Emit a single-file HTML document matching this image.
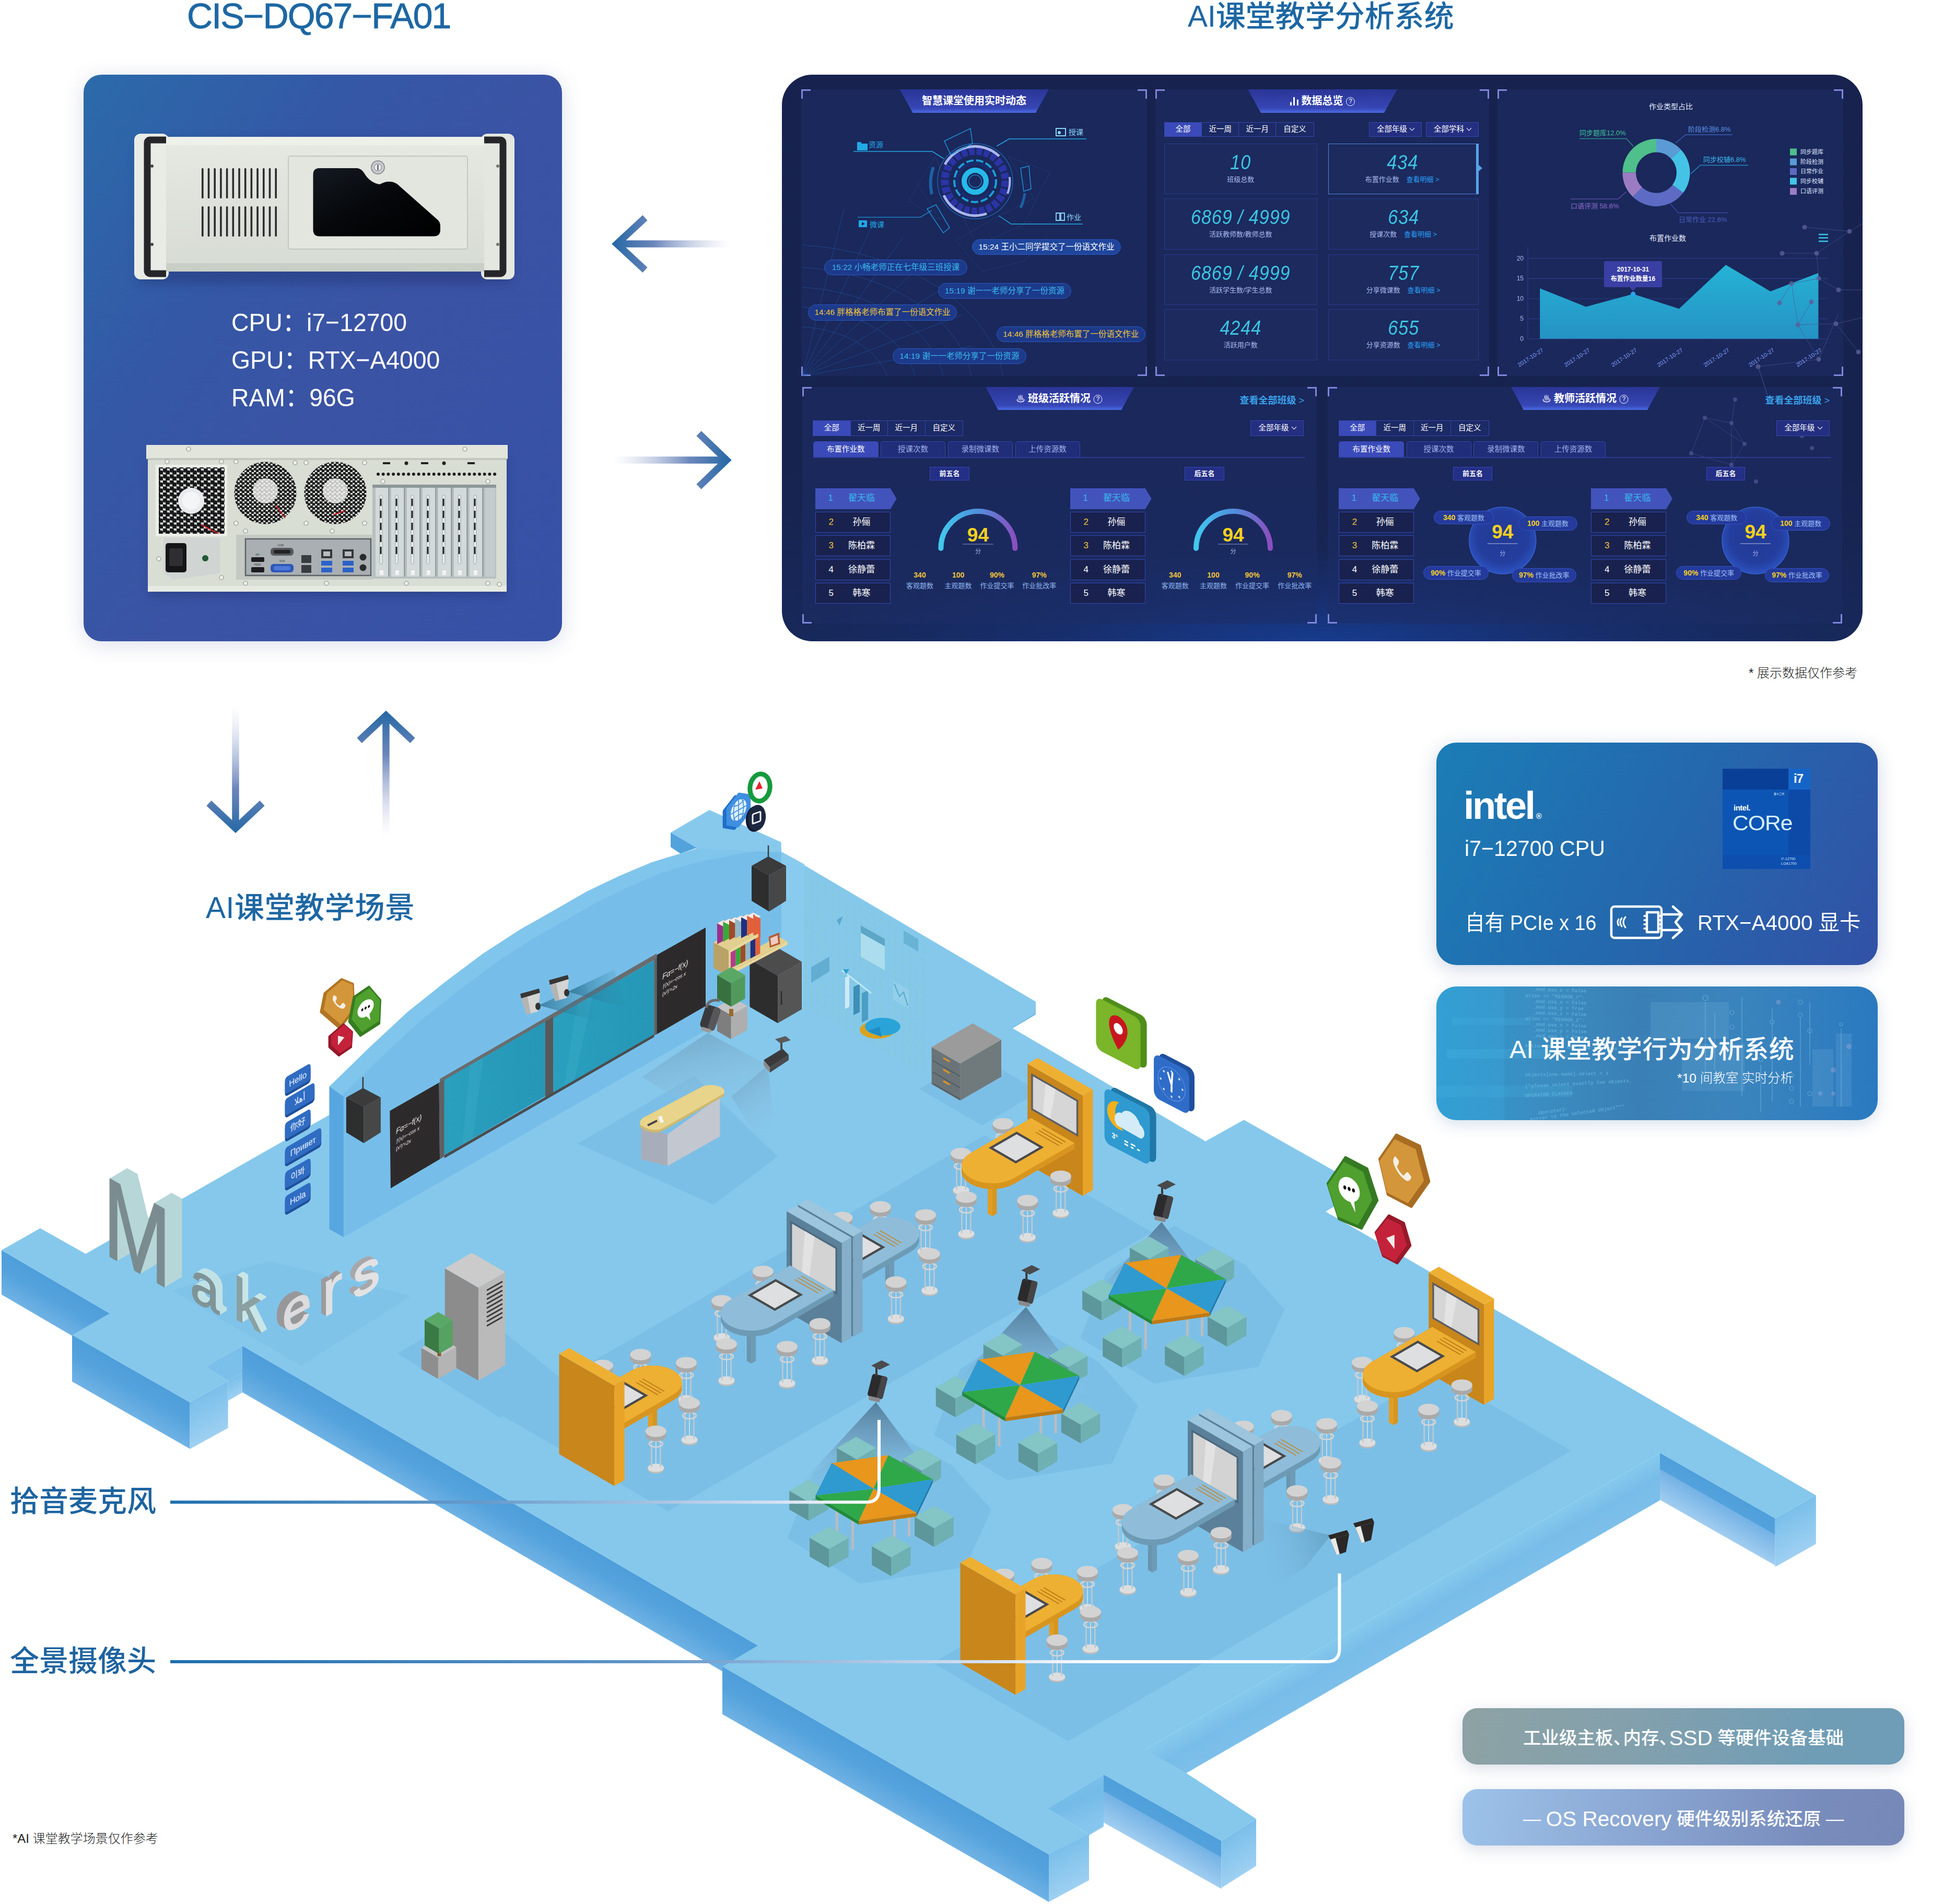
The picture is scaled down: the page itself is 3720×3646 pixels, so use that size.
<!DOCTYPE html>
<html lang="zh-CN">
<head>
<meta charset="utf-8">
<title>CIS-DQ67-FA01 AI课堂教学分析系统</title>
<style>

*{margin:0;padding:0;box-sizing:border-box}
html,body{width:3720px;height:3646px;background:#fff;overflow:hidden}
body{font-family:"Liberation Sans","Noto Sans CJK SC",sans-serif;color:#222}
#page{position:relative;width:3720px;height:3646px;overflow:hidden;background:#fff}
.abs{position:absolute}
.t{position:absolute;white-space:nowrap;line-height:1}
.ttl{color:#1d67a3;font-weight:500}
svg{position:absolute;left:0;top:0;overflow:visible}
svg text{font-family:"Liberation Sans","Noto Sans CJK SC",sans-serif}
svg g.mono text{font-family:"Liberation Mono",monospace}
/* hardware card */
#hw{left:160px;top:143px;width:916px;height:1085px;border-radius:34px;
 background:linear-gradient(125deg,#2b6baa 0%,#3458a6 30%,#3b53a4 55%,#3651a6 100%);
 box-shadow:0 6px 40px rgba(60,80,140,.18)}
#hw .spec{color:#fff;font-size:49px;left:283px;transform:scaleX(.945);transform-origin:0 0}
/* right cards */
#intel{left:2750px;top:1422px;width:845px;height:426px;border-radius:38px;
 background:linear-gradient(118deg,#1b7db6 0%,#2468ad 50%,#3251a6 100%);
 box-shadow:0 8px 36px rgba(40,70,140,.22);color:#fff}
#aic{left:2750px;top:1889px;width:845px;height:256px;border-radius:38px;overflow:hidden;
 background:linear-gradient(90deg,#2e9ad0 0%,#3b8ec2 22%,#3a80b6 45%,#3a84bd 70%,#2a79c0 100%);
 box-shadow:0 8px 30px rgba(40,90,150,.18);color:#fff}
.pill{left:2800px;width:846px;height:108px;border-radius:28px;color:#fff;font-size:34.5px;
 text-align:center;line-height:114px;white-space:nowrap;box-shadow:0 8px 30px rgba(90,110,150,.22);font-weight:500}
.pill span{font-size:40.5px;line-height:1;vertical-align:-1.5px}
.pill i{font-style:normal;display:inline-block;width:19px;margin-right:0}
#pill1{top:3271px;background:linear-gradient(100deg,#8da2a4 0%,#82a0ad 40%,#6f9db6 80%,#6f9cb6 100%)}
#pill2{top:3426px;background:linear-gradient(100deg,#9dc3ea 0%,#8aa6d2 40%,#788cbc 80%,#7688b8 100%)}

#dash{left:1497px;top:143px;width:2069px;height:1085px;border-radius:58px;overflow:hidden;
 background:linear-gradient(180deg,#17224e 0%,#17234f 70%,#17285a 100%)}
#dashin{left:-1497px;top:-143px;width:3720px;height:3646px;font-family:"Liberation Sans","Noto Sans CJK SC",sans-serif}
.pnl{background:rgba(30,46,102,.55)}
.pnl i{position:absolute;width:18px;height:18px;border:0 solid #7f86dc}
.pnl .c1{left:0;top:0;border-left-width:3.500px;border-top-width:3.500px}
.pnl .c2{right:0;top:0;border-right-width:3.500px;border-top-width:3.500px}
.pnl .c3{left:0;bottom:0;border-left-width:3.500px;border-bottom-width:3.500px}
.pnl .c4{right:0;bottom:0;border-right-width:3.500px;border-bottom-width:3.500px}
.msg{border-radius:16px;border:1.500px solid #2b57c0;font-size:15.500px;text-align:center;white-space:nowrap}
.tabs{border:1.500px solid #3546b0;background:#1c2a66;display:flex;font-size:14.500px;color:#fff;white-space:nowrap}
.tabs span{display:block;text-align:center;border-right:1.500px solid #3546b0}
.tabs span:last-child{border-right:0}
.tabs span.on{background:#3a4ab8}
.dd{border:1.500px solid #3546b0;background:#242f80;font-size:14.500px;color:#fff;text-align:center;white-space:nowrap}
.dd b{display:inline-block;width:7px;height:7px;border-right:1.500px solid #fff;border-bottom:1.500px solid #fff;transform:translateY(-3px) rotate(45deg);margin-left:2px}
.sb{border:1.500px solid #2a3a8e;background:#1c2a5e;text-align:center;white-space:nowrap}
.sb.act{border:1.500px solid #4f86d8;border-right:5px solid #5aa0e8}
.sb .num{font-size:38px;line-height:38px;margin-top:16px;color:#3cc4e2;font-style:italic;font-weight:400;letter-spacing:1px;font-family:"Liberation Sans",sans-serif;transform:scaleX(.9)}
.sb .lab{font-size:13px;line-height:16px;margin-top:6px;color:#a9b8ea}
.sb .lab em{font-style:normal;color:#2a9df4;margin-left:10px}
.tb2{border:1.500px solid #3546b0;border-bottom:0;background:#202d78;border-radius:5px 5px 0 0;font-size:14.500px;color:#9fb0e8;text-align:center;white-space:nowrap}
.tb2.on{background:#3a4ab8;color:#fff}
.bdg{border:1.500px solid #3546b0;background:#242f86;font-size:13px;color:#fff;text-align:center;white-space:nowrap;font-weight:700}
.li{border:1.500px solid #3546b0;background:#19224e;font-size:17px;color:#fff;white-space:nowrap}
.li b{position:absolute;left:25px;font-weight:400}
.li span{position:absolute;left:0;width:100%;text-align:center;padding-left:34px}
.li.on{border:0;background:#4353bc;color:#39b8ee;clip-path:polygon(0 0,144px 0,156px 50%,144px 100%,0 100%)}
.li.on b{color:#39b8ee}
.li.on span{width:144px}
.pl{border-radius:14px;border:1.500px solid #3452c0;background:#243a9c;font-size:13px;color:#9fc0f4;text-align:center;white-space:nowrap}
.pl b{color:#f5d020;font-size:14px}
.bars{display:inline-block;width:16px;height:16px;vertical-align:-2px;background:linear-gradient(90deg,#fff 0 3px,transparent 3px 6.500px,#fff 6.500px 9.500px,transparent 9.500px 13px,#fff 13px 16px);clip-path:polygon(0 60%,3px 60%,3px 0,9.500px 0,9.500px 30%,16px 30%,16px 100%,0 100%)}
.q{display:inline-block;width:17px;height:17px;line-height:15px;border:1.500px solid #fff;border-radius:50%;font-size:12px;font-weight:400;text-align:center;vertical-align:2px}
.fl{font-weight:400;font-size:17px}

</style>
</head>
<body>
<div id="page">

<!-- p_floor -->
<svg width="3720" height="3646" viewBox="0 0 3720 3646" id="floor">
<defs>
<linearGradient id="fd" x1="0" y1="0" x2=".35" y2="1"><stop offset="0" stop-color="#4f9fdb"/><stop offset=".45" stop-color="#55a4de"/><stop offset="1" stop-color="#7ab8e6"/></linearGradient>
<linearGradient id="fl" x1="0" y1="0" x2="0" y2="1"><stop offset="0" stop-color="#79bfea"/><stop offset="1" stop-color="#9fd1f2"/></linearGradient>
<linearGradient id="fm" x1="0" y1="0" x2=".4" y2="1"><stop offset="0" stop-color="#86c9ed"/><stop offset=".55" stop-color="#74bbe8"/><stop offset="1" stop-color="#86c6ee"/></linearGradient>
<linearGradient id="fl2" x1="0" y1="0" x2=".2" y2="1"><stop offset="0" stop-color="#6aaee3"/><stop offset="1" stop-color="#a4d0f1"/></linearGradient>
<linearGradient id="cone" x1="0" y1="0" x2="0" y2="1"><stop offset="0" stop-color="#547f9e" stop-opacity="1"/><stop offset=".45" stop-color="#6f9fc0" stop-opacity=".8"/><stop offset="1" stop-color="#85c8ec" stop-opacity=".1"/></linearGradient>
<linearGradient id="cone2" x1="0" y1="0" x2=".3" y2="1"><stop offset="0" stop-color="#5f8fae" stop-opacity=".9"/><stop offset=".6" stop-color="#8ab8d6" stop-opacity=".45"/><stop offset="1" stop-color="#85c8ec" stop-opacity="0"/></linearGradient>
<linearGradient id="cone3" x1="1" y1="0" x2="0" y2=".3"><stop offset="0" stop-color="#4f86a8" stop-opacity=".9"/><stop offset="1" stop-color="#7bbfe6" stop-opacity="0"/></linearGradient>
<linearGradient id="cone4" x1="0" y1=".5" x2="1" y2=".4"><stop offset="0" stop-color="#2f6f90" stop-opacity=".95"/><stop offset="1" stop-color="#2a88a8" stop-opacity="0"/></linearGradient>
<linearGradient id="teal" x1="0" y1="0" x2="1" y2="0"><stop offset="0" stop-color="#2a9fbe"/><stop offset="1" stop-color="#2697b6"/></linearGradient>
<pattern id="grid" width="13.400" height="13.400" patternUnits="userSpaceOnUse" patternTransform="matrix(1 .577 0 1 1540 1665)"><path d="M0 0H13.400M0 0V13.400" stroke="#7fcab6" stroke-width="1.600" fill="none" opacity=".75"/></pattern>
</defs>
<linearGradient id="sf1" gradientUnits="userSpaceOnUse" x1="3.0" y1="2394.0" x2="-34.0" y2="2457.4"><stop offset="0" stop-color="#4e9eda"/><stop offset="0.45" stop-color="#55a3dd"/><stop offset="1" stop-color="#6fb2e4"/></linearGradient>
<polygon points="3.0,2394.0 210.0,2515.0 210.0,2600.0 3.0,2479.0" fill="url(#sf1)"/>
<linearGradient id="sf2" gradientUnits="userSpaceOnUse" x1="138.0" y1="2556.5" x2="99.7" y2="2623.6"><stop offset="0" stop-color="#4e9eda"/><stop offset="0.45" stop-color="#55a3dd"/><stop offset="1" stop-color="#6fb2e4"/></linearGradient>
<polygon points="138.0,2556.5 363.0,2685.0 363.0,2774.0 138.0,2645.5" fill="url(#sf2)"/>
<linearGradient id="sf3" gradientUnits="userSpaceOnUse" x1="363.0" y1="2685.0" x2="401.1" y2="2754.0"><stop offset="0" stop-color="#7abfea"/><stop offset="1" stop-color="#9ed0f2"/></linearGradient>
<polygon points="363.0,2685.0 436.6,2644.4 436.6,2734.4 363.0,2775.0" fill="url(#sf3)"/>
<linearGradient id="sf4" gradientUnits="userSpaceOnUse" x1="436.6" y1="2644.4" x2="453.1" y2="2672.8"><stop offset="0" stop-color="#7abfea"/><stop offset="1" stop-color="#9ed0f2"/></linearGradient>
<polygon points="436.6,2644.4 464.0,2628.5 464.0,2666.5 436.6,2682.4" fill="url(#sf4)"/>
<linearGradient id="sf5" gradientUnits="userSpaceOnUse" x1="464.0" y1="2577.0" x2="425.3" y2="2643.5"><stop offset="0" stop-color="#4e9eda"/><stop offset="0.45" stop-color="#55a3dd"/><stop offset="1" stop-color="#6fb2e4"/></linearGradient>
<polygon points="464.0,2577.0 1451.0,3151.0 1451.0,3240.0 464.0,2666.0" fill="url(#sf5)"/>
<linearGradient id="sf6" gradientUnits="userSpaceOnUse" x1="1383.0" y1="3191.5" x2="1343.7" y2="3259.9"><stop offset="0" stop-color="#4e9eda"/><stop offset="0.45" stop-color="#55a3dd"/><stop offset="1" stop-color="#6fb2e4"/></linearGradient>
<polygon points="1383.0,3191.5 2008.0,3551.0 2008.0,3642.0 1383.0,3282.5" fill="url(#sf6)"/>
<linearGradient id="sf7" gradientUnits="userSpaceOnUse" x1="2008.0" y1="3551.0" x2="2046.0" y2="3621.5"><stop offset="0" stop-color="#7abfea"/><stop offset="1" stop-color="#9ed0f2"/></linearGradient>
<polygon points="2008.0,3551.0 2085.0,3509.5 2085.0,3600.5 2008.0,3642.0" fill="url(#sf7)"/>
<linearGradient id="sf8" gradientUnits="userSpaceOnUse" x1="2085.0" y1="3509.5" x2="2087.2" y2="3513.2"><stop offset="0" stop-color="#7abfea"/><stop offset="1" stop-color="#9ed0f2"/></linearGradient>
<polygon points="2085.0,3509.5 2113.0,3493.0 2113.0,3498.0 2085.0,3514.5" fill="url(#sf8)"/>
<linearGradient id="sf9" gradientUnits="userSpaceOnUse" x1="2113.0" y1="3398.0" x2="2073.7" y2="3467.8"><stop offset="0" stop-color="#4f9fdb"/><stop offset="0.34" stop-color="#53a2dc"/><stop offset="0.35" stop-color="#74b2e5"/><stop offset="1" stop-color="#a0cdf0"/></linearGradient>
<polygon points="2113.0,3398.0 2338.5,3525.0 2338.5,3617.0 2113.0,3490.0" fill="url(#sf9)"/>
<linearGradient id="sf10" gradientUnits="userSpaceOnUse" x1="2338.5" y1="3525.0" x2="2379.1" y2="3589.3"><stop offset="0" stop-color="#7abfea"/><stop offset="1" stop-color="#9ed0f2"/></linearGradient>
<polygon points="2338.5,3525.0 2405.0,3483.0 2405.0,3573.0 2338.5,3615.0" fill="url(#sf10)"/>
<linearGradient id="sf11" gradientUnits="userSpaceOnUse" x1="2192.0" y1="3350.0" x2="2231.4" y2="3418.3"><stop offset="0" stop-color="#86c9ed"/><stop offset="0.5" stop-color="#78bde9"/><stop offset="1" stop-color="#7cbfea"/></linearGradient>
<polygon points="2192.0,3350.0 3178.0,2782.0 3178.0,2873.0 2192.0,3441.0" fill="url(#sf11)"/>
<linearGradient id="sf12" gradientUnits="userSpaceOnUse" x1="3178.0" y1="2782.0" x2="3139.3" y2="2850.0"><stop offset="0" stop-color="#4f9fdb"/><stop offset="0.34" stop-color="#53a2dc"/><stop offset="0.35" stop-color="#74b2e5"/><stop offset="1" stop-color="#a0cdf0"/></linearGradient>
<polygon points="3178.0,2782.0 3398.7,2907.6 3398.7,2997.6 3178.0,2872.0" fill="url(#sf12)"/>
<linearGradient id="sf13" gradientUnits="userSpaceOnUse" x1="3398.7" y1="2907.6" x2="3438.5" y2="2978.1"><stop offset="0" stop-color="#7abfea"/><stop offset="1" stop-color="#9ed0f2"/></linearGradient>
<polygon points="3398.7,2907.6 3476.8,2863.5 3476.8,2956.5 3398.7,3000.6" fill="url(#sf13)"/>
<polygon points="2192.0,3350.0 2266.0,3392.0 2266.0,3400.0 2192.0,3441.0" fill="#85c8ec"/>
<polygon points="1982.8,1918.0 1982.8,1943.0 1937.0,1970.0 1937.0,1945.0" fill="#74bbe8"/>
<polygon points="1300.0,1700.0 1496.0,1631.0 1982.8,1918.0 1980.7,1941.0 1937.0,1968.0 2308.0,2185.5 2381.5,2144.5 2615.0,2276.3 2538.0,2320.0 3476.8,2863.5 3398.7,2907.6 3178.0,2782.0 2192.0,3350.0 2266.0,3392.0 2405.0,3483.0 2338.5,3525.0 2113.0,3398.0 2005.0,3463.0 2085.0,3512.5 2008.0,3551.0 1383.0,3191.5 1451.0,3151.0 464.0,2577.0 393.4,2617.0 436.6,2644.4 363.0,2685.0 138.0,2556.5 210.0,2515.0 3.0,2394.0 77.0,2352.0 164.0,2401.0 632.0,2134.0" fill="#85c8ec"/>
<polygon points="393.4,2617.0 464.0,2577.0 464.0,2628.5 436.6,2644.4" fill="#7bc0ea"/>
<polygon points="2005.0,3463.0 2113.0,3398.0 2113.0,3493.0 2085.0,3512.5" fill="url(#fm)"/>
<polygon points="958.0,2709.0 1884.6,2174.0 2205.8,2359.5 1279.0,2894.0" fill="#7cbfe6"/>
<polygon points="1785.8,3184.6 2749.0,2628.8 3008.6,2778.0 2045.0,3334.0" fill="#7cbfe6"/>
<polygon points="1106.0,2190.0 1329.0,2060.0 1489.0,2215.0 1366.0,2307.0" fill="#7cbfe6"/>
<polygon points="760.6,2591.7 908.8,2505.0 1075.6,2641.0 958.0,2715.0" fill="#7cbfe6"/>
<polygon points="329.4,2471.3 514.7,2414.7 787.5,2481.6 576.5,2615.4" fill="#80c3e9"/>
<polygon points="1760.0,2085.0 1870.0,2020.0 1990.0,2090.0 1880.0,2155.0" fill="#7cbfe6"/>
<polygon points="630.6,2080.6 708.0,2005.0 780.0,1938.0 852.0,1880.6 924.0,1826.5 996.0,1779.7 1061.8,1742.5 1123.5,1707.0 1185.3,1677.6 1247.0,1651.4 1302.6,1634.4 1333.5,1625.0 1496.0,1625.0 1496.0,1890.0 657.8,2369.0 630.6,2353.7" fill="#80c5ec"/>
<polygon points="657.8,2100.0 652.6,2099.6 730.0,2024.0 802.0,1957.0 874.0,1899.6 946.0,1845.5 1018.0,1798.7 1083.8,1761.5 1145.5,1726.0 1207.3,1696.6 1269.0,1670.4 1339.7,1650.0 1432.3,1632.0 1496.0,1628.0 1496.0,1890.0 657.8,2369.0" fill="#76bee9"/>
<polygon points="630.6,2080.6 657.8,2100.0 657.8,2369.0 630.6,2353.7" fill="#58a6e0"/>
<polygon points="1284.0,1594.3 1358.2,1551.0 1495.6,1612.8 1496.0,1632.0 1333.5,1625.0" fill="#87c9ed"/>
<polygon points="1284.0,1594.3 1333.5,1623.7 1302.6,1634.4 1284.0,1622.0" fill="#52a2dc"/>
<polygon points="1496.0,1631.0 1540.0,1655.0 1540.0,1920.0 1496.0,1893.0" fill="#89cbef"/>
<polygon points="1540.0,1665.0 1772.0,1800.0 1772.0,2065.0 1540.0,1925.0" fill="url(#grid)"/>
<polygon points="1553.0,1852.0 1588.0,1832.0 1588.0,1860.0 1553.0,1882.0" fill="#5aa6cc" opacity=".8"/>
<polygon points="1730.0,1782.0 1758.0,1798.0 1758.0,1822.0 1730.0,1806.0" fill="#62aed2" opacity=".8"/>
<polygon points="1648.0,1772.0 1694.0,1798.0 1694.0,1858.0 1648.0,1832.0" fill="#b8e4f0" opacity=".75"/>
<polygon points="1648.0,1772.0 1694.0,1798.0 1694.0,1812.0 1648.0,1786.0" fill="#4f9cc0" opacity=".85"/>
<polygon points="1710.0,1878.0 1740.0,1896.0 1740.0,1932.0 1710.0,1914.0" fill="#9bd4ec" opacity=".6"/>
<path d="M1712 1884L1722 1908L1730 1900L1738 1926" stroke="#5aa8cc" stroke-width="2" fill="none"/>
<polygon points="1602.0,1762.0 1614.0,1754.0 1607.0,1772.0" fill="#5aa6cc"/>
<polygon points="1618.0,1872.0 1626.0,1868.0 1626.0,1928.0 1618.0,1932.0" fill="#cfeaf4"/>
<polygon points="1634.0,1890.0 1646.0,1884.0 1646.0,1938.0 1634.0,1944.0" fill="#3d8fb8"/>
<polygon points="1650.0,1902.0 1662.0,1896.0 1662.0,1952.0 1650.0,1958.0" fill="#4a9ec6"/>
<path d="M1612 1858L1640 1880L1668 1902" stroke="#bfe6f2" stroke-width="3" fill="none"/><path d="M1614 1856l12 0l-6 10z" fill="#2f9fd0"/>
<ellipse cx="1680" cy="1972" rx="34" ry="17" fill="#d9a320"/><ellipse cx="1690" cy="1966" rx="34" ry="17" fill="#2aa4d8"/><path d="M1662 1974l22-8l4 20z" fill="#1f8cc4"/>
<polygon points="842.0,2066.0 1257.0,1826.0 1257.0,1836.0 842.0,2076.0" fill="#6a6c6e"/>
<polygon points="746.3,2127.2 840.5,2073.2 842.0,2219.8 747.9,2275.4" fill="#2d2a2b"/>
<polygon points="840.5,2073.0 850.8,2067.0 850.8,2214.0 842.0,2220.0" fill="#5f6163"/>
<polygon points="850.8,2068.0 1043.8,1956.3 1043.8,2098.9 850.8,2212.0" fill="url(#teal)"/>
<polygon points="1043.8,1956.3 1059.3,1947.5 1059.3,2092.2 1043.8,2101.0" fill="#56585a"/>
<polygon points="1059.3,1949.6 1252.3,1839.0 1252.3,1980.5 1059.3,2092.2" fill="url(#teal)"/>
<polygon points="1252.3,1837.0 1257.4,1834.0 1257.4,1980.5 1252.3,1983.0" fill="#5f6163"/>
<polygon points="1257.4,1828.7 1351.0,1776.2 1351.0,1926.5 1257.4,1980.5" fill="#2d2a2b"/>
<polygon points="850.8,2212.0 1252.3,1980.5 1252.3,1986.0 850.8,2218.0" fill="#4a4c4e"/>
<polygon points="900.0,2040.0 925.0,2025.0 905.0,2180.0 885.0,2192.0" fill="#3fb0cc" opacity=".35"/>
<polygon points="1105.0,1923.0 1135.0,1905.0 1100.0,2068.0 1080.0,2080.0" fill="#3fb0cc" opacity=".35"/>
<g transform="matrix(.866 -.5 0 1 758 2172)" fill="#e8e8e8" font-size="15" font-style="italic"><text x="0" y="0">Fα=−f(x)</text><text x="0" y="17" font-size="10">ƒ(x)=−cos x</text><text x="0" y="32" font-size="10">(x²)′=2x</text></g>
<g transform="matrix(.866 -.5 0 1 1268 1876)" fill="#e8e8e8" font-size="15" font-style="italic"><text x="0" y="0">Fα=−f(x)</text><text x="0" y="17" font-size="10">ƒ(x)=−cos x</text><text x="0" y="32" font-size="10">(x²)′=2x</text></g>
<path d="M694.9 2062.4V2091.4" stroke="#3a3a3a" stroke-width="2.500"/>
<polygon points="662.9,2101.4 696.4,2119.4 696.4,2189.0 662.9,2168.4" fill="#2e2e2f"/>
<polygon points="696.4,2119.4 728.9,2101.4 728.9,2168.4 696.4,2189.0" fill="#474748"/>
<polygon points="662.9,2101.4 694.9,2083.4 728.9,2101.4 696.4,2119.4" fill="#3b3b3c"/>
<path d="M1471.0 1619.0V1648.0" stroke="#3a3a3a" stroke-width="2.500"/>
<polygon points="1439.0,1658.0 1472.5,1676.0 1472.5,1745.6 1439.0,1725.0" fill="#2e2e2f"/>
<polygon points="1472.5,1676.0 1505.0,1658.0 1505.0,1725.0 1472.5,1745.6" fill="#474748"/>
<polygon points="1439.0,1658.0 1471.0,1640.0 1505.0,1658.0 1472.5,1676.0" fill="#3b3b3c"/>
<polygon points="1032.0,1925.0 1121.0,1883.0 1146.0,1957.0" fill="url(#cone4)" opacity=".8"/>
<polygon points="996.0,1903.0 1032.0,1893.0 1034.0,1901.0 998.0,1912.0" fill="#3a3634"/>
<polygon points="998.0,1912.0 1034.0,1901.0 1030.0,1937.0 1008.0,1943.0" fill="#d4d4d2"/>
<polygon points="998.0,1912.0 1010.0,1909.0 1016.0,1941.0 1008.0,1943.0" fill="#b4b4b2"/>
<ellipse cx="1030.0" cy="1927.0" rx="5" ry="7" fill="#333"/>
<polygon points="1087.0,1899.0 1176.0,1857.0 1201.0,1931.0" fill="url(#cone4)" opacity=".8"/>
<polygon points="1051.0,1877.0 1087.0,1867.0 1089.0,1875.0 1053.0,1886.0" fill="#3a3634"/>
<polygon points="1053.0,1886.0 1089.0,1875.0 1085.0,1911.0 1063.0,1917.0" fill="#d4d4d2"/>
<polygon points="1053.0,1886.0 1065.0,1883.0 1071.0,1915.0 1063.0,1917.0" fill="#b4b4b2"/>
<ellipse cx="1085.0" cy="1901.0" rx="5" ry="7" fill="#333"/>
<polygon points="1435.4,1928.2 1489.1,1959.2 1489.1,1868.2 1435.4,1837.2" fill="#2e2d2d"/>
<polygon points="1535.0,1932.7 1489.1,1959.2 1489.1,1868.2 1535.0,1841.7" fill="#565555"/>
<polygon points="1481.3,1810.7 1535.0,1841.7 1489.1,1868.2 1435.4,1837.2" fill="#4d4c4c"/>
<path d="M1496 1898v26" stroke="#2a2a2a" stroke-width="2.500"/>
<polygon points="1366.0,1804.8 1394.9,1819.8 1394.9,1868.7 1366.0,1853.7" fill="#b9a267"/>
<polygon points="1366.0,1804.8 1394.9,1819.8 1451.7,1787.8 1423.0,1773.0" fill="#e3cf8f"/>
<polygon points="1394.9,1862.7 1507.6,1802.8 1490.0,1793.5 1455.0,1812.0 1451.7,1790.0 1394.9,1822.0" fill="#e3cf8f"/>
<polygon points="1373.0,1768.0 1384.5,1762.0 1384.5,1802.0 1373.0,1808.0" fill="#9b2f8a"/>
<polygon points="1373.0,1768.0 1384.5,1762.0 1399.0,1769.5 1387.5,1775.5" fill="#f3ebe6"/>
<polygon points="1384.5,1765.0 1387.5,1766.5 1387.5,1804.0 1384.5,1802.0" fill="#5a8a58" opacity=".6"/>
<polygon points="1384.5,1765.1 1396.0,1759.1 1396.0,1797.1 1384.5,1803.1" fill="#3aa83a"/>
<polygon points="1384.5,1765.1 1396.0,1759.1 1410.5,1766.6 1399.0,1772.6" fill="#f3ebe6"/>
<polygon points="1396.0,1762.1 1399.0,1763.6 1399.0,1799.1 1396.0,1797.1" fill="#7a3a28" opacity=".6"/>
<polygon points="1396.0,1762.2 1407.5,1756.2 1407.5,1794.2 1396.0,1800.2" fill="#a04a28"/>
<polygon points="1396.0,1762.2 1407.5,1756.2 1422.0,1763.7 1410.5,1769.7" fill="#f3ebe6"/>
<polygon points="1407.5,1759.2 1410.5,1760.7 1410.5,1796.2 1407.5,1794.2" fill="#5a8a58" opacity=".6"/>
<polygon points="1407.5,1759.3 1419.0,1753.3 1419.0,1791.3 1407.5,1797.3" fill="#8fb8c8"/>
<polygon points="1407.5,1759.3 1419.0,1753.3 1433.5,1760.8 1422.0,1766.8" fill="#f3ebe6"/>
<polygon points="1419.0,1756.3 1422.0,1757.8 1422.0,1793.3 1419.0,1791.3" fill="#7a3a28" opacity=".6"/>
<polygon points="1419.0,1756.4 1430.5,1750.4 1430.5,1790.4 1419.0,1796.4" fill="#1f2f80"/>
<polygon points="1419.0,1756.4 1430.5,1750.4 1445.0,1757.9 1433.5,1763.9" fill="#f3ebe6"/>
<polygon points="1430.5,1753.4 1433.5,1754.9 1433.5,1792.4 1430.5,1790.4" fill="#5a8a58" opacity=".6"/>
<polygon points="1430.5,1753.5 1442.0,1747.5 1442.0,1785.5 1430.5,1791.5" fill="#e0603a"/>
<polygon points="1430.5,1753.5 1442.0,1747.5 1456.5,1755.0 1445.0,1761.0" fill="#f3ebe6"/>
<polygon points="1442.0,1750.5 1445.0,1752.0 1445.0,1787.5 1442.0,1785.5" fill="#7a3a28" opacity=".6"/>
<polygon points="1442.0,1752.0 1456.0,1759.0 1456.0,1796.0 1442.0,1790.0" fill="#e25f3c"/>
<polygon points="1399.0,1820.0 1408.4,1815.4 1408.4,1849.0 1399.0,1854.0" fill="#b8388f"/>
<polygon points="1408.4,1815.4 1417.8,1810.8 1417.8,1844.4 1408.4,1849.4" fill="#3aa83a"/>
<polygon points="1417.8,1810.8 1427.2,1806.2 1427.2,1839.8 1417.8,1844.8" fill="#a04a28"/>
<polygon points="1427.2,1806.2 1436.6,1801.6 1436.6,1835.2 1427.2,1840.2" fill="#8fb8c8"/>
<polygon points="1436.6,1801.6 1446.0,1797.0 1446.0,1830.6 1436.6,1835.6" fill="#1f2f80"/>
<polygon points="1446.0,1797.0 1455.4,1792.4 1455.4,1826.0 1446.0,1831.0" fill="#e0603a"/>
<polygon points="1394.9,1819.8 1451.7,1787.8 1451.7,1794.0 1394.9,1826.0" fill="#ead89a"/>
<polygon points="1394.9,1862.7 1507.6,1802.8 1507.6,1809.0 1394.9,1869.0" fill="#ead89a"/>
<polygon points="1471.7,1793.8 1491.7,1785.8 1493.7,1807.8 1473.7,1814.8" fill="#b85a32"/>
<polygon points="1475.0,1796.5 1488.5,1791.0 1490.0,1805.5 1476.5,1810.5" fill="#eeccc0"/>
<polygon points="1372.9,1974.6 1399.7,1990.1 1399.7,1944.1 1372.9,1928.6" fill="#7e7e7e"/>
<polygon points="1430.7,1972.2 1399.7,1990.1 1399.7,1944.1 1430.7,1926.2" fill="#aeaeae"/>
<polygon points="1403.9,1910.7 1430.7,1926.2 1399.7,1944.1 1372.9,1928.6" fill="#c4c4c4"/>
<path d="M1400 1932v14" stroke="#9a6a2a" stroke-width="8"/>
<polygon points="1373.0,1912.3 1399.8,1927.8 1399.8,1882.8 1373.0,1867.3" fill="#38703f"/>
<polygon points="1426.6,1912.3 1399.8,1927.8 1399.8,1882.8 1426.6,1867.3" fill="#519a5c"/>
<polygon points="1399.8,1851.8 1426.6,1867.3 1399.8,1882.8 1373.0,1867.3" fill="#5aa866"/>
<polygon points="1355.0,1978.0 1229.0,2062.0 1400.0,2170.0 1470.0,2040.0" fill="url(#cone2)" opacity=".7"/>
<polygon points="1470.0,2040.0 1400.0,2100.0 1480.0,2225.0 1490.0,2230.0" fill="url(#cone2)" opacity=".6"/>
<polygon points="1227.6,2160.0 1227.6,2219.8 1278.0,2232.7 1278.0,2172.0" fill="#a8adba"/>
<polygon points="1278.0,2172.0 1278.0,2232.7 1378.4,2176.0 1378.4,2100.0" fill="#c3c7d0"/>
<g transform="translate(0 9)">
<path d="M1226 2150Q1222 2140 1236 2134L1346 2076Q1356 2072 1372 2075Q1390 2079 1386 2090L1270 2156Q1250 2166 1226 2150Z" fill="#cdb870"/>
<path d="M1226 2145Q1222 2135 1236 2129L1346 2071Q1356 2067 1372 2070Q1390 2074 1386 2085L1270 2151Q1250 2161 1226 2145Z" fill="#e8d48a"/>
<path d="M1240 2146l18-9" stroke="#444" stroke-width="4"/><path d="M1260 2130l5 12l6-3l-5-12z" fill="#f4f4f4"/>
</g>
<g transform="rotate(18 1360 1948)"><rect x="1345" y="1926" width="30" height="46" rx="8" fill="#3a3a3c"/><rect x="1361" y="1926" width="14" height="46" rx="6" fill="#57575a"/><rect x="1350" y="1970" width="20" height="7" rx="3" fill="#9a9a9c"/></g>
<path d="M1352 1930q4-18 26-14" stroke="#6a6a6c" stroke-width="5" fill="none"/>
<polygon points="1462.0,2030.0 1498.0,2008.0 1510.0,2020.0 1474.0,2044.0" fill="#3a3a3c"/>
<polygon points="1462.0,2030.0 1474.0,2044.0 1474.0,2054.0 1462.0,2040.0" fill="#8a8a8c"/>
<polygon points="1474.0,2044.0 1510.0,2020.0 1510.0,2030.0 1474.0,2054.0" fill="#4a4a4c"/>
<path d="M1496 2012v-22" stroke="#4a4a4c" stroke-width="4"/>
<polygon points="1484.0,1990.0 1504.0,1984.0 1514.0,1992.0 1494.0,1998.0" fill="#5a5a5c"/>
<polygon points="1783.6,2076.1 1838.2,2107.6 1838.2,2036.6 1783.6,2005.1" fill="#6a7478"/>
<polygon points="1917.0,2062.1 1838.2,2107.6 1838.2,2036.6 1917.0,1991.1" fill="#707a7c"/>
<polygon points="1862.4,1959.6 1917.0,1991.1 1838.2,2036.6 1783.6,2005.1" fill="#9b9b9b"/>
<path d="M1786 2031.0L1838 2061.0" stroke="#4e575a" stroke-width="1.500"/>
<path d="M1806 2026.0l12 7" stroke="#e8961c" stroke-width="3"/>
<path d="M1786 2053.0L1838 2083.0" stroke="#4e575a" stroke-width="1.500"/>
<path d="M1806 2048.0l12 7" stroke="#e8961c" stroke-width="3"/>
<path d="M1786 2075.0L1838 2105.0" stroke="#4e575a" stroke-width="1.500"/>
<path d="M1806 2070.0l12 7" stroke="#e8961c" stroke-width="3"/>
<g font-family="Liberation Sans,sans-serif" stroke-linejoin="round">
<text transform="matrix(0.720 0.400 0 1 231.0 2379.5)" font-size="215" fill="#b7d6d8" stroke="#b7d6d8" stroke-width="3">M</text>
<text transform="matrix(0.720 0.400 0 1 230.0 2380.1)" font-size="215" fill="#b7d6d8" stroke="#b7d6d8" stroke-width="3">M</text>
<text transform="matrix(0.720 0.400 0 1 229.0 2380.7)" font-size="215" fill="#b7d6d8" stroke="#b7d6d8" stroke-width="3">M</text>
<text transform="matrix(0.720 0.400 0 1 228.0 2381.3)" font-size="215" fill="#b7d6d8" stroke="#b7d6d8" stroke-width="3">M</text>
<text transform="matrix(0.720 0.400 0 1 227.0 2381.9)" font-size="215" fill="#b7d6d8" stroke="#b7d6d8" stroke-width="3">M</text>
<text transform="matrix(0.720 0.400 0 1 226.0 2382.5)" font-size="215" fill="#b7d6d8" stroke="#b7d6d8" stroke-width="3">M</text>
<text transform="matrix(0.720 0.400 0 1 225.0 2383.0)" font-size="215" fill="#b7d6d8" stroke="#b7d6d8" stroke-width="3">M</text>
<text transform="matrix(0.720 0.400 0 1 224.0 2383.6)" font-size="215" fill="#b7d6d8" stroke="#b7d6d8" stroke-width="3">M</text>
<text transform="matrix(0.720 0.400 0 1 223.0 2384.2)" font-size="215" fill="#b7d6d8" stroke="#b7d6d8" stroke-width="3">M</text>
<text transform="matrix(0.720 0.400 0 1 222.0 2384.8)" font-size="215" fill="#b7d6d8" stroke="#b7d6d8" stroke-width="3">M</text>
<text transform="matrix(0.720 0.400 0 1 221.0 2385.4)" font-size="215" fill="#b7d6d8" stroke="#b7d6d8" stroke-width="3">M</text>
<text transform="matrix(0.720 0.400 0 1 220.0 2386.0)" font-size="215" fill="#b7d6d8" stroke="#b7d6d8" stroke-width="3">M</text>
<text transform="matrix(0.720 0.400 0 1 219.0 2386.6)" font-size="215" fill="#b7d6d8" stroke="#b7d6d8" stroke-width="3">M</text>
<text transform="matrix(0.720 0.400 0 1 218.0 2387.2)" font-size="215" fill="#b7d6d8" stroke="#b7d6d8" stroke-width="3">M</text>
<text transform="matrix(0.720 0.400 0 1 217.0 2387.8)" font-size="215" fill="#b7d6d8" stroke="#b7d6d8" stroke-width="3">M</text>
<text transform="matrix(0.720 0.400 0 1 216.0 2388.4)" font-size="215" fill="#b7d6d8" stroke="#b7d6d8" stroke-width="3">M</text>
<text transform="matrix(0.720 0.400 0 1 215.0 2389.0)" font-size="215" fill="#b7d6d8" stroke="#b7d6d8" stroke-width="3">M</text>
<text transform="matrix(0.720 0.400 0 1 214.0 2389.5)" font-size="215" fill="#b7d6d8" stroke="#b7d6d8" stroke-width="3">M</text>
<text transform="matrix(0.720 0.400 0 1 213.0 2390.1)" font-size="215" fill="#b7d6d8" stroke="#b7d6d8" stroke-width="3">M</text>
<text transform="matrix(0.720 0.400 0 1 212.0 2390.7)" font-size="215" fill="#b7d6d8" stroke="#b7d6d8" stroke-width="3">M</text>
<text transform="matrix(0.720 0.400 0 1 211.0 2391.3)" font-size="215" fill="#b7d6d8" stroke="#b7d6d8" stroke-width="3">M</text>
<text transform="matrix(0.720 0.400 0 1 210.0 2391.9)" font-size="215" fill="#b7d6d8" stroke="#b7d6d8" stroke-width="3">M</text>
<text transform="matrix(0.720 0.400 0 1 209.0 2392.5)" font-size="215" fill="#b7d6d8" stroke="#b7d6d8" stroke-width="3">M</text>
<text transform="matrix(0.720 0.400 0 1 208.0 2393.1)" font-size="215" fill="#b7d6d8" stroke="#b7d6d8" stroke-width="3">M</text>
<text transform="matrix(0.720 0.400 0 1 207.0 2393.7)" font-size="215" fill="#b7d6d8" stroke="#b7d6d8" stroke-width="3">M</text>
<text transform="matrix(0.720 0.400 0 1 206.0 2394.3)" font-size="215" fill="#b7d6d8" stroke="#b7d6d8" stroke-width="3">M</text>
<text transform="matrix(0.720 0.400 0 1 205.0 2394.9)" font-size="215" fill="#b7d6d8" stroke="#b7d6d8" stroke-width="3">M</text>
<text transform="matrix(0.720 0.400 0 1 204.0 2395.5)" font-size="215" fill="#b7d6d8" stroke="#b7d6d8" stroke-width="3">M</text>
<text transform="matrix(0.720 0.400 0 1 203.0 2396.0)" font-size="215" fill="#b7d6d8" stroke="#b7d6d8" stroke-width="3">M</text>
<text transform="matrix(0.720 0.400 0 1 202.0 2396.6)" font-size="215" fill="#b7d6d8" stroke="#b7d6d8" stroke-width="3">M</text>
<text transform="matrix(0.720 0.400 0 1 201.0 2397.2)" font-size="215" fill="#b7d6d8" stroke="#b7d6d8" stroke-width="3">M</text>
<text transform="matrix(0.720 0.400 0 1 200.0 2397.8)" font-size="215" fill="#b7d6d8" stroke="#b7d6d8" stroke-width="3">M</text>
<text transform="matrix(0.720 0.400 0 1 199.0 2398.4)" font-size="215" fill="#b7d6d8" stroke="#b7d6d8" stroke-width="3">M</text>
<text transform="matrix(0.720 0.400 0 1 198.0 2399.0)" font-size="215" fill="#7a8c8f" stroke="#7a8c8f" stroke-width="3">M</text>
<text transform="matrix(0.900 0.500 0 1 377.0 2479.0)" font-size="112" fill="#c0e2e6" stroke="#c0e2e6" stroke-width="2">a</text>
<text transform="matrix(0.900 0.500 0 1 374.8 2480.3)" font-size="112" fill="#c0e2e6" stroke="#c0e2e6" stroke-width="2">a</text>
<text transform="matrix(0.900 0.500 0 1 372.7 2481.7)" font-size="112" fill="#c0e2e6" stroke="#c0e2e6" stroke-width="2">a</text>
<text transform="matrix(0.900 0.500 0 1 370.5 2483.0)" font-size="112" fill="#c0e2e6" stroke="#c0e2e6" stroke-width="2">a</text>
<text transform="matrix(0.900 0.500 0 1 368.3 2484.3)" font-size="112" fill="#c0e2e6" stroke="#c0e2e6" stroke-width="2">a</text>
<text transform="matrix(0.900 0.500 0 1 366.2 2485.7)" font-size="112" fill="#c0e2e6" stroke="#c0e2e6" stroke-width="2">a</text>
<text transform="matrix(0.900 0.500 0 1 364.0 2487.0)" font-size="112" fill="#7f9497" stroke="#7f9497" stroke-width="2">a</text>
<text transform="matrix(0.900 0.500 0 1 458.0 2516.0)" font-size="116" fill="#c8e6e8" stroke="#c8e6e8" stroke-width="2">k</text>
<text transform="matrix(0.900 0.500 0 1 456.2 2517.2)" font-size="116" fill="#c8e6e8" stroke="#c8e6e8" stroke-width="2">k</text>
<text transform="matrix(0.900 0.500 0 1 454.3 2518.3)" font-size="116" fill="#c8e6e8" stroke="#c8e6e8" stroke-width="2">k</text>
<text transform="matrix(0.900 0.500 0 1 452.5 2519.5)" font-size="116" fill="#c8e6e8" stroke="#c8e6e8" stroke-width="2">k</text>
<text transform="matrix(0.900 0.500 0 1 450.7 2520.7)" font-size="116" fill="#c8e6e8" stroke="#c8e6e8" stroke-width="2">k</text>
<text transform="matrix(0.900 0.500 0 1 448.8 2521.8)" font-size="116" fill="#c8e6e8" stroke="#c8e6e8" stroke-width="2">k</text>
<text transform="matrix(0.900 0.500 0 1 447.0 2523.0)" font-size="116" fill="#8aa0a3" stroke="#8aa0a3" stroke-width="2">k</text>
<text transform="matrix(0.950 -0.520 0 1 527.0 2549.0)" font-size="104" fill="#98989b" stroke="#98989b" stroke-width="3">e</text>
<text transform="matrix(0.950 -0.520 0 1 529.3 2550.2)" font-size="104" fill="#98989b" stroke="#98989b" stroke-width="3">e</text>
<text transform="matrix(0.950 -0.520 0 1 531.7 2551.3)" font-size="104" fill="#98989b" stroke="#98989b" stroke-width="3">e</text>
<text transform="matrix(0.950 -0.520 0 1 534.0 2552.5)" font-size="104" fill="#98989b" stroke="#98989b" stroke-width="3">e</text>
<text transform="matrix(0.950 -0.520 0 1 536.3 2553.7)" font-size="104" fill="#98989b" stroke="#98989b" stroke-width="3">e</text>
<text transform="matrix(0.950 -0.520 0 1 538.7 2554.8)" font-size="104" fill="#98989b" stroke="#98989b" stroke-width="3">e</text>
<text transform="matrix(0.950 -0.520 0 1 541.0 2556.0)" font-size="104" fill="#dcdcde" stroke="#dcdcde" stroke-width="3">e</text>
<text transform="matrix(0.950 -0.520 0 1 608.0 2519.0)" font-size="122" fill="#9c9c9f" stroke="#9c9c9f" stroke-width="2">r</text>
<text transform="matrix(0.950 -0.520 0 1 609.8 2520.0)" font-size="122" fill="#9c9c9f" stroke="#9c9c9f" stroke-width="2">r</text>
<text transform="matrix(0.950 -0.520 0 1 611.6 2521.0)" font-size="122" fill="#9c9c9f" stroke="#9c9c9f" stroke-width="2">r</text>
<text transform="matrix(0.950 -0.520 0 1 613.4 2522.0)" font-size="122" fill="#9c9c9f" stroke="#9c9c9f" stroke-width="2">r</text>
<text transform="matrix(0.950 -0.520 0 1 615.2 2523.0)" font-size="122" fill="#9c9c9f" stroke="#9c9c9f" stroke-width="2">r</text>
<text transform="matrix(0.950 -0.520 0 1 617.0 2524.0)" font-size="122" fill="#e0e0e2" stroke="#e0e0e2" stroke-width="2">r</text>
<text transform="matrix(0.950 -0.520 0 1 667.0 2484.0)" font-size="108" fill="#a8a8ab" stroke="#a8a8ab" stroke-width="3">s</text>
<text transform="matrix(0.950 -0.520 0 1 668.8 2485.0)" font-size="108" fill="#a8a8ab" stroke="#a8a8ab" stroke-width="3">s</text>
<text transform="matrix(0.950 -0.520 0 1 670.6 2486.0)" font-size="108" fill="#a8a8ab" stroke="#a8a8ab" stroke-width="3">s</text>
<text transform="matrix(0.950 -0.520 0 1 672.4 2487.0)" font-size="108" fill="#a8a8ab" stroke="#a8a8ab" stroke-width="3">s</text>
<text transform="matrix(0.950 -0.520 0 1 674.2 2488.0)" font-size="108" fill="#a8a8ab" stroke="#a8a8ab" stroke-width="3">s</text>
<text transform="matrix(0.950 -0.520 0 1 676.0 2489.0)" font-size="108" fill="#e2e2e4" stroke="#e2e2e4" stroke-width="3">s</text>
</g>
<polygon points="851.8,2606.8 915.9,2643.8 915.9,2465.8 851.8,2428.8" fill="#8c8c8c"/>
<polygon points="967.4,2614.0 915.9,2643.8 915.9,2465.8 967.4,2436.0" fill="#bababa"/>
<polygon points="903.3,2399.0 967.4,2436.0 915.9,2465.8 851.8,2428.8" fill="#cbcbcb"/>
<path d="M932 2471.0L962 2454.0" stroke="#3a3a3a" stroke-width="2.800"/>
<path d="M932 2479.5L962 2462.5" stroke="#3a3a3a" stroke-width="2.800"/>
<path d="M932 2488.0L962 2471.0" stroke="#3a3a3a" stroke-width="2.800"/>
<path d="M932 2496.5L962 2479.5" stroke="#3a3a3a" stroke-width="2.800"/>
<path d="M932 2505.0L962 2488.0" stroke="#3a3a3a" stroke-width="2.800"/>
<path d="M932 2513.5L962 2496.5" stroke="#3a3a3a" stroke-width="2.800"/>
<path d="M932 2522.0L962 2505.0" stroke="#3a3a3a" stroke-width="2.800"/>
<path d="M932 2530.5L962 2513.5" stroke="#3a3a3a" stroke-width="2.800"/>
<path d="M932 2539.0L962 2522.0" stroke="#3a3a3a" stroke-width="2.800"/>
<polygon points="806.9,2622.0 838.9,2640.5 838.9,2599.5 806.9,2581.0" fill="#8e8e8e"/>
<polygon points="873.5,2620.5 838.9,2640.5 838.9,2599.5 873.5,2579.5" fill="#b4b4b4"/>
<polygon points="841.5,2561.0 873.5,2579.5 838.9,2599.5 806.9,2581.0" fill="#c4c4c4"/>
<path d="M841 2585v12" stroke="#8a5a2a" stroke-width="7"/>
<polygon points="813.0,2576.5 840.7,2592.5 840.7,2543.5 813.0,2527.5" fill="#3a7a45"/>
<polygon points="866.7,2577.5 840.7,2592.5 840.7,2543.5 866.7,2528.5" fill="#56a262"/>
<polygon points="839.0,2512.5 866.7,2528.5 840.7,2543.5 813.0,2527.5" fill="#5aa866"/>
<ellipse cx="1920.4" cy="2225.0" rx="15.500" ry="8" fill="#bcbcbc"/>
<ellipse cx="1920.4" cy="2222.0" rx="15.500" ry="8" fill="#dedede"/>
<path d="M1911.9 2160.0V2221.0M1928.9 2160.0V2221.0" stroke="#bfc9cf" stroke-width="2.600" fill="none"/>
<path d="M1920.4 2162.0V2224.0" stroke="#d6dde2" stroke-width="2" fill="none" opacity=".8"/>
<ellipse cx="1920.4" cy="2176.0" rx="13" ry="6" fill="none" stroke="#d5d5d5" stroke-width="2.500"/>
<path d="M1900.4 2152.0v8a20 11 0 0 0 40 0v-8z" fill="#a9a9a9"/>
<ellipse cx="1920.4" cy="2152.0" rx="20" ry="11" fill="#d3d3d3"/>
<ellipse cx="1840.0" cy="2282.0" rx="15.500" ry="8" fill="#bcbcbc"/>
<ellipse cx="1840.0" cy="2279.0" rx="15.500" ry="8" fill="#dedede"/>
<path d="M1831.5 2217.0V2278.0M1848.5 2217.0V2278.0" stroke="#bfc9cf" stroke-width="2.600" fill="none"/>
<path d="M1840.0 2219.0V2281.0" stroke="#d6dde2" stroke-width="2" fill="none" opacity=".8"/>
<ellipse cx="1840.0" cy="2233.0" rx="13" ry="6" fill="none" stroke="#d5d5d5" stroke-width="2.500"/>
<path d="M1820.0 2209.0v8a20 11 0 0 0 40 0v-8z" fill="#a9a9a9"/>
<ellipse cx="1840.0" cy="2209.0" rx="20" ry="11" fill="#d3d3d3"/>
<polygon points="1967.3,2229.0 2073.0,2290.0 2073.0,2098.0 1967.3,2037.0" fill="#c8861b"/>
<polygon points="2092.4,2278.8 2073.0,2290.0 2073.0,2098.0 2092.4,2086.8" fill="#e8a429"/>
<polygon points="1986.8,2025.8 2092.4,2086.8 2073.0,2098.0 1967.3,2037.0" fill="#eeb033"/>
<polygon points="1974.2,2055.0 2064.3,2107.0 2064.3,2177.0 1974.2,2125.0" fill="#5d5f63"/>
<polygon points="1977.7,2061.0 2060.8,2109.0 2060.8,2171.0 1977.7,2123.0" fill="#d6d6d6"/>
<polygon points="2001.9,2075.0 2021.0,2086.0 2010.6,2142.0 1996.7,2134.0" fill="#e4e4e4"/>
<polygon points="1986.8,2217.8 1986.8,2217.8 1986.8,2217.8 1986.8,2217.8" fill="#e29e22"/>
<polygon points="1986.8,2217.8 1986.8,2217.8 1986.8,2217.8 1986.8,2217.8" fill="#e29e22"/>
<polygon points="1986.8,2217.8 1986.8,2217.8 1986.8,2217.8 1986.8,2217.8" fill="#e29e22"/>
<polygon points="1891.1,2324.0 1899.8,2329.0 1899.8,2248.0 1891.1,2243.0" fill="#e29e22"/>
<polygon points="1908.4,2324.0 1899.8,2329.0 1899.8,2248.0 1908.4,2243.0" fill="#d8951f"/>
<polygon points="1899.8,2238.0 1908.4,2243.0 1899.8,2248.0 1891.1,2243.0" fill="#e29e22"/>
<polygon points="2057.4,2200.0 1941.3,2267.0 1931.0,2271.7 1919.2,2275.0 1906.3,2276.7 1893.2,2276.7 1880.3,2275.0 1868.5,2271.7 1858.2,2267.0 1850.0,2261.1 1844.3,2254.2 1841.3,2246.8 1841.3,2239.2 1844.3,2231.8 1850.0,2224.9 1858.2,2219.0 1974.2,2152.0" fill="#d8951f"/>
<polygon points="2057.4,2189.0 1941.3,2256.0 1941.3,2267.0 2057.4,2200.0" fill="#d8951f"/>
<polygon points="1941.3,2256.0 1931.0,2260.7 1931.0,2271.7 1941.3,2267.0" fill="#d8951f"/>
<polygon points="1931.0,2260.7 1919.2,2264.0 1919.2,2275.0 1931.0,2271.7" fill="#d8951f"/>
<polygon points="1919.2,2264.0 1906.3,2265.7 1906.3,2276.7 1919.2,2275.0" fill="#d8951f"/>
<polygon points="1906.3,2265.7 1893.2,2265.7 1893.2,2276.7 1906.3,2276.7" fill="#d8951f"/>
<polygon points="1893.2,2265.7 1880.3,2264.0 1880.3,2275.0 1893.2,2276.7" fill="#d8951f"/>
<polygon points="1880.3,2264.0 1868.5,2260.7 1868.5,2271.7 1880.3,2275.0" fill="#d8951f"/>
<polygon points="1868.5,2260.7 1858.2,2256.0 1858.2,2267.0 1868.5,2271.7" fill="#d8951f"/>
<polygon points="1858.2,2256.0 1850.0,2250.1 1850.0,2261.1 1858.2,2267.0" fill="#d8951f"/>
<polygon points="1850.0,2250.1 1844.3,2243.2 1844.3,2254.2 1850.0,2261.1" fill="#d8951f"/>
<polygon points="1844.3,2243.2 1841.3,2235.8 1841.3,2246.8 1844.3,2254.2" fill="#d8951f"/>
<polygon points="1841.3,2235.8 1841.3,2228.2 1841.3,2239.2 1841.3,2246.8" fill="#d8951f"/>
<polygon points="1841.3,2228.2 1844.3,2220.8 1844.3,2231.8 1841.3,2239.2" fill="#d8951f"/>
<polygon points="1844.3,2220.8 1850.0,2213.9 1850.0,2224.9 1844.3,2231.8" fill="#d8951f"/>
<polygon points="1850.0,2213.9 1858.2,2208.0 1858.2,2219.0 1850.0,2224.9" fill="#d8951f"/>
<polygon points="1858.2,2208.0 1974.2,2141.0 1974.2,2152.0 1858.2,2219.0" fill="#d8951f"/>
<polygon points="2057.4,2189.0 1941.3,2256.0 1931.0,2260.7 1919.2,2264.0 1906.3,2265.7 1893.2,2265.7 1880.3,2264.0 1868.5,2260.7 1858.2,2256.0 1850.0,2250.1 1844.3,2243.2 1841.3,2235.8 1841.3,2228.2 1844.3,2220.8 1850.0,2213.9 1858.2,2208.0 1974.2,2141.0" fill="#eeb033"/>
<polygon points="1946.5,2167.0 1998.5,2197.0 1944.8,2228.0 1892.8,2198.0" fill="#4a4a4c"/>
<polygon points="1946.5,2172.0 1989.8,2197.0 1944.8,2223.0 1901.5,2198.0" fill="#dedfe0"/>
<path d="M1995.0 2161.0L2040.0 2187.0" stroke="#b77a18" stroke-width="1.800"/>
<path d="M1989.0 2164.5L2034.0 2190.5" stroke="#b77a18" stroke-width="1.800"/>
<path d="M1982.9 2168.0L2027.9 2194.0" stroke="#b77a18" stroke-width="1.800"/>
<ellipse cx="1850.0" cy="2365.5" rx="15.500" ry="8" fill="#bcbcbc"/>
<ellipse cx="1850.0" cy="2362.5" rx="15.500" ry="8" fill="#dedede"/>
<path d="M1841.5 2300.5V2361.5M1858.5 2300.5V2361.5" stroke="#bfc9cf" stroke-width="2.600" fill="none"/>
<path d="M1850.0 2302.5V2364.5" stroke="#d6dde2" stroke-width="2" fill="none" opacity=".8"/>
<ellipse cx="1850.0" cy="2316.5" rx="13" ry="6" fill="none" stroke="#d5d5d5" stroke-width="2.500"/>
<path d="M1830.0 2292.5v8a20 11 0 0 0 40 0v-8z" fill="#a9a9a9"/>
<ellipse cx="1850.0" cy="2292.5" rx="20" ry="11" fill="#d3d3d3"/>
<ellipse cx="1967.3" cy="2372.0" rx="15.500" ry="8" fill="#bcbcbc"/>
<ellipse cx="1967.3" cy="2369.0" rx="15.500" ry="8" fill="#dedede"/>
<path d="M1958.8 2307.0V2368.0M1975.8 2307.0V2368.0" stroke="#bfc9cf" stroke-width="2.600" fill="none"/>
<path d="M1967.3 2309.0V2371.0" stroke="#d6dde2" stroke-width="2" fill="none" opacity=".8"/>
<ellipse cx="1967.3" cy="2323.0" rx="13" ry="6" fill="none" stroke="#d5d5d5" stroke-width="2.500"/>
<path d="M1947.3 2299.0v8a20 11 0 0 0 40 0v-8z" fill="#a9a9a9"/>
<ellipse cx="1967.3" cy="2299.0" rx="20" ry="11" fill="#d3d3d3"/>
<ellipse cx="2030.8" cy="2325.4" rx="15.500" ry="8" fill="#bcbcbc"/>
<ellipse cx="2030.8" cy="2322.4" rx="15.500" ry="8" fill="#dedede"/>
<path d="M2022.3 2260.4V2321.4M2039.3 2260.4V2321.4" stroke="#bfc9cf" stroke-width="2.600" fill="none"/>
<path d="M2030.8 2262.4V2324.4" stroke="#d6dde2" stroke-width="2" fill="none" opacity=".8"/>
<ellipse cx="2030.8" cy="2276.4" rx="13" ry="6" fill="none" stroke="#d5d5d5" stroke-width="2.500"/>
<path d="M2010.8 2252.4v8a20 11 0 0 0 40 0v-8z" fill="#a9a9a9"/>
<ellipse cx="2030.8" cy="2252.4" rx="20" ry="11" fill="#d3d3d3"/>
<ellipse cx="1612.5" cy="2404.6" rx="15.500" ry="8" fill="#bcbcbc"/>
<ellipse cx="1612.5" cy="2401.6" rx="15.500" ry="8" fill="#dedede"/>
<path d="M1604.0 2339.6V2400.6M1621.0 2339.6V2400.6" stroke="#bfc9cf" stroke-width="2.600" fill="none"/>
<path d="M1612.5 2341.6V2403.6" stroke="#d6dde2" stroke-width="2" fill="none" opacity=".8"/>
<ellipse cx="1612.5" cy="2355.6" rx="13" ry="6" fill="none" stroke="#d5d5d5" stroke-width="2.500"/>
<path d="M1592.5 2331.6v8a20 11 0 0 0 40 0v-8z" fill="#a9a9a9"/>
<ellipse cx="1612.5" cy="2331.6" rx="20" ry="11" fill="#d3d3d3"/>
<ellipse cx="1685.6" cy="2384.0" rx="15.500" ry="8" fill="#bcbcbc"/>
<ellipse cx="1685.6" cy="2381.0" rx="15.500" ry="8" fill="#dedede"/>
<path d="M1677.1 2319.0V2380.0M1694.1 2319.0V2380.0" stroke="#bfc9cf" stroke-width="2.600" fill="none"/>
<path d="M1685.6 2321.0V2383.0" stroke="#d6dde2" stroke-width="2" fill="none" opacity=".8"/>
<ellipse cx="1685.6" cy="2335.0" rx="13" ry="6" fill="none" stroke="#d5d5d5" stroke-width="2.500"/>
<path d="M1665.6 2311.0v8a20 11 0 0 0 40 0v-8z" fill="#a9a9a9"/>
<ellipse cx="1685.6" cy="2311.0" rx="20" ry="11" fill="#d3d3d3"/>
<ellipse cx="1772.0" cy="2399.5" rx="15.500" ry="8" fill="#bcbcbc"/>
<ellipse cx="1772.0" cy="2396.5" rx="15.500" ry="8" fill="#dedede"/>
<path d="M1763.5 2334.5V2395.5M1780.5 2334.5V2395.5" stroke="#bfc9cf" stroke-width="2.600" fill="none"/>
<path d="M1772.0 2336.5V2398.5" stroke="#d6dde2" stroke-width="2" fill="none" opacity=".8"/>
<ellipse cx="1772.0" cy="2350.5" rx="13" ry="6" fill="none" stroke="#d5d5d5" stroke-width="2.500"/>
<path d="M1752.0 2326.5v8a20 11 0 0 0 40 0v-8z" fill="#a9a9a9"/>
<ellipse cx="1772.0" cy="2326.5" rx="20" ry="11" fill="#d3d3d3"/>
<ellipse cx="1460.7" cy="2507.5" rx="15.500" ry="8" fill="#bcbcbc"/>
<ellipse cx="1460.7" cy="2504.5" rx="15.500" ry="8" fill="#dedede"/>
<path d="M1452.2 2442.5V2503.5M1469.2 2442.5V2503.5" stroke="#bfc9cf" stroke-width="2.600" fill="none"/>
<path d="M1460.7 2444.5V2506.5" stroke="#d6dde2" stroke-width="2" fill="none" opacity=".8"/>
<ellipse cx="1460.7" cy="2458.5" rx="13" ry="6" fill="none" stroke="#d5d5d5" stroke-width="2.500"/>
<path d="M1440.7 2434.5v8a20 11 0 0 0 40 0v-8z" fill="#a9a9a9"/>
<ellipse cx="1460.7" cy="2434.5" rx="20" ry="11" fill="#d3d3d3"/>
<ellipse cx="1382.0" cy="2564.0" rx="15.500" ry="8" fill="#bcbcbc"/>
<ellipse cx="1382.0" cy="2561.0" rx="15.500" ry="8" fill="#dedede"/>
<path d="M1373.5 2499.0V2560.0M1390.5 2499.0V2560.0" stroke="#bfc9cf" stroke-width="2.600" fill="none"/>
<path d="M1382.0 2501.0V2563.0" stroke="#d6dde2" stroke-width="2" fill="none" opacity=".8"/>
<ellipse cx="1382.0" cy="2515.0" rx="13" ry="6" fill="none" stroke="#d5d5d5" stroke-width="2.500"/>
<path d="M1362.0 2491.0v8a20 11 0 0 0 40 0v-8z" fill="#a9a9a9"/>
<ellipse cx="1382.0" cy="2491.0" rx="20" ry="11" fill="#d3d3d3"/>
<polygon points="1545.8,2488.3 1545.8,2488.3 1545.8,2488.3 1545.8,2488.3" fill="#6a95ae"/>
<polygon points="1545.8,2488.3 1545.8,2488.3 1545.8,2488.3 1545.8,2488.3" fill="#6a95ae"/>
<polygon points="1545.8,2488.3 1545.8,2488.3 1545.8,2488.3 1545.8,2488.3" fill="#6a95ae"/>
<polygon points="1694.8,2455.3 1703.4,2460.3 1703.4,2379.3 1694.8,2374.3" fill="#6a95ae"/>
<polygon points="1712.1,2455.3 1703.4,2460.3 1703.4,2379.3 1712.1,2374.3" fill="#6d9bb6"/>
<polygon points="1703.4,2369.3 1712.1,2374.3 1703.4,2379.3 1694.8,2374.3" fill="#6a95ae"/>
<polygon points="1556.2,2413.3 1663.6,2351.3 1673.5,2346.8 1684.8,2343.6 1697.1,2342.0 1709.8,2342.0 1722.1,2343.6 1733.4,2346.8 1743.3,2351.3 1751.1,2357.0 1756.6,2363.6 1759.4,2370.7 1759.4,2377.9 1756.6,2385.0 1751.1,2391.6 1743.3,2397.3 1635.9,2459.3" fill="#6d9bb6"/>
<polygon points="1556.2,2402.3 1663.6,2340.3 1663.6,2351.3 1556.2,2413.3" fill="#6d9bb6"/>
<polygon points="1663.6,2340.3 1673.5,2335.8 1673.5,2346.8 1663.6,2351.3" fill="#6d9bb6"/>
<polygon points="1673.5,2335.8 1684.8,2332.6 1684.8,2343.6 1673.5,2346.8" fill="#6d9bb6"/>
<polygon points="1684.8,2332.6 1697.1,2331.0 1697.1,2342.0 1684.8,2343.6" fill="#6d9bb6"/>
<polygon points="1697.1,2331.0 1709.8,2331.0 1709.8,2342.0 1697.1,2342.0" fill="#6d9bb6"/>
<polygon points="1709.8,2331.0 1722.1,2332.6 1722.1,2343.6 1709.8,2342.0" fill="#6d9bb6"/>
<polygon points="1722.1,2332.6 1733.4,2335.8 1733.4,2346.8 1722.1,2343.6" fill="#6d9bb6"/>
<polygon points="1733.4,2335.8 1743.3,2340.3 1743.3,2351.3 1733.4,2346.8" fill="#6d9bb6"/>
<polygon points="1743.3,2340.3 1751.1,2346.0 1751.1,2357.0 1743.3,2351.3" fill="#6d9bb6"/>
<polygon points="1751.1,2346.0 1756.6,2352.6 1756.6,2363.6 1751.1,2357.0" fill="#6d9bb6"/>
<polygon points="1756.6,2352.6 1759.4,2359.7 1759.4,2370.7 1756.6,2363.6" fill="#6d9bb6"/>
<polygon points="1759.4,2359.7 1759.4,2366.9 1759.4,2377.9 1759.4,2370.7" fill="#6d9bb6"/>
<polygon points="1759.4,2366.9 1756.6,2374.0 1756.6,2385.0 1759.4,2377.9" fill="#6d9bb6"/>
<polygon points="1756.6,2374.0 1751.1,2380.6 1751.1,2391.6 1756.6,2385.0" fill="#6d9bb6"/>
<polygon points="1751.1,2380.6 1743.3,2386.3 1743.3,2397.3 1751.1,2391.6" fill="#6d9bb6"/>
<polygon points="1743.3,2386.3 1635.9,2448.3 1635.9,2459.3 1743.3,2397.3" fill="#6d9bb6"/>
<polygon points="1556.2,2402.3 1663.6,2340.3 1673.5,2335.8 1684.8,2332.6 1697.1,2331.0 1709.8,2331.0 1722.1,2332.6 1733.4,2335.8 1743.3,2340.3 1751.1,2346.0 1756.6,2352.6 1759.4,2359.7 1759.4,2366.9 1756.6,2374.0 1751.1,2380.6 1743.3,2386.3 1635.9,2448.3" fill="#8fbdd9"/>
<polygon points="1646.3,2360.3 1694.8,2388.3 1641.1,2419.3 1592.6,2391.3" fill="#4a4a4c"/>
<polygon points="1646.3,2365.3 1686.1,2388.3 1641.1,2414.3 1601.3,2391.3" fill="#dedfe0"/>
<path d="M1684.4 2356.3L1726.0 2380.3" stroke="#c08a3a" stroke-width="1.800"/>
<path d="M1678.3 2359.8L1719.9 2383.8" stroke="#c08a3a" stroke-width="1.800"/>
<path d="M1672.3 2363.3L1713.8 2387.3" stroke="#c08a3a" stroke-width="1.800"/>
<polygon points="1527.7,2498.8 1633.3,2559.8 1633.3,2367.8 1527.7,2306.8" fill="#5b8099"/>
<polygon points="1651.5,2549.3 1633.3,2559.8 1633.3,2367.8 1651.5,2357.3" fill="#7fa9c4"/>
<polygon points="1545.8,2296.3 1651.5,2357.3 1633.3,2367.8 1527.7,2306.8" fill="#9cc5de"/>
<polygon points="1506.0,2511.3 1611.7,2572.3 1611.7,2380.3 1506.0,2319.3" fill="#5b8099"/>
<polygon points="1629.8,2561.8 1611.7,2572.3 1611.7,2380.3 1629.8,2369.8" fill="#86afc9"/>
<polygon points="1524.2,2308.8 1629.8,2369.8 1611.7,2380.3 1506.0,2319.3" fill="#9cc5de"/>
<polygon points="1512.9,2337.3 1603.0,2389.3 1603.0,2479.3 1512.9,2427.3" fill="#4c6a80"/>
<polygon points="1516.4,2343.3 1599.5,2391.3 1599.5,2473.3 1516.4,2425.3" fill="#d3d3d3"/>
<polygon points="1540.6,2357.3 1559.7,2368.3 1549.3,2444.3 1535.4,2436.3" fill="#e2e2e2"/>
<polygon points="1545.8,2488.3 1545.8,2488.3 1545.8,2488.3 1545.8,2488.3" fill="#6a95ae"/>
<polygon points="1545.8,2488.3 1545.8,2488.3 1545.8,2488.3 1545.8,2488.3" fill="#6a95ae"/>
<polygon points="1545.8,2488.3 1545.8,2488.3 1545.8,2488.3 1545.8,2488.3" fill="#6a95ae"/>
<polygon points="1429.8,2606.3 1438.5,2611.3 1438.5,2530.3 1429.8,2525.3" fill="#6a95ae"/>
<polygon points="1447.1,2606.3 1438.5,2611.3 1438.5,2530.3 1447.1,2525.3" fill="#6d9bb6"/>
<polygon points="1438.5,2520.3 1447.1,2525.3 1438.5,2530.3 1429.8,2525.3" fill="#6a95ae"/>
<polygon points="1596.1,2482.3 1480.0,2549.3 1469.7,2554.0 1457.9,2557.3 1445.0,2559.0 1431.9,2559.0 1419.0,2557.3 1407.2,2554.0 1396.9,2549.3 1388.7,2543.4 1383.0,2536.5 1380.0,2529.1 1380.0,2521.5 1383.0,2514.1 1388.7,2507.2 1396.9,2501.3 1512.9,2434.3" fill="#6d9bb6"/>
<polygon points="1596.1,2471.3 1480.0,2538.3 1480.0,2549.3 1596.1,2482.3" fill="#6d9bb6"/>
<polygon points="1480.0,2538.3 1469.7,2543.0 1469.7,2554.0 1480.0,2549.3" fill="#6d9bb6"/>
<polygon points="1469.7,2543.0 1457.9,2546.3 1457.9,2557.3 1469.7,2554.0" fill="#6d9bb6"/>
<polygon points="1457.9,2546.3 1445.0,2548.0 1445.0,2559.0 1457.9,2557.3" fill="#6d9bb6"/>
<polygon points="1445.0,2548.0 1431.9,2548.0 1431.9,2559.0 1445.0,2559.0" fill="#6d9bb6"/>
<polygon points="1431.9,2548.0 1419.0,2546.3 1419.0,2557.3 1431.9,2559.0" fill="#6d9bb6"/>
<polygon points="1419.0,2546.3 1407.2,2543.0 1407.2,2554.0 1419.0,2557.3" fill="#6d9bb6"/>
<polygon points="1407.2,2543.0 1396.9,2538.3 1396.9,2549.3 1407.2,2554.0" fill="#6d9bb6"/>
<polygon points="1396.9,2538.3 1388.7,2532.4 1388.7,2543.4 1396.9,2549.3" fill="#6d9bb6"/>
<polygon points="1388.7,2532.4 1383.0,2525.5 1383.0,2536.5 1388.7,2543.4" fill="#6d9bb6"/>
<polygon points="1383.0,2525.5 1380.0,2518.1 1380.0,2529.1 1383.0,2536.5" fill="#6d9bb6"/>
<polygon points="1380.0,2518.1 1380.0,2510.5 1380.0,2521.5 1380.0,2529.1" fill="#6d9bb6"/>
<polygon points="1380.0,2510.5 1383.0,2503.1 1383.0,2514.1 1380.0,2521.5" fill="#6d9bb6"/>
<polygon points="1383.0,2503.1 1388.7,2496.2 1388.7,2507.2 1383.0,2514.1" fill="#6d9bb6"/>
<polygon points="1388.7,2496.2 1396.9,2490.3 1396.9,2501.3 1388.7,2507.2" fill="#6d9bb6"/>
<polygon points="1396.9,2490.3 1512.9,2423.3 1512.9,2434.3 1396.9,2501.3" fill="#6d9bb6"/>
<polygon points="1596.1,2471.3 1480.0,2538.3 1469.7,2543.0 1457.9,2546.3 1445.0,2548.0 1431.9,2548.0 1419.0,2546.3 1407.2,2543.0 1396.9,2538.3 1388.7,2532.4 1383.0,2525.5 1380.0,2518.1 1380.0,2510.5 1383.0,2503.1 1388.7,2496.2 1396.9,2490.3 1512.9,2423.3" fill="#8fbdd9"/>
<polygon points="1485.2,2449.3 1537.2,2479.3 1483.5,2510.3 1431.5,2480.3" fill="#4a4a4c"/>
<polygon points="1485.2,2454.3 1528.5,2479.3 1483.5,2505.3 1440.2,2480.3" fill="#dedfe0"/>
<path d="M1533.7 2443.3L1578.7 2469.3" stroke="#c08a3a" stroke-width="1.800"/>
<path d="M1527.7 2446.8L1572.7 2472.8" stroke="#c08a3a" stroke-width="1.800"/>
<path d="M1521.6 2450.3L1566.6 2476.3" stroke="#c08a3a" stroke-width="1.800"/>
<ellipse cx="1779.8" cy="2474.0" rx="15.500" ry="8" fill="#bcbcbc"/>
<ellipse cx="1779.8" cy="2471.0" rx="15.500" ry="8" fill="#dedede"/>
<path d="M1771.3 2409.0V2470.0M1788.3 2409.0V2470.0" stroke="#bfc9cf" stroke-width="2.600" fill="none"/>
<path d="M1779.8 2411.0V2473.0" stroke="#d6dde2" stroke-width="2" fill="none" opacity=".8"/>
<ellipse cx="1779.8" cy="2425.0" rx="13" ry="6" fill="none" stroke="#d5d5d5" stroke-width="2.500"/>
<path d="M1759.8 2401.0v8a20 11 0 0 0 40 0v-8z" fill="#a9a9a9"/>
<ellipse cx="1779.8" cy="2401.0" rx="20" ry="11" fill="#d3d3d3"/>
<ellipse cx="1715.4" cy="2528.0" rx="15.500" ry="8" fill="#bcbcbc"/>
<ellipse cx="1715.4" cy="2525.0" rx="15.500" ry="8" fill="#dedede"/>
<path d="M1706.9 2463.0V2524.0M1723.9 2463.0V2524.0" stroke="#bfc9cf" stroke-width="2.600" fill="none"/>
<path d="M1715.4 2465.0V2527.0" stroke="#d6dde2" stroke-width="2" fill="none" opacity=".8"/>
<ellipse cx="1715.4" cy="2479.0" rx="13" ry="6" fill="none" stroke="#d5d5d5" stroke-width="2.500"/>
<path d="M1695.4 2455.0v8a20 11 0 0 0 40 0v-8z" fill="#a9a9a9"/>
<ellipse cx="1715.4" cy="2455.0" rx="20" ry="11" fill="#d3d3d3"/>
<ellipse cx="1391.0" cy="2646.5" rx="15.500" ry="8" fill="#bcbcbc"/>
<ellipse cx="1391.0" cy="2643.5" rx="15.500" ry="8" fill="#dedede"/>
<path d="M1382.5 2581.5V2642.5M1399.5 2581.5V2642.5" stroke="#bfc9cf" stroke-width="2.600" fill="none"/>
<path d="M1391.0 2583.5V2645.5" stroke="#d6dde2" stroke-width="2" fill="none" opacity=".8"/>
<ellipse cx="1391.0" cy="2597.5" rx="13" ry="6" fill="none" stroke="#d5d5d5" stroke-width="2.500"/>
<path d="M1371.0 2573.5v8a20 11 0 0 0 40 0v-8z" fill="#a9a9a9"/>
<ellipse cx="1391.0" cy="2573.5" rx="20" ry="11" fill="#d3d3d3"/>
<ellipse cx="1507.0" cy="2651.7" rx="15.500" ry="8" fill="#bcbcbc"/>
<ellipse cx="1507.0" cy="2648.7" rx="15.500" ry="8" fill="#dedede"/>
<path d="M1498.5 2586.7V2647.7M1515.5 2586.7V2647.7" stroke="#bfc9cf" stroke-width="2.600" fill="none"/>
<path d="M1507.0 2588.7V2650.7" stroke="#d6dde2" stroke-width="2" fill="none" opacity=".8"/>
<ellipse cx="1507.0" cy="2602.7" rx="13" ry="6" fill="none" stroke="#d5d5d5" stroke-width="2.500"/>
<path d="M1487.0 2578.7v8a20 11 0 0 0 40 0v-8z" fill="#a9a9a9"/>
<ellipse cx="1507.0" cy="2578.7" rx="20" ry="11" fill="#d3d3d3"/>
<ellipse cx="1569.8" cy="2608.0" rx="15.500" ry="8" fill="#bcbcbc"/>
<ellipse cx="1569.8" cy="2605.0" rx="15.500" ry="8" fill="#dedede"/>
<path d="M1561.3 2543.0V2604.0M1578.3 2543.0V2604.0" stroke="#bfc9cf" stroke-width="2.600" fill="none"/>
<path d="M1569.8 2545.0V2607.0" stroke="#d6dde2" stroke-width="2" fill="none" opacity=".8"/>
<ellipse cx="1569.8" cy="2559.0" rx="13" ry="6" fill="none" stroke="#d5d5d5" stroke-width="2.500"/>
<path d="M1549.8 2535.0v8a20 11 0 0 0 40 0v-8z" fill="#a9a9a9"/>
<ellipse cx="1569.8" cy="2535.0" rx="20" ry="11" fill="#d3d3d3"/>
<ellipse cx="1154.0" cy="2687.7" rx="15.500" ry="8" fill="#bcbcbc"/>
<ellipse cx="1154.0" cy="2684.7" rx="15.500" ry="8" fill="#dedede"/>
<path d="M1145.5 2622.7V2683.7M1162.5 2622.7V2683.7" stroke="#bfc9cf" stroke-width="2.600" fill="none"/>
<path d="M1154.0 2624.7V2686.7" stroke="#d6dde2" stroke-width="2" fill="none" opacity=".8"/>
<ellipse cx="1154.0" cy="2638.7" rx="13" ry="6" fill="none" stroke="#d5d5d5" stroke-width="2.500"/>
<path d="M1134.0 2614.7v8a20 11 0 0 0 40 0v-8z" fill="#a9a9a9"/>
<ellipse cx="1154.0" cy="2614.7" rx="20" ry="11" fill="#d3d3d3"/>
<ellipse cx="1226.5" cy="2667.0" rx="15.500" ry="8" fill="#bcbcbc"/>
<ellipse cx="1226.5" cy="2664.0" rx="15.500" ry="8" fill="#dedede"/>
<path d="M1218.0 2602.0V2663.0M1235.0 2602.0V2663.0" stroke="#bfc9cf" stroke-width="2.600" fill="none"/>
<path d="M1226.5 2604.0V2666.0" stroke="#d6dde2" stroke-width="2" fill="none" opacity=".8"/>
<ellipse cx="1226.5" cy="2618.0" rx="13" ry="6" fill="none" stroke="#d5d5d5" stroke-width="2.500"/>
<path d="M1206.5 2594.0v8a20 11 0 0 0 40 0v-8z" fill="#a9a9a9"/>
<ellipse cx="1226.5" cy="2594.0" rx="20" ry="11" fill="#d3d3d3"/>
<ellipse cx="1314.0" cy="2682.5" rx="15.500" ry="8" fill="#bcbcbc"/>
<ellipse cx="1314.0" cy="2679.5" rx="15.500" ry="8" fill="#dedede"/>
<path d="M1305.5 2617.5V2678.5M1322.5 2617.5V2678.5" stroke="#bfc9cf" stroke-width="2.600" fill="none"/>
<path d="M1314.0 2619.5V2681.5" stroke="#d6dde2" stroke-width="2" fill="none" opacity=".8"/>
<ellipse cx="1314.0" cy="2633.5" rx="13" ry="6" fill="none" stroke="#d5d5d5" stroke-width="2.500"/>
<path d="M1294.0 2609.5v8a20 11 0 0 0 40 0v-8z" fill="#a9a9a9"/>
<ellipse cx="1314.0" cy="2609.5" rx="20" ry="11" fill="#d3d3d3"/>
<polygon points="1090.0,2773.3 1090.0,2773.3 1090.0,2773.3 1090.0,2773.3" fill="#e29e22"/>
<polygon points="1090.0,2773.3 1090.0,2773.3 1090.0,2773.3 1090.0,2773.3" fill="#e29e22"/>
<polygon points="1090.0,2773.3 1090.0,2773.3 1090.0,2773.3 1090.0,2773.3" fill="#e29e22"/>
<polygon points="1240.7,2739.3 1249.3,2744.3 1249.3,2663.3 1240.7,2658.3" fill="#e29e22"/>
<polygon points="1258.0,2739.3 1249.3,2744.3 1249.3,2663.3 1258.0,2658.3" fill="#d8951f"/>
<polygon points="1249.3,2653.3 1258.0,2658.3 1249.3,2663.3 1240.7,2658.3" fill="#e29e22"/>
<polygon points="1100.4,2698.3 1209.5,2635.3 1219.4,2630.8 1230.7,2627.6 1243.0,2626.0 1255.6,2626.0 1267.9,2627.6 1279.3,2630.8 1289.2,2635.3 1297.0,2641.0 1302.5,2647.6 1305.3,2654.7 1305.3,2662.0 1302.5,2669.1 1297.0,2675.7 1289.2,2681.3 1180.0,2744.3" fill="#d8951f"/>
<polygon points="1100.4,2687.3 1209.5,2624.3 1209.5,2635.3 1100.4,2698.3" fill="#d8951f"/>
<polygon points="1209.5,2624.3 1219.4,2619.8 1219.4,2630.8 1209.5,2635.3" fill="#d8951f"/>
<polygon points="1219.4,2619.8 1230.7,2616.6 1230.7,2627.6 1219.4,2630.8" fill="#d8951f"/>
<polygon points="1230.7,2616.6 1243.0,2615.0 1243.0,2626.0 1230.7,2627.6" fill="#d8951f"/>
<polygon points="1243.0,2615.0 1255.6,2615.0 1255.6,2626.0 1243.0,2626.0" fill="#d8951f"/>
<polygon points="1255.6,2615.0 1267.9,2616.6 1267.9,2627.6 1255.6,2626.0" fill="#d8951f"/>
<polygon points="1267.9,2616.6 1279.3,2619.8 1279.3,2630.8 1267.9,2627.6" fill="#d8951f"/>
<polygon points="1279.3,2619.8 1289.2,2624.3 1289.2,2635.3 1279.3,2630.8" fill="#d8951f"/>
<polygon points="1289.2,2624.3 1297.0,2630.0 1297.0,2641.0 1289.2,2635.3" fill="#d8951f"/>
<polygon points="1297.0,2630.0 1302.5,2636.6 1302.5,2647.6 1297.0,2641.0" fill="#d8951f"/>
<polygon points="1302.5,2636.6 1305.3,2643.7 1305.3,2654.7 1302.5,2647.6" fill="#d8951f"/>
<polygon points="1305.3,2643.7 1305.3,2651.0 1305.3,2662.0 1305.3,2654.7" fill="#d8951f"/>
<polygon points="1305.3,2651.0 1302.5,2658.1 1302.5,2669.1 1305.3,2662.0" fill="#d8951f"/>
<polygon points="1302.5,2658.1 1297.0,2664.7 1297.0,2675.7 1302.5,2669.1" fill="#d8951f"/>
<polygon points="1297.0,2664.7 1289.2,2670.3 1289.2,2681.3 1297.0,2675.7" fill="#d8951f"/>
<polygon points="1289.2,2670.3 1180.0,2733.3 1180.0,2744.3 1289.2,2681.3" fill="#d8951f"/>
<polygon points="1100.4,2687.3 1209.5,2624.3 1219.4,2619.8 1230.7,2616.6 1243.0,2615.0 1255.6,2615.0 1267.9,2616.6 1279.3,2619.8 1289.2,2624.3 1297.0,2630.0 1302.5,2636.6 1305.3,2643.7 1305.3,2651.0 1302.5,2658.1 1297.0,2664.7 1289.2,2670.3 1180.0,2733.3" fill="#eeb033"/>
<polygon points="1192.2,2644.3 1240.7,2672.3 1187.0,2703.3 1138.5,2675.3" fill="#4a4a4c"/>
<polygon points="1192.2,2649.3 1232.0,2672.3 1187.0,2698.3 1147.1,2675.3" fill="#dedfe0"/>
<path d="M1230.3 2640.3L1271.8 2664.3" stroke="#b77a18" stroke-width="1.800"/>
<path d="M1224.2 2643.8L1265.8 2667.8" stroke="#b77a18" stroke-width="1.800"/>
<path d="M1218.2 2647.3L1259.7 2671.3" stroke="#b77a18" stroke-width="1.800"/>
<polygon points="1070.5,2784.6 1176.2,2845.6 1176.2,2653.6 1070.5,2592.6" fill="#c8861b"/>
<polygon points="1195.6,2834.3 1176.2,2845.6 1176.2,2653.6 1195.6,2642.3" fill="#e8a429"/>
<polygon points="1090.0,2581.3 1195.6,2642.3 1176.2,2653.6 1070.5,2592.6" fill="#eeb033"/>
<ellipse cx="1320.0" cy="2759.8" rx="15.500" ry="8" fill="#bcbcbc"/>
<ellipse cx="1320.0" cy="2756.8" rx="15.500" ry="8" fill="#dedede"/>
<path d="M1311.5 2694.8V2755.8M1328.5 2694.8V2755.8" stroke="#bfc9cf" stroke-width="2.600" fill="none"/>
<path d="M1320.0 2696.8V2758.8" stroke="#d6dde2" stroke-width="2" fill="none" opacity=".8"/>
<ellipse cx="1320.0" cy="2710.8" rx="13" ry="6" fill="none" stroke="#d5d5d5" stroke-width="2.500"/>
<path d="M1300.0 2686.8v8a20 11 0 0 0 40 0v-8z" fill="#a9a9a9"/>
<ellipse cx="1320.0" cy="2686.8" rx="20" ry="11" fill="#d3d3d3"/>
<ellipse cx="1255.8" cy="2813.8" rx="15.500" ry="8" fill="#bcbcbc"/>
<ellipse cx="1255.8" cy="2810.8" rx="15.500" ry="8" fill="#dedede"/>
<path d="M1247.3 2748.8V2809.8M1264.3 2748.8V2809.8" stroke="#bfc9cf" stroke-width="2.600" fill="none"/>
<path d="M1255.8 2750.8V2812.8" stroke="#d6dde2" stroke-width="2" fill="none" opacity=".8"/>
<ellipse cx="1255.8" cy="2764.8" rx="13" ry="6" fill="none" stroke="#d5d5d5" stroke-width="2.500"/>
<path d="M1235.8 2740.8v8a20 11 0 0 0 40 0v-8z" fill="#a9a9a9"/>
<ellipse cx="1255.8" cy="2740.8" rx="20" ry="11" fill="#d3d3d3"/>
<polygon points="2068.4,2562.3 2208.4,2649.3 2409.4,2617.3 2459.4,2507.3 2383.4,2422.3 2248.4,2347.3 2118.4,2437.3" fill="#7cbfe6"/>
<polygon points="2224.0,2340.0 2077.0,2500.0 2352.0,2510.0" fill="url(#cone)" />
<polygon points="2163.2,2425.3 2200.4,2446.8 2200.4,2410.8 2163.2,2389.3" fill="#5d979b"/>
<polygon points="2237.6,2425.3 2200.4,2446.8 2200.4,2410.8 2237.6,2389.3" fill="#6fb0b3"/>
<polygon points="2200.4,2367.8 2237.6,2389.3 2200.4,2410.8 2163.2,2389.3" fill="#84c5c6"/>
<polygon points="2288.2,2447.3 2325.4,2468.8 2325.4,2432.8 2288.2,2411.3" fill="#5d979b"/>
<polygon points="2362.6,2447.3 2325.4,2468.8 2325.4,2432.8 2362.6,2411.3" fill="#6fb0b3"/>
<polygon points="2325.4,2389.8 2362.6,2411.3 2325.4,2432.8 2288.2,2411.3" fill="#84c5c6"/>
<polygon points="2072.2,2507.3 2109.4,2528.8 2109.4,2492.8 2072.2,2471.3" fill="#5d979b"/>
<polygon points="2146.6,2507.3 2109.4,2528.8 2109.4,2492.8 2146.6,2471.3" fill="#6fb0b3"/>
<polygon points="2109.4,2449.8 2146.6,2471.3 2109.4,2492.8 2072.2,2471.3" fill="#84c5c6"/>
<polygon points="2312.2,2557.3 2349.4,2578.8 2349.4,2542.8 2312.2,2521.3" fill="#5d979b"/>
<polygon points="2386.6,2557.3 2349.4,2578.8 2349.4,2542.8 2386.6,2521.3" fill="#6fb0b3"/>
<polygon points="2349.4,2499.8 2386.6,2521.3 2349.4,2542.8 2312.2,2521.3" fill="#84c5c6"/>
<path d="M2163.4 2497.3v62" stroke="#b9bcc0" stroke-width="5"/>
<path d="M2193.4 2522.3v62" stroke="#b9bcc0" stroke-width="5"/>
<path d="M2273.4 2517.3v62" stroke="#b9bcc0" stroke-width="5"/>
<path d="M2301.4 2497.3v62" stroke="#b9bcc0" stroke-width="5"/>
<polygon points="2346.6,2449.3 2315.8,2513.6 2315.8,2520.6 2346.6,2456.3" fill="#1f78a8"/>
<polygon points="2315.8,2513.6 2205.1,2529.1 2205.1,2536.1 2315.8,2520.6" fill="#c07a12"/>
<polygon points="2205.1,2529.1 2122.7,2480.2 2122.7,2487.2 2205.1,2536.1" fill="#1f8a38"/>
<polygon points="2122.7,2480.2 2153.6,2418.4 2153.6,2425.4 2122.7,2487.2" fill="#1f78a8"/>
<polygon points="2153.6,2418.4 2261.7,2403.0 2233.4,2467.3" fill="#e8961c"/>
<polygon points="2261.7,2403.0 2346.6,2449.3 2233.4,2467.3" fill="#2fa84a"/>
<polygon points="2346.6,2449.3 2315.8,2513.6 2233.4,2467.3" fill="#2e9ad0"/>
<polygon points="2315.8,2513.6 2205.1,2529.1 2233.4,2467.3" fill="#e8961c"/>
<polygon points="2205.1,2529.1 2122.7,2480.2 2233.4,2467.3" fill="#2fa84a"/>
<polygon points="2122.7,2480.2 2153.6,2418.4 2233.4,2467.3" fill="#2e9ad0"/>
<polygon points="2111.2,2597.3 2148.4,2618.8 2148.4,2582.8 2111.2,2561.3" fill="#5d979b"/>
<polygon points="2185.6,2597.3 2148.4,2618.8 2148.4,2582.8 2185.6,2561.3" fill="#6fb0b3"/>
<polygon points="2148.4,2539.8 2185.6,2561.3 2148.4,2582.8 2111.2,2561.3" fill="#84c5c6"/>
<polygon points="2230.2,2613.3 2267.4,2634.8 2267.4,2598.8 2230.2,2577.3" fill="#5d979b"/>
<polygon points="2304.6,2613.3 2267.4,2634.8 2267.4,2598.8 2304.6,2577.3" fill="#6fb0b3"/>
<polygon points="2267.4,2555.8 2304.6,2577.3 2267.4,2598.8 2230.2,2577.3" fill="#84c5c6"/>
<g transform="rotate(14 2227.0 2310.0)">
<rect x="2212.0" y="2288.0" width="30" height="44" rx="5" fill="#2b2b2d"/>
<rect x="2230.0" y="2288.0" width="12" height="44" rx="4" fill="#454547"/>
<rect x="2216.0" y="2331.0" width="22" height="8" rx="3" fill="#8a8a8c"/>
</g>
<path d="M2225.0 2290.0v-22" stroke="#3a3a3c" stroke-width="4"/>
<polygon points="2215.0,2270.0 2235.0,2260.0 2251.0,2268.0 2231.0,2278.0" fill="#4a4a4c"/>
<polygon points="1788.0,2747.6 1928.0,2834.6 2129.0,2802.6 2179.0,2692.6 2103.0,2607.6 1968.0,2532.6 1838.0,2622.6" fill="#7cbfe6"/>
<polygon points="1964.3,2502.4 1817.3,2662.4 2092.3,2672.4" fill="url(#cone)" />
<polygon points="1882.8,2610.6 1920.0,2632.1 1920.0,2596.1 1882.8,2574.6" fill="#5d979b"/>
<polygon points="1957.2,2610.6 1920.0,2632.1 1920.0,2596.1 1957.2,2574.6" fill="#6fb0b3"/>
<polygon points="1920.0,2553.1 1957.2,2574.6 1920.0,2596.1 1882.8,2574.6" fill="#84c5c6"/>
<polygon points="2007.8,2632.6 2045.0,2654.1 2045.0,2618.1 2007.8,2596.6" fill="#5d979b"/>
<polygon points="2082.2,2632.6 2045.0,2654.1 2045.0,2618.1 2082.2,2596.6" fill="#6fb0b3"/>
<polygon points="2045.0,2575.1 2082.2,2596.6 2045.0,2618.1 2007.8,2596.6" fill="#84c5c6"/>
<polygon points="1791.8,2692.6 1829.0,2714.1 1829.0,2678.1 1791.8,2656.6" fill="#5d979b"/>
<polygon points="1866.2,2692.6 1829.0,2714.1 1829.0,2678.1 1866.2,2656.6" fill="#6fb0b3"/>
<polygon points="1829.0,2635.1 1866.2,2656.6 1829.0,2678.1 1791.8,2656.6" fill="#84c5c6"/>
<polygon points="2031.8,2742.6 2069.0,2764.1 2069.0,2728.1 2031.8,2706.6" fill="#5d979b"/>
<polygon points="2106.2,2742.6 2069.0,2764.1 2069.0,2728.1 2106.2,2706.6" fill="#6fb0b3"/>
<polygon points="2069.0,2685.1 2106.2,2706.6 2069.0,2728.1 2031.8,2706.6" fill="#84c5c6"/>
<path d="M1883.0 2682.6v62" stroke="#b9bcc0" stroke-width="5"/>
<path d="M1913.0 2707.6v62" stroke="#b9bcc0" stroke-width="5"/>
<path d="M1993.0 2702.6v62" stroke="#b9bcc0" stroke-width="5"/>
<path d="M2021.0 2682.6v62" stroke="#b9bcc0" stroke-width="5"/>
<polygon points="2066.2,2634.6 2035.4,2698.9 2035.4,2705.9 2066.2,2641.6" fill="#1f78a8"/>
<polygon points="2035.4,2698.9 1924.7,2714.4 1924.7,2721.4 2035.4,2705.9" fill="#c07a12"/>
<polygon points="1924.7,2714.4 1842.3,2665.5 1842.3,2672.5 1924.7,2721.4" fill="#1f8a38"/>
<polygon points="1842.3,2665.5 1873.2,2603.7 1873.2,2610.7 1842.3,2672.5" fill="#1f78a8"/>
<polygon points="1873.2,2603.7 1981.3,2588.3 1953.0,2652.6" fill="#e8961c"/>
<polygon points="1981.3,2588.3 2066.2,2634.6 1953.0,2652.6" fill="#2fa84a"/>
<polygon points="2066.2,2634.6 2035.4,2698.9 1953.0,2652.6" fill="#2e9ad0"/>
<polygon points="2035.4,2698.9 1924.7,2714.4 1953.0,2652.6" fill="#e8961c"/>
<polygon points="1924.7,2714.4 1842.3,2665.5 1953.0,2652.6" fill="#2fa84a"/>
<polygon points="1842.3,2665.5 1873.2,2603.7 1953.0,2652.6" fill="#2e9ad0"/>
<polygon points="1830.8,2782.6 1868.0,2804.1 1868.0,2768.1 1830.8,2746.6" fill="#5d979b"/>
<polygon points="1905.2,2782.6 1868.0,2804.1 1868.0,2768.1 1905.2,2746.6" fill="#6fb0b3"/>
<polygon points="1868.0,2725.1 1905.2,2746.6 1868.0,2768.1 1830.8,2746.6" fill="#84c5c6"/>
<polygon points="1949.8,2798.6 1987.0,2820.1 1987.0,2784.1 1949.8,2762.6" fill="#5d979b"/>
<polygon points="2024.2,2798.6 1987.0,2820.1 1987.0,2784.1 2024.2,2762.6" fill="#6fb0b3"/>
<polygon points="1987.0,2741.1 2024.2,2762.6 1987.0,2784.1 1949.8,2762.6" fill="#84c5c6"/>
<g transform="rotate(14 1967.3 2472.4)">
<rect x="1952.3" y="2450.4" width="30" height="44" rx="5" fill="#2b2b2d"/>
<rect x="1970.3" y="2450.4" width="12" height="44" rx="4" fill="#454547"/>
<rect x="1956.3" y="2493.4" width="22" height="8" rx="3" fill="#8a8a8c"/>
</g>
<path d="M1965.3 2452.4v-22" stroke="#3a3a3c" stroke-width="4"/>
<polygon points="1955.3,2432.4 1975.3,2422.4 1991.3,2430.4 1971.3,2440.4" fill="#4a4a4c"/>
<polygon points="1507.4,2945.7 1647.4,3032.7 1848.4,3000.7 1898.4,2890.7 1822.4,2805.7 1687.4,2730.7 1557.4,2820.7" fill="#7cbfe6"/>
<polygon points="1677.0,2685.0 1530.0,2845.0 1805.0,2855.0" fill="url(#cone)" />
<polygon points="1602.2,2808.7 1639.4,2830.2 1639.4,2794.2 1602.2,2772.7" fill="#5d979b"/>
<polygon points="1676.6,2808.7 1639.4,2830.2 1639.4,2794.2 1676.6,2772.7" fill="#6fb0b3"/>
<polygon points="1639.4,2751.2 1676.6,2772.7 1639.4,2794.2 1602.2,2772.7" fill="#84c5c6"/>
<polygon points="1727.2,2830.7 1764.4,2852.2 1764.4,2816.2 1727.2,2794.7" fill="#5d979b"/>
<polygon points="1801.6,2830.7 1764.4,2852.2 1764.4,2816.2 1801.6,2794.7" fill="#6fb0b3"/>
<polygon points="1764.4,2773.2 1801.6,2794.7 1764.4,2816.2 1727.2,2794.7" fill="#84c5c6"/>
<polygon points="1511.2,2890.7 1548.4,2912.2 1548.4,2876.2 1511.2,2854.7" fill="#5d979b"/>
<polygon points="1585.6,2890.7 1548.4,2912.2 1548.4,2876.2 1585.6,2854.7" fill="#6fb0b3"/>
<polygon points="1548.4,2833.2 1585.6,2854.7 1548.4,2876.2 1511.2,2854.7" fill="#84c5c6"/>
<polygon points="1751.2,2940.7 1788.4,2962.2 1788.4,2926.2 1751.2,2904.7" fill="#5d979b"/>
<polygon points="1825.6,2940.7 1788.4,2962.2 1788.4,2926.2 1825.6,2904.7" fill="#6fb0b3"/>
<polygon points="1788.4,2883.2 1825.6,2904.7 1788.4,2926.2 1751.2,2904.7" fill="#84c5c6"/>
<path d="M1602.4 2880.7v62" stroke="#b9bcc0" stroke-width="5"/>
<path d="M1632.4 2905.7v62" stroke="#b9bcc0" stroke-width="5"/>
<path d="M1712.4 2900.7v62" stroke="#b9bcc0" stroke-width="5"/>
<path d="M1740.4 2880.7v62" stroke="#b9bcc0" stroke-width="5"/>
<polygon points="1785.6,2832.7 1754.8,2897.0 1754.8,2904.0 1785.6,2839.7" fill="#1f78a8"/>
<polygon points="1754.8,2897.0 1644.1,2912.5 1644.1,2919.5 1754.8,2904.0" fill="#c07a12"/>
<polygon points="1644.1,2912.5 1561.7,2863.6 1561.7,2870.6 1644.1,2919.5" fill="#1f8a38"/>
<polygon points="1561.7,2863.6 1592.6,2801.8 1592.6,2808.8 1561.7,2870.6" fill="#1f78a8"/>
<polygon points="1592.6,2801.8 1700.7,2786.4 1672.4,2850.7" fill="#e8961c"/>
<polygon points="1700.7,2786.4 1785.6,2832.7 1672.4,2850.7" fill="#2fa84a"/>
<polygon points="1785.6,2832.7 1754.8,2897.0 1672.4,2850.7" fill="#2e9ad0"/>
<polygon points="1754.8,2897.0 1644.1,2912.5 1672.4,2850.7" fill="#e8961c"/>
<polygon points="1644.1,2912.5 1561.7,2863.6 1672.4,2850.7" fill="#2fa84a"/>
<polygon points="1561.7,2863.6 1592.6,2801.8 1672.4,2850.7" fill="#2e9ad0"/>
<polygon points="1550.2,2980.7 1587.4,3002.2 1587.4,2966.2 1550.2,2944.7" fill="#5d979b"/>
<polygon points="1624.6,2980.7 1587.4,3002.2 1587.4,2966.2 1624.6,2944.7" fill="#6fb0b3"/>
<polygon points="1587.4,2923.2 1624.6,2944.7 1587.4,2966.2 1550.2,2944.7" fill="#84c5c6"/>
<polygon points="1669.2,2996.7 1706.4,3018.2 1706.4,2982.2 1669.2,2960.7" fill="#5d979b"/>
<polygon points="1743.6,2996.7 1706.4,3018.2 1706.4,2982.2 1743.6,2960.7" fill="#6fb0b3"/>
<polygon points="1706.4,2939.2 1743.6,2960.7 1706.4,2982.2 1669.2,2960.7" fill="#84c5c6"/>
<g transform="rotate(14 1680.0 2655.0)">
<rect x="1665.0" y="2633.0" width="30" height="44" rx="5" fill="#2b2b2d"/>
<rect x="1683.0" y="2633.0" width="12" height="44" rx="4" fill="#454547"/>
<rect x="1669.0" y="2676.0" width="22" height="8" rx="3" fill="#8a8a8c"/>
</g>
<path d="M1678.0 2635.0v-22" stroke="#3a3a3c" stroke-width="4"/>
<polygon points="1668.0,2615.0 1688.0,2605.0 1704.0,2613.0 1684.0,2623.0" fill="#4a4a4c"/>
<ellipse cx="2688.4" cy="2625.0" rx="15.500" ry="8" fill="#bcbcbc"/>
<ellipse cx="2688.4" cy="2622.0" rx="15.500" ry="8" fill="#dedede"/>
<path d="M2679.9 2560.0V2621.0M2696.9 2560.0V2621.0" stroke="#bfc9cf" stroke-width="2.600" fill="none"/>
<path d="M2688.4 2562.0V2624.0" stroke="#d6dde2" stroke-width="2" fill="none" opacity=".8"/>
<ellipse cx="2688.4" cy="2576.0" rx="13" ry="6" fill="none" stroke="#d5d5d5" stroke-width="2.500"/>
<path d="M2668.4 2552.0v8a20 11 0 0 0 40 0v-8z" fill="#a9a9a9"/>
<ellipse cx="2688.4" cy="2552.0" rx="20" ry="11" fill="#d3d3d3"/>
<ellipse cx="2608.0" cy="2682.0" rx="15.500" ry="8" fill="#bcbcbc"/>
<ellipse cx="2608.0" cy="2679.0" rx="15.500" ry="8" fill="#dedede"/>
<path d="M2599.5 2617.0V2678.0M2616.5 2617.0V2678.0" stroke="#bfc9cf" stroke-width="2.600" fill="none"/>
<path d="M2608.0 2619.0V2681.0" stroke="#d6dde2" stroke-width="2" fill="none" opacity=".8"/>
<ellipse cx="2608.0" cy="2633.0" rx="13" ry="6" fill="none" stroke="#d5d5d5" stroke-width="2.500"/>
<path d="M2588.0 2609.0v8a20 11 0 0 0 40 0v-8z" fill="#a9a9a9"/>
<ellipse cx="2608.0" cy="2609.0" rx="20" ry="11" fill="#d3d3d3"/>
<polygon points="2735.3,2629.0 2841.0,2690.0 2841.0,2498.0 2735.3,2437.0" fill="#c8861b"/>
<polygon points="2860.4,2678.8 2841.0,2690.0 2841.0,2498.0 2860.4,2486.8" fill="#e8a429"/>
<polygon points="2754.8,2425.8 2860.4,2486.8 2841.0,2498.0 2735.3,2437.0" fill="#eeb033"/>
<polygon points="2742.2,2455.0 2832.3,2507.0 2832.3,2577.0 2742.2,2525.0" fill="#5d5f63"/>
<polygon points="2745.7,2461.0 2828.8,2509.0 2828.8,2571.0 2745.7,2523.0" fill="#d6d6d6"/>
<polygon points="2769.9,2475.0 2789.0,2486.0 2778.6,2542.0 2764.7,2534.0" fill="#e4e4e4"/>
<polygon points="2754.8,2617.8 2754.8,2617.8 2754.8,2617.8 2754.8,2617.8" fill="#e29e22"/>
<polygon points="2754.8,2617.8 2754.8,2617.8 2754.8,2617.8 2754.8,2617.8" fill="#e29e22"/>
<polygon points="2754.8,2617.8 2754.8,2617.8 2754.8,2617.8 2754.8,2617.8" fill="#e29e22"/>
<polygon points="2659.1,2724.0 2667.8,2729.0 2667.8,2648.0 2659.1,2643.0" fill="#e29e22"/>
<polygon points="2676.4,2724.0 2667.8,2729.0 2667.8,2648.0 2676.4,2643.0" fill="#d8951f"/>
<polygon points="2667.8,2638.0 2676.4,2643.0 2667.8,2648.0 2659.1,2643.0" fill="#e29e22"/>
<polygon points="2825.4,2600.0 2709.3,2667.0 2699.0,2671.7 2687.2,2675.0 2674.3,2676.7 2661.2,2676.7 2648.3,2675.0 2636.5,2671.7 2626.2,2667.0 2618.0,2661.1 2612.3,2654.2 2609.3,2646.8 2609.3,2639.2 2612.3,2631.8 2618.0,2624.9 2626.2,2619.0 2742.2,2552.0" fill="#d8951f"/>
<polygon points="2825.4,2589.0 2709.3,2656.0 2709.3,2667.0 2825.4,2600.0" fill="#d8951f"/>
<polygon points="2709.3,2656.0 2699.0,2660.7 2699.0,2671.7 2709.3,2667.0" fill="#d8951f"/>
<polygon points="2699.0,2660.7 2687.2,2664.0 2687.2,2675.0 2699.0,2671.7" fill="#d8951f"/>
<polygon points="2687.2,2664.0 2674.3,2665.7 2674.3,2676.7 2687.2,2675.0" fill="#d8951f"/>
<polygon points="2674.3,2665.7 2661.2,2665.7 2661.2,2676.7 2674.3,2676.7" fill="#d8951f"/>
<polygon points="2661.2,2665.7 2648.3,2664.0 2648.3,2675.0 2661.2,2676.7" fill="#d8951f"/>
<polygon points="2648.3,2664.0 2636.5,2660.7 2636.5,2671.7 2648.3,2675.0" fill="#d8951f"/>
<polygon points="2636.5,2660.7 2626.2,2656.0 2626.2,2667.0 2636.5,2671.7" fill="#d8951f"/>
<polygon points="2626.2,2656.0 2618.0,2650.1 2618.0,2661.1 2626.2,2667.0" fill="#d8951f"/>
<polygon points="2618.0,2650.1 2612.3,2643.2 2612.3,2654.2 2618.0,2661.1" fill="#d8951f"/>
<polygon points="2612.3,2643.2 2609.3,2635.8 2609.3,2646.8 2612.3,2654.2" fill="#d8951f"/>
<polygon points="2609.3,2635.8 2609.3,2628.2 2609.3,2639.2 2609.3,2646.8" fill="#d8951f"/>
<polygon points="2609.3,2628.2 2612.3,2620.8 2612.3,2631.8 2609.3,2639.2" fill="#d8951f"/>
<polygon points="2612.3,2620.8 2618.0,2613.9 2618.0,2624.9 2612.3,2631.8" fill="#d8951f"/>
<polygon points="2618.0,2613.9 2626.2,2608.0 2626.2,2619.0 2618.0,2624.9" fill="#d8951f"/>
<polygon points="2626.2,2608.0 2742.2,2541.0 2742.2,2552.0 2626.2,2619.0" fill="#d8951f"/>
<polygon points="2825.4,2589.0 2709.3,2656.0 2699.0,2660.7 2687.2,2664.0 2674.3,2665.7 2661.2,2665.7 2648.3,2664.0 2636.5,2660.7 2626.2,2656.0 2618.0,2650.1 2612.3,2643.2 2609.3,2635.8 2609.3,2628.2 2612.3,2620.8 2618.0,2613.9 2626.2,2608.0 2742.2,2541.0" fill="#eeb033"/>
<polygon points="2714.5,2567.0 2766.5,2597.0 2712.8,2628.0 2660.8,2598.0" fill="#4a4a4c"/>
<polygon points="2714.5,2572.0 2757.8,2597.0 2712.8,2623.0 2669.5,2598.0" fill="#dedfe0"/>
<path d="M2763.0 2561.0L2808.0 2587.0" stroke="#b77a18" stroke-width="1.800"/>
<path d="M2757.0 2564.5L2802.0 2590.5" stroke="#b77a18" stroke-width="1.800"/>
<path d="M2750.9 2568.0L2795.9 2594.0" stroke="#b77a18" stroke-width="1.800"/>
<ellipse cx="2618.0" cy="2765.5" rx="15.500" ry="8" fill="#bcbcbc"/>
<ellipse cx="2618.0" cy="2762.5" rx="15.500" ry="8" fill="#dedede"/>
<path d="M2609.5 2700.5V2761.5M2626.5 2700.5V2761.5" stroke="#bfc9cf" stroke-width="2.600" fill="none"/>
<path d="M2618.0 2702.5V2764.5" stroke="#d6dde2" stroke-width="2" fill="none" opacity=".8"/>
<ellipse cx="2618.0" cy="2716.5" rx="13" ry="6" fill="none" stroke="#d5d5d5" stroke-width="2.500"/>
<path d="M2598.0 2692.5v8a20 11 0 0 0 40 0v-8z" fill="#a9a9a9"/>
<ellipse cx="2618.0" cy="2692.5" rx="20" ry="11" fill="#d3d3d3"/>
<ellipse cx="2735.3" cy="2772.0" rx="15.500" ry="8" fill="#bcbcbc"/>
<ellipse cx="2735.3" cy="2769.0" rx="15.500" ry="8" fill="#dedede"/>
<path d="M2726.8 2707.0V2768.0M2743.8 2707.0V2768.0" stroke="#bfc9cf" stroke-width="2.600" fill="none"/>
<path d="M2735.3 2709.0V2771.0" stroke="#d6dde2" stroke-width="2" fill="none" opacity=".8"/>
<ellipse cx="2735.3" cy="2723.0" rx="13" ry="6" fill="none" stroke="#d5d5d5" stroke-width="2.500"/>
<path d="M2715.3 2699.0v8a20 11 0 0 0 40 0v-8z" fill="#a9a9a9"/>
<ellipse cx="2735.3" cy="2699.0" rx="20" ry="11" fill="#d3d3d3"/>
<ellipse cx="2798.8" cy="2725.4" rx="15.500" ry="8" fill="#bcbcbc"/>
<ellipse cx="2798.8" cy="2722.4" rx="15.500" ry="8" fill="#dedede"/>
<path d="M2790.3 2660.4V2721.4M2807.3 2660.4V2721.4" stroke="#bfc9cf" stroke-width="2.600" fill="none"/>
<path d="M2798.8 2662.4V2724.4" stroke="#d6dde2" stroke-width="2" fill="none" opacity=".8"/>
<ellipse cx="2798.8" cy="2676.4" rx="13" ry="6" fill="none" stroke="#d5d5d5" stroke-width="2.500"/>
<path d="M2778.8 2652.4v8a20 11 0 0 0 40 0v-8z" fill="#a9a9a9"/>
<ellipse cx="2798.8" cy="2652.4" rx="20" ry="11" fill="#d3d3d3"/>
<ellipse cx="2380.5" cy="2804.6" rx="15.500" ry="8" fill="#bcbcbc"/>
<ellipse cx="2380.5" cy="2801.6" rx="15.500" ry="8" fill="#dedede"/>
<path d="M2372.0 2739.6V2800.6M2389.0 2739.6V2800.6" stroke="#bfc9cf" stroke-width="2.600" fill="none"/>
<path d="M2380.5 2741.6V2803.6" stroke="#d6dde2" stroke-width="2" fill="none" opacity=".8"/>
<ellipse cx="2380.5" cy="2755.6" rx="13" ry="6" fill="none" stroke="#d5d5d5" stroke-width="2.500"/>
<path d="M2360.5 2731.6v8a20 11 0 0 0 40 0v-8z" fill="#a9a9a9"/>
<ellipse cx="2380.5" cy="2731.6" rx="20" ry="11" fill="#d3d3d3"/>
<ellipse cx="2453.6" cy="2784.0" rx="15.500" ry="8" fill="#bcbcbc"/>
<ellipse cx="2453.6" cy="2781.0" rx="15.500" ry="8" fill="#dedede"/>
<path d="M2445.1 2719.0V2780.0M2462.1 2719.0V2780.0" stroke="#bfc9cf" stroke-width="2.600" fill="none"/>
<path d="M2453.6 2721.0V2783.0" stroke="#d6dde2" stroke-width="2" fill="none" opacity=".8"/>
<ellipse cx="2453.6" cy="2735.0" rx="13" ry="6" fill="none" stroke="#d5d5d5" stroke-width="2.500"/>
<path d="M2433.6 2711.0v8a20 11 0 0 0 40 0v-8z" fill="#a9a9a9"/>
<ellipse cx="2453.6" cy="2711.0" rx="20" ry="11" fill="#d3d3d3"/>
<ellipse cx="2540.0" cy="2799.5" rx="15.500" ry="8" fill="#bcbcbc"/>
<ellipse cx="2540.0" cy="2796.5" rx="15.500" ry="8" fill="#dedede"/>
<path d="M2531.5 2734.5V2795.5M2548.5 2734.5V2795.5" stroke="#bfc9cf" stroke-width="2.600" fill="none"/>
<path d="M2540.0 2736.5V2798.5" stroke="#d6dde2" stroke-width="2" fill="none" opacity=".8"/>
<ellipse cx="2540.0" cy="2750.5" rx="13" ry="6" fill="none" stroke="#d5d5d5" stroke-width="2.500"/>
<path d="M2520.0 2726.5v8a20 11 0 0 0 40 0v-8z" fill="#a9a9a9"/>
<ellipse cx="2540.0" cy="2726.5" rx="20" ry="11" fill="#d3d3d3"/>
<ellipse cx="2228.7" cy="2907.5" rx="15.500" ry="8" fill="#bcbcbc"/>
<ellipse cx="2228.7" cy="2904.5" rx="15.500" ry="8" fill="#dedede"/>
<path d="M2220.2 2842.5V2903.5M2237.2 2842.5V2903.5" stroke="#bfc9cf" stroke-width="2.600" fill="none"/>
<path d="M2228.7 2844.5V2906.5" stroke="#d6dde2" stroke-width="2" fill="none" opacity=".8"/>
<ellipse cx="2228.7" cy="2858.5" rx="13" ry="6" fill="none" stroke="#d5d5d5" stroke-width="2.500"/>
<path d="M2208.7 2834.5v8a20 11 0 0 0 40 0v-8z" fill="#a9a9a9"/>
<ellipse cx="2228.7" cy="2834.5" rx="20" ry="11" fill="#d3d3d3"/>
<ellipse cx="2150.0" cy="2964.0" rx="15.500" ry="8" fill="#bcbcbc"/>
<ellipse cx="2150.0" cy="2961.0" rx="15.500" ry="8" fill="#dedede"/>
<path d="M2141.5 2899.0V2960.0M2158.5 2899.0V2960.0" stroke="#bfc9cf" stroke-width="2.600" fill="none"/>
<path d="M2150.0 2901.0V2963.0" stroke="#d6dde2" stroke-width="2" fill="none" opacity=".8"/>
<ellipse cx="2150.0" cy="2915.0" rx="13" ry="6" fill="none" stroke="#d5d5d5" stroke-width="2.500"/>
<path d="M2130.0 2891.0v8a20 11 0 0 0 40 0v-8z" fill="#a9a9a9"/>
<ellipse cx="2150.0" cy="2891.0" rx="20" ry="11" fill="#d3d3d3"/>
<polygon points="2313.8,2888.3 2313.8,2888.3 2313.8,2888.3 2313.8,2888.3" fill="#6a95ae"/>
<polygon points="2313.8,2888.3 2313.8,2888.3 2313.8,2888.3 2313.8,2888.3" fill="#6a95ae"/>
<polygon points="2313.8,2888.3 2313.8,2888.3 2313.8,2888.3 2313.8,2888.3" fill="#6a95ae"/>
<polygon points="2462.8,2855.3 2471.4,2860.3 2471.4,2779.3 2462.8,2774.3" fill="#6a95ae"/>
<polygon points="2480.1,2855.3 2471.4,2860.3 2471.4,2779.3 2480.1,2774.3" fill="#6d9bb6"/>
<polygon points="2471.4,2769.3 2480.1,2774.3 2471.4,2779.3 2462.8,2774.3" fill="#6a95ae"/>
<polygon points="2324.2,2813.3 2431.6,2751.3 2441.5,2746.8 2452.8,2743.6 2465.1,2742.0 2477.8,2742.0 2490.1,2743.6 2501.4,2746.8 2511.3,2751.3 2519.1,2757.0 2524.6,2763.6 2527.4,2770.7 2527.4,2777.9 2524.6,2785.0 2519.1,2791.6 2511.3,2797.3 2403.9,2859.3" fill="#6d9bb6"/>
<polygon points="2324.2,2802.3 2431.6,2740.3 2431.6,2751.3 2324.2,2813.3" fill="#6d9bb6"/>
<polygon points="2431.6,2740.3 2441.5,2735.8 2441.5,2746.8 2431.6,2751.3" fill="#6d9bb6"/>
<polygon points="2441.5,2735.8 2452.8,2732.6 2452.8,2743.6 2441.5,2746.8" fill="#6d9bb6"/>
<polygon points="2452.8,2732.6 2465.1,2731.0 2465.1,2742.0 2452.8,2743.6" fill="#6d9bb6"/>
<polygon points="2465.1,2731.0 2477.8,2731.0 2477.8,2742.0 2465.1,2742.0" fill="#6d9bb6"/>
<polygon points="2477.8,2731.0 2490.1,2732.6 2490.1,2743.6 2477.8,2742.0" fill="#6d9bb6"/>
<polygon points="2490.1,2732.6 2501.4,2735.8 2501.4,2746.8 2490.1,2743.6" fill="#6d9bb6"/>
<polygon points="2501.4,2735.8 2511.3,2740.3 2511.3,2751.3 2501.4,2746.8" fill="#6d9bb6"/>
<polygon points="2511.3,2740.3 2519.1,2746.0 2519.1,2757.0 2511.3,2751.3" fill="#6d9bb6"/>
<polygon points="2519.1,2746.0 2524.6,2752.6 2524.6,2763.6 2519.1,2757.0" fill="#6d9bb6"/>
<polygon points="2524.6,2752.6 2527.4,2759.7 2527.4,2770.7 2524.6,2763.6" fill="#6d9bb6"/>
<polygon points="2527.4,2759.7 2527.4,2766.9 2527.4,2777.9 2527.4,2770.7" fill="#6d9bb6"/>
<polygon points="2527.4,2766.9 2524.6,2774.0 2524.6,2785.0 2527.4,2777.9" fill="#6d9bb6"/>
<polygon points="2524.6,2774.0 2519.1,2780.6 2519.1,2791.6 2524.6,2785.0" fill="#6d9bb6"/>
<polygon points="2519.1,2780.6 2511.3,2786.3 2511.3,2797.3 2519.1,2791.6" fill="#6d9bb6"/>
<polygon points="2511.3,2786.3 2403.9,2848.3 2403.9,2859.3 2511.3,2797.3" fill="#6d9bb6"/>
<polygon points="2324.2,2802.3 2431.6,2740.3 2441.5,2735.8 2452.8,2732.6 2465.1,2731.0 2477.8,2731.0 2490.1,2732.6 2501.4,2735.8 2511.3,2740.3 2519.1,2746.0 2524.6,2752.6 2527.4,2759.7 2527.4,2766.9 2524.6,2774.0 2519.1,2780.6 2511.3,2786.3 2403.9,2848.3" fill="#8fbdd9"/>
<polygon points="2414.3,2760.3 2462.8,2788.3 2409.1,2819.3 2360.6,2791.3" fill="#4a4a4c"/>
<polygon points="2414.3,2765.3 2454.1,2788.3 2409.1,2814.3 2369.3,2791.3" fill="#dedfe0"/>
<path d="M2452.4 2756.3L2494.0 2780.3" stroke="#c08a3a" stroke-width="1.800"/>
<path d="M2446.3 2759.8L2487.9 2783.8" stroke="#c08a3a" stroke-width="1.800"/>
<path d="M2440.3 2763.3L2481.8 2787.3" stroke="#c08a3a" stroke-width="1.800"/>
<polygon points="2295.6,2898.8 2401.3,2959.8 2401.3,2767.8 2295.6,2706.8" fill="#5b8099"/>
<polygon points="2419.5,2949.3 2401.3,2959.8 2401.3,2767.8 2419.5,2757.3" fill="#7fa9c4"/>
<polygon points="2313.8,2696.3 2419.5,2757.3 2401.3,2767.8 2295.6,2706.8" fill="#9cc5de"/>
<polygon points="2274.0,2911.3 2379.7,2972.3 2379.7,2780.3 2274.0,2719.3" fill="#5b8099"/>
<polygon points="2397.8,2961.8 2379.7,2972.3 2379.7,2780.3 2397.8,2769.8" fill="#86afc9"/>
<polygon points="2292.2,2708.8 2397.8,2769.8 2379.7,2780.3 2274.0,2719.3" fill="#9cc5de"/>
<polygon points="2280.9,2737.3 2371.0,2789.3 2371.0,2879.3 2280.9,2827.3" fill="#4c6a80"/>
<polygon points="2284.4,2743.3 2367.5,2791.3 2367.5,2873.3 2284.4,2825.3" fill="#d3d3d3"/>
<polygon points="2308.6,2757.3 2327.7,2768.3 2317.3,2844.3 2303.4,2836.3" fill="#e2e2e2"/>
<polygon points="2313.8,2888.3 2313.8,2888.3 2313.8,2888.3 2313.8,2888.3" fill="#6a95ae"/>
<polygon points="2313.8,2888.3 2313.8,2888.3 2313.8,2888.3 2313.8,2888.3" fill="#6a95ae"/>
<polygon points="2313.8,2888.3 2313.8,2888.3 2313.8,2888.3 2313.8,2888.3" fill="#6a95ae"/>
<polygon points="2197.8,3006.3 2206.5,3011.3 2206.5,2930.3 2197.8,2925.3" fill="#6a95ae"/>
<polygon points="2215.1,3006.3 2206.5,3011.3 2206.5,2930.3 2215.1,2925.3" fill="#6d9bb6"/>
<polygon points="2206.5,2920.3 2215.1,2925.3 2206.5,2930.3 2197.8,2925.3" fill="#6a95ae"/>
<polygon points="2364.1,2882.3 2248.0,2949.3 2237.7,2954.0 2225.9,2957.3 2213.0,2959.0 2199.9,2959.0 2187.0,2957.3 2175.2,2954.0 2164.9,2949.3 2156.7,2943.4 2151.0,2936.5 2148.0,2929.1 2148.0,2921.5 2151.0,2914.1 2156.7,2907.2 2164.9,2901.3 2280.9,2834.3" fill="#6d9bb6"/>
<polygon points="2364.1,2871.3 2248.0,2938.3 2248.0,2949.3 2364.1,2882.3" fill="#6d9bb6"/>
<polygon points="2248.0,2938.3 2237.7,2943.0 2237.7,2954.0 2248.0,2949.3" fill="#6d9bb6"/>
<polygon points="2237.7,2943.0 2225.9,2946.3 2225.9,2957.3 2237.7,2954.0" fill="#6d9bb6"/>
<polygon points="2225.9,2946.3 2213.0,2948.0 2213.0,2959.0 2225.9,2957.3" fill="#6d9bb6"/>
<polygon points="2213.0,2948.0 2199.9,2948.0 2199.9,2959.0 2213.0,2959.0" fill="#6d9bb6"/>
<polygon points="2199.9,2948.0 2187.0,2946.3 2187.0,2957.3 2199.9,2959.0" fill="#6d9bb6"/>
<polygon points="2187.0,2946.3 2175.2,2943.0 2175.2,2954.0 2187.0,2957.3" fill="#6d9bb6"/>
<polygon points="2175.2,2943.0 2164.9,2938.3 2164.9,2949.3 2175.2,2954.0" fill="#6d9bb6"/>
<polygon points="2164.9,2938.3 2156.7,2932.4 2156.7,2943.4 2164.9,2949.3" fill="#6d9bb6"/>
<polygon points="2156.7,2932.4 2151.0,2925.5 2151.0,2936.5 2156.7,2943.4" fill="#6d9bb6"/>
<polygon points="2151.0,2925.5 2148.0,2918.1 2148.0,2929.1 2151.0,2936.5" fill="#6d9bb6"/>
<polygon points="2148.0,2918.1 2148.0,2910.5 2148.0,2921.5 2148.0,2929.1" fill="#6d9bb6"/>
<polygon points="2148.0,2910.5 2151.0,2903.1 2151.0,2914.1 2148.0,2921.5" fill="#6d9bb6"/>
<polygon points="2151.0,2903.1 2156.7,2896.2 2156.7,2907.2 2151.0,2914.1" fill="#6d9bb6"/>
<polygon points="2156.7,2896.2 2164.9,2890.3 2164.9,2901.3 2156.7,2907.2" fill="#6d9bb6"/>
<polygon points="2164.9,2890.3 2280.9,2823.3 2280.9,2834.3 2164.9,2901.3" fill="#6d9bb6"/>
<polygon points="2364.1,2871.3 2248.0,2938.3 2237.7,2943.0 2225.9,2946.3 2213.0,2948.0 2199.9,2948.0 2187.0,2946.3 2175.2,2943.0 2164.9,2938.3 2156.7,2932.4 2151.0,2925.5 2148.0,2918.1 2148.0,2910.5 2151.0,2903.1 2156.7,2896.2 2164.9,2890.3 2280.9,2823.3" fill="#8fbdd9"/>
<polygon points="2253.2,2849.3 2305.2,2879.3 2251.5,2910.3 2199.5,2880.3" fill="#4a4a4c"/>
<polygon points="2253.2,2854.3 2296.5,2879.3 2251.5,2905.3 2208.2,2880.3" fill="#dedfe0"/>
<path d="M2301.7 2843.3L2346.7 2869.3" stroke="#c08a3a" stroke-width="1.800"/>
<path d="M2295.6 2846.8L2340.7 2872.8" stroke="#c08a3a" stroke-width="1.800"/>
<path d="M2289.6 2850.3L2334.6 2876.3" stroke="#c08a3a" stroke-width="1.800"/>
<ellipse cx="2547.8" cy="2874.0" rx="15.500" ry="8" fill="#bcbcbc"/>
<ellipse cx="2547.8" cy="2871.0" rx="15.500" ry="8" fill="#dedede"/>
<path d="M2539.3 2809.0V2870.0M2556.3 2809.0V2870.0" stroke="#bfc9cf" stroke-width="2.600" fill="none"/>
<path d="M2547.8 2811.0V2873.0" stroke="#d6dde2" stroke-width="2" fill="none" opacity=".8"/>
<ellipse cx="2547.8" cy="2825.0" rx="13" ry="6" fill="none" stroke="#d5d5d5" stroke-width="2.500"/>
<path d="M2527.8 2801.0v8a20 11 0 0 0 40 0v-8z" fill="#a9a9a9"/>
<ellipse cx="2547.8" cy="2801.0" rx="20" ry="11" fill="#d3d3d3"/>
<ellipse cx="2483.4" cy="2928.0" rx="15.500" ry="8" fill="#bcbcbc"/>
<ellipse cx="2483.4" cy="2925.0" rx="15.500" ry="8" fill="#dedede"/>
<path d="M2474.9 2863.0V2924.0M2491.9 2863.0V2924.0" stroke="#bfc9cf" stroke-width="2.600" fill="none"/>
<path d="M2483.4 2865.0V2927.0" stroke="#d6dde2" stroke-width="2" fill="none" opacity=".8"/>
<ellipse cx="2483.4" cy="2879.0" rx="13" ry="6" fill="none" stroke="#d5d5d5" stroke-width="2.500"/>
<path d="M2463.4 2855.0v8a20 11 0 0 0 40 0v-8z" fill="#a9a9a9"/>
<ellipse cx="2483.4" cy="2855.0" rx="20" ry="11" fill="#d3d3d3"/>
<ellipse cx="2159.0" cy="3046.5" rx="15.500" ry="8" fill="#bcbcbc"/>
<ellipse cx="2159.0" cy="3043.5" rx="15.500" ry="8" fill="#dedede"/>
<path d="M2150.5 2981.5V3042.5M2167.5 2981.5V3042.5" stroke="#bfc9cf" stroke-width="2.600" fill="none"/>
<path d="M2159.0 2983.5V3045.5" stroke="#d6dde2" stroke-width="2" fill="none" opacity=".8"/>
<ellipse cx="2159.0" cy="2997.5" rx="13" ry="6" fill="none" stroke="#d5d5d5" stroke-width="2.500"/>
<path d="M2139.0 2973.5v8a20 11 0 0 0 40 0v-8z" fill="#a9a9a9"/>
<ellipse cx="2159.0" cy="2973.5" rx="20" ry="11" fill="#d3d3d3"/>
<ellipse cx="2275.0" cy="3051.7" rx="15.500" ry="8" fill="#bcbcbc"/>
<ellipse cx="2275.0" cy="3048.7" rx="15.500" ry="8" fill="#dedede"/>
<path d="M2266.5 2986.7V3047.7M2283.5 2986.7V3047.7" stroke="#bfc9cf" stroke-width="2.600" fill="none"/>
<path d="M2275.0 2988.7V3050.7" stroke="#d6dde2" stroke-width="2" fill="none" opacity=".8"/>
<ellipse cx="2275.0" cy="3002.7" rx="13" ry="6" fill="none" stroke="#d5d5d5" stroke-width="2.500"/>
<path d="M2255.0 2978.7v8a20 11 0 0 0 40 0v-8z" fill="#a9a9a9"/>
<ellipse cx="2275.0" cy="2978.7" rx="20" ry="11" fill="#d3d3d3"/>
<ellipse cx="2337.8" cy="3008.0" rx="15.500" ry="8" fill="#bcbcbc"/>
<ellipse cx="2337.8" cy="3005.0" rx="15.500" ry="8" fill="#dedede"/>
<path d="M2329.3 2943.0V3004.0M2346.3 2943.0V3004.0" stroke="#bfc9cf" stroke-width="2.600" fill="none"/>
<path d="M2337.8 2945.0V3007.0" stroke="#d6dde2" stroke-width="2" fill="none" opacity=".8"/>
<ellipse cx="2337.8" cy="2959.0" rx="13" ry="6" fill="none" stroke="#d5d5d5" stroke-width="2.500"/>
<path d="M2317.8 2935.0v8a20 11 0 0 0 40 0v-8z" fill="#a9a9a9"/>
<ellipse cx="2337.8" cy="2935.0" rx="20" ry="11" fill="#d3d3d3"/>
<ellipse cx="1922.0" cy="3087.7" rx="15.500" ry="8" fill="#bcbcbc"/>
<ellipse cx="1922.0" cy="3084.7" rx="15.500" ry="8" fill="#dedede"/>
<path d="M1913.5 3022.7V3083.7M1930.5 3022.7V3083.7" stroke="#bfc9cf" stroke-width="2.600" fill="none"/>
<path d="M1922.0 3024.7V3086.7" stroke="#d6dde2" stroke-width="2" fill="none" opacity=".8"/>
<ellipse cx="1922.0" cy="3038.7" rx="13" ry="6" fill="none" stroke="#d5d5d5" stroke-width="2.500"/>
<path d="M1902.0 3014.7v8a20 11 0 0 0 40 0v-8z" fill="#a9a9a9"/>
<ellipse cx="1922.0" cy="3014.7" rx="20" ry="11" fill="#d3d3d3"/>
<ellipse cx="1994.5" cy="3067.0" rx="15.500" ry="8" fill="#bcbcbc"/>
<ellipse cx="1994.5" cy="3064.0" rx="15.500" ry="8" fill="#dedede"/>
<path d="M1986.0 3002.0V3063.0M2003.0 3002.0V3063.0" stroke="#bfc9cf" stroke-width="2.600" fill="none"/>
<path d="M1994.5 3004.0V3066.0" stroke="#d6dde2" stroke-width="2" fill="none" opacity=".8"/>
<ellipse cx="1994.5" cy="3018.0" rx="13" ry="6" fill="none" stroke="#d5d5d5" stroke-width="2.500"/>
<path d="M1974.5 2994.0v8a20 11 0 0 0 40 0v-8z" fill="#a9a9a9"/>
<ellipse cx="1994.5" cy="2994.0" rx="20" ry="11" fill="#d3d3d3"/>
<ellipse cx="2082.0" cy="3082.5" rx="15.500" ry="8" fill="#bcbcbc"/>
<ellipse cx="2082.0" cy="3079.5" rx="15.500" ry="8" fill="#dedede"/>
<path d="M2073.5 3017.5V3078.5M2090.5 3017.5V3078.5" stroke="#bfc9cf" stroke-width="2.600" fill="none"/>
<path d="M2082.0 3019.5V3081.5" stroke="#d6dde2" stroke-width="2" fill="none" opacity=".8"/>
<ellipse cx="2082.0" cy="3033.5" rx="13" ry="6" fill="none" stroke="#d5d5d5" stroke-width="2.500"/>
<path d="M2062.0 3009.5v8a20 11 0 0 0 40 0v-8z" fill="#a9a9a9"/>
<ellipse cx="2082.0" cy="3009.5" rx="20" ry="11" fill="#d3d3d3"/>
<polygon points="1858.0,3173.3 1858.0,3173.3 1858.0,3173.3 1858.0,3173.3" fill="#e29e22"/>
<polygon points="1858.0,3173.3 1858.0,3173.3 1858.0,3173.3 1858.0,3173.3" fill="#e29e22"/>
<polygon points="1858.0,3173.3 1858.0,3173.3 1858.0,3173.3 1858.0,3173.3" fill="#e29e22"/>
<polygon points="2008.7,3139.3 2017.3,3144.3 2017.3,3063.3 2008.7,3058.3" fill="#e29e22"/>
<polygon points="2026.0,3139.3 2017.3,3144.3 2017.3,3063.3 2026.0,3058.3" fill="#d8951f"/>
<polygon points="2017.3,3053.3 2026.0,3058.3 2017.3,3063.3 2008.7,3058.3" fill="#e29e22"/>
<polygon points="1868.4,3098.3 1977.5,3035.3 1987.4,3030.8 1998.7,3027.6 2011.0,3026.0 2023.6,3026.0 2035.9,3027.6 2047.3,3030.8 2057.2,3035.3 2065.0,3041.0 2070.5,3047.6 2073.3,3054.7 2073.3,3062.0 2070.5,3069.1 2065.0,3075.7 2057.2,3081.3 1948.0,3144.3" fill="#d8951f"/>
<polygon points="1868.4,3087.3 1977.5,3024.3 1977.5,3035.3 1868.4,3098.3" fill="#d8951f"/>
<polygon points="1977.5,3024.3 1987.4,3019.8 1987.4,3030.8 1977.5,3035.3" fill="#d8951f"/>
<polygon points="1987.4,3019.8 1998.7,3016.6 1998.7,3027.6 1987.4,3030.8" fill="#d8951f"/>
<polygon points="1998.7,3016.6 2011.0,3015.0 2011.0,3026.0 1998.7,3027.6" fill="#d8951f"/>
<polygon points="2011.0,3015.0 2023.6,3015.0 2023.6,3026.0 2011.0,3026.0" fill="#d8951f"/>
<polygon points="2023.6,3015.0 2035.9,3016.6 2035.9,3027.6 2023.6,3026.0" fill="#d8951f"/>
<polygon points="2035.9,3016.6 2047.3,3019.8 2047.3,3030.8 2035.9,3027.6" fill="#d8951f"/>
<polygon points="2047.3,3019.8 2057.2,3024.3 2057.2,3035.3 2047.3,3030.8" fill="#d8951f"/>
<polygon points="2057.2,3024.3 2065.0,3030.0 2065.0,3041.0 2057.2,3035.3" fill="#d8951f"/>
<polygon points="2065.0,3030.0 2070.5,3036.6 2070.5,3047.6 2065.0,3041.0" fill="#d8951f"/>
<polygon points="2070.5,3036.6 2073.3,3043.7 2073.3,3054.7 2070.5,3047.6" fill="#d8951f"/>
<polygon points="2073.3,3043.7 2073.3,3051.0 2073.3,3062.0 2073.3,3054.7" fill="#d8951f"/>
<polygon points="2073.3,3051.0 2070.5,3058.1 2070.5,3069.1 2073.3,3062.0" fill="#d8951f"/>
<polygon points="2070.5,3058.1 2065.0,3064.7 2065.0,3075.7 2070.5,3069.1" fill="#d8951f"/>
<polygon points="2065.0,3064.7 2057.2,3070.3 2057.2,3081.3 2065.0,3075.7" fill="#d8951f"/>
<polygon points="2057.2,3070.3 1948.0,3133.3 1948.0,3144.3 2057.2,3081.3" fill="#d8951f"/>
<polygon points="1868.4,3087.3 1977.5,3024.3 1987.4,3019.8 1998.7,3016.6 2011.0,3015.0 2023.6,3015.0 2035.9,3016.6 2047.3,3019.8 2057.2,3024.3 2065.0,3030.0 2070.5,3036.6 2073.3,3043.7 2073.3,3051.0 2070.5,3058.1 2065.0,3064.7 2057.2,3070.3 1948.0,3133.3" fill="#eeb033"/>
<polygon points="1960.2,3044.3 2008.7,3072.3 1955.0,3103.3 1906.5,3075.3" fill="#4a4a4c"/>
<polygon points="1960.2,3049.3 2000.0,3072.3 1955.0,3098.3 1915.1,3075.3" fill="#dedfe0"/>
<path d="M1998.3 3040.3L2039.8 3064.3" stroke="#b77a18" stroke-width="1.800"/>
<path d="M1992.2 3043.8L2033.8 3067.8" stroke="#b77a18" stroke-width="1.800"/>
<path d="M1986.2 3047.3L2027.7 3071.3" stroke="#b77a18" stroke-width="1.800"/>
<polygon points="1838.5,3184.6 1944.2,3245.6 1944.2,3053.6 1838.5,2992.6" fill="#c8861b"/>
<polygon points="1963.6,3234.3 1944.2,3245.6 1944.2,3053.6 1963.6,3042.3" fill="#e8a429"/>
<polygon points="1858.0,2981.3 1963.6,3042.3 1944.2,3053.6 1838.5,2992.6" fill="#eeb033"/>
<ellipse cx="2088.0" cy="3159.8" rx="15.500" ry="8" fill="#bcbcbc"/>
<ellipse cx="2088.0" cy="3156.8" rx="15.500" ry="8" fill="#dedede"/>
<path d="M2079.5 3094.8V3155.8M2096.5 3094.8V3155.8" stroke="#bfc9cf" stroke-width="2.600" fill="none"/>
<path d="M2088.0 3096.8V3158.8" stroke="#d6dde2" stroke-width="2" fill="none" opacity=".8"/>
<ellipse cx="2088.0" cy="3110.8" rx="13" ry="6" fill="none" stroke="#d5d5d5" stroke-width="2.500"/>
<path d="M2068.0 3086.8v8a20 11 0 0 0 40 0v-8z" fill="#a9a9a9"/>
<ellipse cx="2088.0" cy="3086.8" rx="20" ry="11" fill="#d3d3d3"/>
<ellipse cx="2023.8" cy="3213.8" rx="15.500" ry="8" fill="#bcbcbc"/>
<ellipse cx="2023.8" cy="3210.8" rx="15.500" ry="8" fill="#dedede"/>
<path d="M2015.3 3148.8V3209.8M2032.3 3148.8V3209.8" stroke="#bfc9cf" stroke-width="2.600" fill="none"/>
<path d="M2023.8 3150.8V3212.8" stroke="#d6dde2" stroke-width="2" fill="none" opacity=".8"/>
<ellipse cx="2023.8" cy="3164.8" rx="13" ry="6" fill="none" stroke="#d5d5d5" stroke-width="2.500"/>
<path d="M2003.8 3140.8v8a20 11 0 0 0 40 0v-8z" fill="#a9a9a9"/>
<ellipse cx="2023.8" cy="3140.8" rx="20" ry="11" fill="#d3d3d3"/>
<polygon points="2548.0,2940.0 2380.0,2900.0 2440.0,3040.0 2500.0,3000.0" fill="url(#cone3)" opacity=".6"/>
<polygon points="2591.0,2917.0 2627.0,2907.0 2631.0,2915.0 2595.0,2925.0" fill="#2a2726"/>
<polygon points="2595.0,2925.0 2631.0,2915.0 2625.0,2949.0 2607.0,2955.0" fill="#2a2726"/>
<polygon points="2595.0,2925.0 2605.0,2922.0 2613.0,2953.0 2607.0,2955.0" fill="#e8e8e6"/>
<polygon points="2543.0,2940.0 2579.0,2930.0 2583.0,2938.0 2547.0,2948.0" fill="#2a2726"/>
<polygon points="2547.0,2948.0 2583.0,2938.0 2577.0,2972.0 2559.0,2978.0" fill="#2a2726"/>
<polygon points="2547.0,2948.0 2557.0,2945.0 2565.0,2976.0 2559.0,2978.0" fill="#e8e8e6"/>
</svg>
<!-- p_icons -->
<svg width="3720" height="3646" viewBox="0 0 3720 3646" id="icons">
<polygon points="621.6,1902.0 654.0,1875.0 675.7,1884.0 677.5,1934.6 650.4,1968.9 614.4,1938.0" fill="#b07422" stroke="#b07422" stroke-width="4" stroke-linejoin="round"/><polygon points="627.4,1902.1 655.3,1878.9 674.0,1886.6 675.5,1930.1 652.2,1959.6 621.2,1933.1" fill="#d4963a" stroke="#d4963a" stroke-width="3" stroke-linejoin="round"/><g transform="matrix(0.75 -0.35 0 1 646.0 1918.0)"><path transform="scale(0.7) rotate(-8)" d="M-9 -24q-9 4 -5 15q9 24 28 37q9 4 13 -4l-6 -9q-3 -4 -8 -1l-5 3q-10 -8 -15 -21l4 -3q4 -3 1 -8z" fill="#f4efe6"/></g>
<polygon points="630.6,1985.0 657.6,1961.7 673.9,1976.0 672.0,2005.0 648.6,2021.0 630.6,2005.0" fill="#94182a" stroke="#94182a" stroke-width="4" stroke-linejoin="round"/><polygon points="635.6,1984.0 658.8,1964.0 672.9,1976.3 671.2,2001.2 651.1,2015.0 635.6,2001.2" fill="#c4223a" stroke="#c4223a" stroke-width="3" stroke-linejoin="round"/><g transform="matrix(0.80 -0.40 0 1 652.0 1990.0)"><path d="M-6.2 -9.3L-6.2 9.3L9.3 0Z" fill="#f0ece8"/></g>
<polygon points="677.5,1909.4 706.3,1889.6 728.0,1914.8 726.0,1960.0 690.0,1983.3 668.5,1956.3" fill="#367c20" stroke="#367c20" stroke-width="4" stroke-linejoin="round"/><polygon points="682.6,1911.1 707.3,1894.0 726.0,1915.7 724.3,1954.6 693.3,1974.6 674.8,1951.4" fill="#4fa02e" stroke="#4fa02e" stroke-width="3" stroke-linejoin="round"/><g transform="matrix(0.80 -0.40 0 1 700.0 1934.0)"><ellipse cx="0" cy="-2.88" rx="19.44" ry="15.84" fill="#fff"/><path d="M-1.44 8.64L11.52 24.48L8.64 7.2z" fill="#fff"/><circle cx="-7.92" cy="-3.6" r="2.592" fill="#111"/><circle cx="0" cy="-3.6" r="2.592" fill="#111"/><circle cx="7.92" cy="-3.6" r="2.592" fill="#111"/></g>
<g transform="matrix(.8 -0.45 0 1 1406.8 1556.0)">
<polygon points="0.0,-30.0 26.0,-15.0 26.0,15.0 0.0,30.0 -26.0,15.0 -26.0,-15.0" fill="#1f6fc8" stroke="#1f6fc8" stroke-width="6" stroke-linejoin="round"/></g>
<g transform="matrix(.8 -0.45 0 1 1414.0 1551.0)">
<polygon points="0.0,-30.0 26.0,-15.0 26.0,15.0 0.0,30.0 -26.0,15.0 -26.0,-15.0" fill="#3f8fe0" stroke="#3f8fe0" stroke-width="6" stroke-linejoin="round"/>
<circle cx="0" cy="0" r="19" fill="#dff0ff"/><path d="M-19 0H19M0 -19V19M-13 -13Q0 -6 13 -13M-13 13Q0 6 13 13M-8 -18Q-16 0 -8 18M8 -18Q16 0 8 18" stroke="#3f8fe0" stroke-width="2" fill="none"/>
</g>
<ellipse cx="1455" cy="1508" rx="19" ry="26" fill="none" stroke="#169a3c" stroke-width="9" transform="rotate(8 1455 1508)"/><path d="M1446 1512l8-16l6 14z" fill="#e8242c"/>
<ellipse cx="1445" cy="1568" rx="17" ry="25" fill="#10182c" transform="rotate(8 1445 1568)"/><ellipse cx="1449" cy="1566" rx="17" ry="25" fill="#1c2840" transform="rotate(8 1449 1566)"/><rect x="1441" y="1556" width="15" height="18" rx="2" fill="none" stroke="#f0f0f0" stroke-width="3" transform="skewY(-20) translate(0 528)"/>
<polygon points="2673.4,2172.5 2718.4,2194.0 2736.4,2262.6 2702.2,2311.2 2657.0,2287.8 2641.0,2219.3" fill="#a86c22" stroke="#a86c22" stroke-width="4" stroke-linejoin="round"/><polygon points="2670.5,2183.1 2709.2,2201.6 2724.6,2260.6 2695.2,2302.4 2656.3,2282.3 2642.6,2223.4" fill="#d4963a" stroke="#d4963a" stroke-width="3" stroke-linejoin="round"/><g transform="matrix(0.70 -0.10 0 1 2680.0 2236.0)"><path transform="scale(1.05) rotate(-8)" d="M-9 -24q-9 4 -5 15q9 24 28 37q9 4 13 -4l-6 -9q-3 -4 -8 -1l-5 3q-10 -8 -15 -21l4 -3q4 -3 1 -8z" fill="#f4efe6"/></g>
<polygon points="2576.0,2215.7 2617.5,2237.4 2637.3,2298.6 2606.7,2352.7 2563.5,2334.6 2541.8,2266.2" fill="#357a22" stroke="#357a22" stroke-width="4" stroke-linejoin="round"/><polygon points="2573.0,2226.3 2608.7,2245.0 2625.7,2297.6 2599.4,2344.1 2562.3,2328.5 2543.6,2269.7" fill="#4fa02e" stroke="#4fa02e" stroke-width="3" stroke-linejoin="round"/><g transform="matrix(0.72 0.25 0 1 2583.0 2282.0)"><ellipse cx="0" cy="-4.2" rx="28.35" ry="23.1" fill="#fff"/><path d="M-2.1 12.6L16.8 35.7L12.6 10.5z" fill="#fff"/><circle cx="-11.55" cy="-5.25" r="3.78" fill="#111"/><circle cx="0" cy="-5.25" r="3.78" fill="#111"/><circle cx="11.55" cy="-5.25" r="3.78" fill="#111"/></g>
<polygon points="2659.0,2327.4 2687.8,2341.8 2700.4,2385.0 2675.2,2419.3 2648.0,2405.0 2633.7,2359.9" fill="#961a2a" stroke="#961a2a" stroke-width="4" stroke-linejoin="round"/><polygon points="2656.2,2334.8 2680.9,2347.2 2691.8,2384.3 2670.1,2413.8 2646.7,2401.5 2634.4,2362.7" fill="#c4223a" stroke="#c4223a" stroke-width="3" stroke-linejoin="round"/><g transform="matrix(0.70 0.30 0 1 2662.0 2374.0)"><path d="M11.2 -12.8L11.2 14.4L-11.2 0Z" fill="#f0ece8"/></g>
<g transform="matrix(.87 .45 0 1 2153.0 1977.0)">
<rect x="-49.0" y="-50.0" width="98" height="100" rx="13" fill="#4f8e1a"/></g>
<g transform="matrix(.87 .45 0 1 2141.0 1980.0)">
<rect x="-49.0" y="-50.0" width="98" height="100" rx="13" fill="#7ab52a"/>
<path d="M0 30C-28 -2 -26 -32 0 -34C26 -32 28 -2 0 30Z" fill="#c8161e"/><circle cx="0" cy="-10" r="10" fill="#fff"/>
</g>
<g transform="matrix(.87 .45 0 1 2253.0 2073.0)">
<rect x="-39.0" y="-42.0" width="78" height="84" rx="13" fill="#1f4f9e"/></g>
<g transform="matrix(.87 .45 0 1 2243.0 2076.0)">
<rect x="-39.0" y="-42.0" width="78" height="84" rx="13" fill="#2f6cc8"/>
<circle cx="0" cy="0" r="30" fill="none" stroke="#5a8fe0" stroke-width="1.500"/><path d="M0 2L-8 -18M0 2L2 -22M0 2L0 14" stroke="#fff" stroke-width="4" stroke-linecap="round"/><circle cx="24.0" cy="0.0" r="2" fill="#dfe8ff"/><circle cx="17.0" cy="17.0" r="2" fill="#dfe8ff"/><circle cx="0.0" cy="24.0" r="2" fill="#dfe8ff"/><circle cx="-17.0" cy="17.0" r="2" fill="#dfe8ff"/><circle cx="-24.0" cy="0.0" r="2" fill="#dfe8ff"/><circle cx="-17.0" cy="-17.0" r="2" fill="#dfe8ff"/><circle cx="-0.0" cy="-24.0" r="2" fill="#dfe8ff"/><circle cx="17.0" cy="-17.0" r="2" fill="#dfe8ff"/>
</g>
<g transform="matrix(.87 .45 0 1 2170.0 2154.0)">
<rect x="-50.0" y="-53.0" width="100" height="106" rx="13" fill="#1f78a8"/></g>
<g transform="matrix(.87 .45 0 1 2158.0 2157.0)">
<rect x="-50.0" y="-53.0" width="100" height="106" rx="13" fill="#2f9ad0"/>
<path d="M-18 -38a26 26 0 1 0 10 50a32 32 0 0 1 -10 -50z" fill="#f2b01e"/><path d="M-22 8a16 16 0 0 1 10 -28a22 22 0 0 1 40 4a14 14 0 0 1 2 26z" fill="#d4ecf8"/><g font-size="14" font-weight="700" fill="#fff"><text x="-34" y="36">3°</text></g><path d="M-6 30h8M-6 36h8M8 30h10M8 36h6M22 34h6" stroke="#fff" stroke-width="3"/>
</g>
<g transform="matrix(.866 -.5 0 1 545.6 2063.7)">
<rect x="0" y="5" width="56.6" height="32" rx="6" fill="#1f4f9a"/><rect x="0" y="0" width="56.6" height="32" rx="6" fill="#2f6cc2"/>
<text x="28.3" y="22.500" font-size="17" fill="#e8f0ff" text-anchor="middle" style="font-family:'Liberation Sans','DejaVu Sans','Noto Sans CJK KR','Noto Sans CJK SC',sans-serif">Hello</text></g>
<g transform="matrix(.866 -.5 0 1 545.6 2104.9)">
<rect x="0" y="5" width="65.4" height="32" rx="6" fill="#1f4f9a"/><rect x="0" y="0" width="65.4" height="32" rx="6" fill="#2f6cc2"/>
<text x="32.7" y="22.500" font-size="17" fill="#e8f0ff" text-anchor="middle" style="font-family:'Liberation Sans','DejaVu Sans','Noto Sans CJK KR','Noto Sans CJK SC',sans-serif">أهلا</text></g>
<g transform="matrix(.866 -.5 0 1 545.6 2150.7)">
<rect x="0" y="5" width="56.6" height="32" rx="6" fill="#1f4f9a"/><rect x="0" y="0" width="56.6" height="32" rx="6" fill="#2f6cc2"/>
<text x="28.3" y="22.500" font-size="17" fill="#e8f0ff" text-anchor="middle" style="font-family:'Liberation Sans','DejaVu Sans','Noto Sans CJK KR','Noto Sans CJK SC',sans-serif">你好</text></g>
<g transform="matrix(.866 -.5 0 1 545.6 2198.5)">
<rect x="0" y="5" width="80.3" height="32" rx="6" fill="#1f4f9a"/><rect x="0" y="0" width="80.3" height="32" rx="6" fill="#2f6cc2"/>
<text x="40.1" y="22.500" font-size="17" fill="#e8f0ff" text-anchor="middle" style="font-family:'Liberation Sans','DejaVu Sans','Noto Sans CJK KR','Noto Sans CJK SC',sans-serif">Привет</text></g>
<g transform="matrix(.866 -.5 0 1 545.6 2244.8)">
<rect x="0" y="5" width="56.6" height="32" rx="6" fill="#1f4f9a"/><rect x="0" y="0" width="56.6" height="32" rx="6" fill="#2f6cc2"/>
<text x="28.3" y="22.500" font-size="17" fill="#e8f0ff" text-anchor="middle" style="font-family:'Liberation Sans','DejaVu Sans','Noto Sans CJK KR','Noto Sans CJK SC',sans-serif">이봐</text></g>
<g transform="matrix(.866 -.5 0 1 545.6 2291.2)">
<rect x="0" y="5" width="56.6" height="32" rx="6" fill="#1f4f9a"/><rect x="0" y="0" width="56.6" height="32" rx="6" fill="#2f6cc2"/>
<text x="28.3" y="22.500" font-size="17" fill="#e8f0ff" text-anchor="middle" style="font-family:'Liberation Sans','DejaVu Sans','Noto Sans CJK KR','Noto Sans CJK SC',sans-serif">Hola</text></g>
</svg>
<!-- p_static -->
<div class="t ttl" id="t1" style="left:358px;top:-4px;font-size:68px;font-weight:400;letter-spacing:-1.9px;-webkit-text-stroke:.8px #1d67a3">CIS−DQ67−FA01</div>
<div class="t ttl" id="t2" style="left:2274px;top:3px;font-size:57px">AI课堂教学分析系统</div>
<div class="t ttl" id="t3" style="left:394px;top:1710px;font-size:57px;letter-spacing:.6px">AI课堂教学场景</div>
<div class="t" id="fn1" style="left:3348px;top:1277px;font-size:24px;font-weight:300;color:#222">* 展示数据仅作参考</div>
<div class="t" id="fn2" style="left:24px;top:3509px;font-size:24px;font-weight:300;color:#222">*AI 课堂教学场景仅作参考</div>
<svg width="3720" height="3646" viewBox="0 0 3720 3646" id="arrows">
<defs>
<linearGradient id="gaL" x1="1172" y1="0" x2="1400" y2="0" gradientUnits="userSpaceOnUse"><stop offset="0" stop-color="#2568a4"/><stop offset=".35" stop-color="#6c86bb"/><stop offset="1" stop-color="#c8cfe6" stop-opacity="0"/></linearGradient>
<linearGradient id="gaR" x1="1400" y1="0" x2="1172" y2="0" gradientUnits="userSpaceOnUse"><stop offset="0" stop-color="#2568a4"/><stop offset=".35" stop-color="#6c86bb"/><stop offset="1" stop-color="#c8cfe6" stop-opacity="0"/></linearGradient>
<linearGradient id="gaD" x1="0" y1="1595" x2="0" y2="1352" gradientUnits="userSpaceOnUse"><stop offset="0" stop-color="#2568a4"/><stop offset=".35" stop-color="#6c86bb"/><stop offset="1" stop-color="#c8cfe6" stop-opacity="0"/></linearGradient>
<linearGradient id="gaU" x1="0" y1="1362" x2="0" y2="1602" gradientUnits="userSpaceOnUse"><stop offset="0" stop-color="#2568a4"/><stop offset=".35" stop-color="#6c86bb"/><stop offset="1" stop-color="#c8cfe6" stop-opacity="0"/></linearGradient>
<linearGradient id="gl1" x1="326" y1="0" x2="1690" y2="0" gradientUnits="userSpaceOnUse"><stop offset="0" stop-color="#1f6fae"/><stop offset=".45" stop-color="#6a9ccb"/><stop offset=".8" stop-color="#c8d8ee"/><stop offset="1" stop-color="#ffffff"/></linearGradient>
<linearGradient id="gl2" x1="326" y1="0" x2="2570" y2="0" gradientUnits="userSpaceOnUse"><stop offset="0" stop-color="#1f6fae"/><stop offset=".4" stop-color="#5f94c7"/><stop offset=".62" stop-color="#b8cde8"/><stop offset=".8" stop-color="#ffffff"/><stop offset="1" stop-color="#ffffff"/></linearGradient>
</defs>
<g fill="none" stroke-width="13.5" stroke-linejoin="miter">
<path d="M1178 467H1400" stroke="url(#gaL)"/><path d="M1235 417L1181 467L1235 517" stroke="url(#gaL)"/>
<path d="M1177 881H1394" stroke="url(#gaR)"/><path d="M1338 830L1391 881L1338 932" stroke="url(#gaR)"/>
<path d="M451 1352V1588" stroke="url(#gaD)"/><path d="M400 1538L451 1586L502 1538" stroke="url(#gaD)"/>
<path d="M739 1602V1368" stroke="url(#gaU)"/><path d="M688 1418L739 1370L790 1418" stroke="url(#gaU)"/>
</g>
</svg>
<div class="t ttl" id="lb1" style="left:19px;top:2847px;font-size:56px;font-weight:500;color:#1d64a0">拾音麦克风</div>
<div class="t ttl" id="lb2" style="left:19px;top:3153px;font-size:56px;font-weight:500;color:#1d64a0">全景摄像头</div>
<svg width="3720" height="3646" viewBox="0 0 3720 3646" id="leaders">
<g fill="none" stroke-width="6" stroke-linecap="butt">
<path d="M326 2876.5H1659Q1683 2876.5 1683 2852V2719" stroke="url(#gl1)"/>
<path d="M326 3182H2540Q2564.500 3182 2564.500 3157V3013" stroke="url(#gl2)"/>
</g></svg>
<!-- p_server -->
<div class="abs" id="hw">
<div class="t spec" style="top:450px">CPU：i7−12700</div>
<div class="t spec" style="top:522px">GPU：RTX−A4000</div>
<div class="t spec" style="top:594px">RAM：96G</div>
</div>
<svg width="3720" height="3646" viewBox="0 0 3720 3646" id="servers">
<defs>
<linearGradient id="sv1" x1="0" y1="0" x2="0" y2="1"><stop offset="0" stop-color="#e6e9e2"/><stop offset="1" stop-color="#d6dbd3"/></linearGradient>
<linearGradient id="sv2" x1="0" y1="0" x2="1" y2="1"><stop offset="0" stop-color="#141a22"/><stop offset=".5" stop-color="#05070a"/><stop offset="1" stop-color="#000"/></linearGradient>
<pattern id="mesh" width="9" height="8" patternUnits="userSpaceOnUse"><rect width="9" height="8" fill="#d9ded6"/><circle cx="2.2" cy="2" r="3" fill="#1a1a1c"/><circle cx="6.700" cy="6" r="3" fill="#1a1a1c"/></pattern>
<pattern id="mesh2" width="13" height="11.500" patternUnits="userSpaceOnUse"><rect width="13" height="11.500" fill="#d4d9d2"/><circle cx="3.2" cy="2.9" r="4.800" fill="#17171a"/><circle cx="9.700" cy="8.600" r="4.800" fill="#17171a"/></pattern>
<filter id="svsh" x="-10%" y="-10%" width="120%" height="130%"><feGaussianBlur stdDeviation="9"/></filter>
</defs>
<rect x="262" y="268" width="720" height="276" rx="14" fill="#1b2a66" opacity=".35" filter="url(#svsh)"/>
<rect x="257" y="256" width="66" height="279" rx="12" fill="#e9ece6"/>
<rect x="921" y="256" width="64" height="279" rx="12" fill="#e3e7e0"/>
<rect x="318" y="262" width="609" height="258" fill="url(#sv1)"/>
<rect x="318" y="262" width="609" height="16" fill="#eef0ea"/>
<rect x="318" y="504" width="609" height="16" fill="#c9cec6"/>
<path d="M318 268H288Q282 268 282 274V518Q282 524 288 524H318" fill="none" stroke="#26262a" stroke-width="13" stroke-linejoin="round"/>
<path d="M927 268H957Q963 268 963 274V518Q963 524 957 524H927" fill="none" stroke="#26262a" stroke-width="13" stroke-linejoin="round"/>
<circle cx="291" cy="318" r="3" fill="#444"/><circle cx="291" cy="468" r="3" fill="#444"/><circle cx="953" cy="318" r="3" fill="#776"/><circle cx="953" cy="468" r="3" fill="#776"/>
<rect x="386.0" y="322" width="3.6" height="58" rx="1.500" fill="#2a2c2e"/>
<rect x="397.7" y="322" width="3.6" height="58" rx="1.500" fill="#2a2c2e"/>
<rect x="409.4" y="322" width="3.6" height="58" rx="1.500" fill="#2a2c2e"/>
<rect x="421.1" y="322" width="3.6" height="58" rx="1.500" fill="#2a2c2e"/>
<rect x="432.8" y="322" width="3.6" height="58" rx="1.500" fill="#2a2c2e"/>
<rect x="444.5" y="322" width="3.6" height="58" rx="1.500" fill="#2a2c2e"/>
<rect x="456.2" y="322" width="3.6" height="58" rx="1.500" fill="#2a2c2e"/>
<rect x="467.9" y="322" width="3.6" height="58" rx="1.500" fill="#2a2c2e"/>
<rect x="479.6" y="322" width="3.6" height="58" rx="1.500" fill="#2a2c2e"/>
<rect x="491.3" y="322" width="3.6" height="58" rx="1.500" fill="#2a2c2e"/>
<rect x="503.0" y="322" width="3.6" height="58" rx="1.500" fill="#2a2c2e"/>
<rect x="514.7" y="322" width="3.6" height="58" rx="1.500" fill="#2a2c2e"/>
<rect x="526.4" y="322" width="3.6" height="58" rx="1.500" fill="#2a2c2e"/>
<rect x="386.0" y="395" width="3.6" height="58" rx="1.500" fill="#2a2c2e"/>
<rect x="397.7" y="395" width="3.6" height="58" rx="1.500" fill="#2a2c2e"/>
<rect x="409.4" y="395" width="3.6" height="58" rx="1.500" fill="#2a2c2e"/>
<rect x="421.1" y="395" width="3.6" height="58" rx="1.500" fill="#2a2c2e"/>
<rect x="432.8" y="395" width="3.6" height="58" rx="1.500" fill="#2a2c2e"/>
<rect x="444.5" y="395" width="3.6" height="58" rx="1.500" fill="#2a2c2e"/>
<rect x="456.2" y="395" width="3.6" height="58" rx="1.500" fill="#2a2c2e"/>
<rect x="467.9" y="395" width="3.6" height="58" rx="1.500" fill="#2a2c2e"/>
<rect x="479.6" y="395" width="3.6" height="58" rx="1.500" fill="#2a2c2e"/>
<rect x="491.3" y="395" width="3.6" height="58" rx="1.500" fill="#2a2c2e"/>
<rect x="503.0" y="395" width="3.6" height="58" rx="1.500" fill="#2a2c2e"/>
<rect x="514.7" y="395" width="3.6" height="58" rx="1.500" fill="#2a2c2e"/>
<rect x="526.4" y="395" width="3.6" height="58" rx="1.500" fill="#2a2c2e"/>
<rect x="552" y="299" width="343" height="178" rx="4" fill="#e2e6df" stroke="#b9bfb7" stroke-width="1.500"/>
<path d="M612 322H684Q692 323 697 331Q708 350 727 353Q745 343 760 352L838 421Q843 426 843 432V440Q843 452.500 830 452.500H612Q599.500 452.500 599.500 440V334Q599.500 322 612 322Z" fill="url(#sv2)"/>
<circle cx="723.500" cy="320.500" r="12.500" fill="#c9ccd0" stroke="#8d9196" stroke-width="2"/><circle cx="723.500" cy="320.500" r="7" fill="#e9ebee" stroke="#9a9ea3" stroke-width="1.500"/><rect x="722" y="315" width="3" height="11" fill="#777"/>
<rect x="286" y="866" width="684" height="276" rx="6" fill="#1b2a66" opacity=".35" filter="url(#svsh)"/>
<rect x="280" y="852" width="692" height="27" fill="#e1e5dc"/>
<rect x="283" y="877" width="687" height="256" fill="#d9ded5"/>
<rect x="283" y="877" width="687" height="4" fill="#c2c7bf"/>
<rect x="283" y="1122" width="687" height="11" fill="#e7eae2"/>
<rect x="298" y="890" width="137" height="137" fill="#eceee8"/>
<rect x="304" y="895" width="126" height="127" fill="url(#mesh2)"/>
<circle cx="366" cy="959" r="25" fill="#e8ebee"/><circle cx="366" cy="959" r="17" fill="#f4f5f6"/>
<path d="M313 1030H421V1098L330 1110L313 1096Z" fill="#d0d4d2"/>
<rect x="317" y="1040" width="40" height="56" rx="5" fill="#151517"/><rect x="324" y="1050" width="26" height="34" rx="3" fill="#2e2e33"/>
<circle cx="393" cy="1069" r="6" fill="#1e5a34"/>
<circle cx="508" cy="944" r="62" fill="url(#mesh)"/>
<circle cx="508" cy="944" r="62" fill="none" stroke="#d9ded5" stroke-width="5"/>
<circle cx="508" cy="940" r="24" fill="#f1f2f0" opacity=".8"/>
<circle cx="642" cy="944" r="62" fill="url(#mesh)"/>
<circle cx="642" cy="944" r="62" fill="none" stroke="#d9ded5" stroke-width="5"/>
<circle cx="642" cy="940" r="24" fill="#f1f2f0" opacity=".8"/>
<path d="M528 968L546 992M638 986L660 978" stroke="#d22" stroke-width="2" fill="none"/>
<path d="M386 1005L418 1022" stroke="#d22" stroke-width="2" fill="none"/>
<rect x="452" y="1024" width="262" height="86" fill="#c4c9c3"/>
<rect x="470" y="1032" width="240" height="70" fill="#a9afb2"/>
<rect x="470" y="1032" width="240" height="70" fill="none" stroke="#5c6165" stroke-width="2.500"/>
<rect x="481" y="1067" width="25" height="9" rx="2" fill="#1c1c1e"/><rect x="481" y="1086" width="25" height="10" rx="2" fill="#1c1c1e"/>
<rect x="518" y="1049" width="44" height="15" rx="6" fill="#55595e"/><rect x="524" y="1053" width="32" height="7" rx="3" fill="#222"/>
<rect x="518" y="1080" width="44" height="16" rx="6" fill="#2d57b8"/><rect x="524" y="1084" width="32" height="8" rx="3" fill="#4f79d8"/>
<rect x="577" y="1063" width="19" height="15" fill="#3a3d40"/><rect x="577" y="1082" width="19" height="15" fill="#3a3d40"/>
<rect x="615" y="1052" width="21" height="17" fill="#34373a"/><rect x="619" y="1056" width="13" height="9" fill="#b8bcc0"/>
<rect x="615" y="1074" width="21" height="9" fill="#2a63c8"/><rect x="615" y="1087" width="21" height="9" fill="#2a63c8"/>
<rect x="656" y="1052" width="21" height="17" fill="#34373a"/><rect x="660" y="1056" width="13" height="9" fill="#b8bcc0"/>
<rect x="656" y="1074" width="21" height="9" fill="#2a63c8"/><rect x="656" y="1087" width="21" height="9" fill="#2a63c8"/>
<circle cx="695" cy="1067" r="6.500" fill="#2a2b2e"/><circle cx="695" cy="1087" r="6.500" fill="#2a2b2e"/>
<g font-size="5" fill="#333"><text x="537" y="1046" text-anchor="middle">COM</text><text x="540" y="1076" text-anchor="middle">VGA</text><text x="493" y="1064" text-anchor="middle">DP</text><text x="493" y="1083" text-anchor="middle">HDMI</text></g>
<rect x="713" y="928" width="237" height="180" fill="#b7c0c0"/>
<rect x="713" y="928" width="237" height="6" fill="#8d9698"/>
<rect x="719" y="934" width="24" height="170" fill="#d3dad9"/>
<rect x="743" y="934" width="3" height="170" fill="#9aa3a4"/>
<rect x="727" y="948" width="5" height="132" rx="2.500" fill="#e9eeee" stroke="#9aa2a3" stroke-width="1"/>
<path d="M729 955v14m0 9v14m0 9v14m0 9v14m0 9v14" stroke="#1e2022" stroke-width="3" fill="none"/>
<rect x="727" y="1092" width="7" height="9" fill="#f2f4f3"/>
<rect x="749" y="934" width="24" height="170" fill="#d3dad9"/>
<rect x="773" y="934" width="3" height="170" fill="#9aa3a4"/>
<rect x="757" y="948" width="5" height="132" rx="2.500" fill="#e9eeee" stroke="#9aa2a3" stroke-width="1"/>
<path d="M759 955v14m0 9v14m0 9v14m0 9v14m0 9v14" stroke="#1e2022" stroke-width="3" fill="none"/>
<rect x="757" y="1092" width="7" height="9" fill="#f2f4f3"/>
<rect x="779" y="934" width="24" height="170" fill="#d3dad9"/>
<rect x="803" y="934" width="3" height="170" fill="#9aa3a4"/>
<rect x="787" y="948" width="5" height="132" rx="2.500" fill="#e9eeee" stroke="#9aa2a3" stroke-width="1"/>
<path d="M789 955v14m0 9v14m0 9v14m0 9v14m0 9v14" stroke="#1e2022" stroke-width="3" fill="none"/>
<rect x="787" y="1092" width="7" height="9" fill="#f2f4f3"/>
<rect x="809" y="934" width="24" height="170" fill="#d3dad9"/>
<rect x="833" y="934" width="3" height="170" fill="#9aa3a4"/>
<rect x="817" y="948" width="5" height="132" rx="2.500" fill="#e9eeee" stroke="#9aa2a3" stroke-width="1"/>
<path d="M819 955v14m0 9v14m0 9v14m0 9v14m0 9v14" stroke="#1e2022" stroke-width="3" fill="none"/>
<rect x="817" y="1092" width="7" height="9" fill="#f2f4f3"/>
<rect x="839" y="934" width="24" height="170" fill="#d3dad9"/>
<rect x="863" y="934" width="3" height="170" fill="#9aa3a4"/>
<rect x="847" y="948" width="5" height="132" rx="2.500" fill="#e9eeee" stroke="#9aa2a3" stroke-width="1"/>
<path d="M849 955v14m0 9v14m0 9v14m0 9v14m0 9v14" stroke="#1e2022" stroke-width="3" fill="none"/>
<rect x="847" y="1092" width="7" height="9" fill="#f2f4f3"/>
<rect x="869" y="934" width="24" height="170" fill="#d3dad9"/>
<rect x="893" y="934" width="3" height="170" fill="#9aa3a4"/>
<rect x="877" y="948" width="5" height="132" rx="2.500" fill="#e9eeee" stroke="#9aa2a3" stroke-width="1"/>
<path d="M879 955v14m0 9v14m0 9v14m0 9v14m0 9v14" stroke="#1e2022" stroke-width="3" fill="none"/>
<rect x="877" y="1092" width="7" height="9" fill="#f2f4f3"/>
<rect x="899" y="934" width="24" height="170" fill="#d3dad9"/>
<rect x="923" y="934" width="3" height="170" fill="#9aa3a4"/>
<rect x="907" y="948" width="5" height="132" rx="2.500" fill="#e9eeee" stroke="#9aa2a3" stroke-width="1"/>
<path d="M909 955v14m0 9v14m0 9v14m0 9v14m0 9v14" stroke="#1e2022" stroke-width="3" fill="none"/>
<rect x="907" y="1092" width="7" height="9" fill="#f2f4f3"/>
<rect x="929" y="934" width="19" height="170" fill="#c4cccc"/>
<circle cx="724.0" cy="908" r="3" fill="#1d1e20"/>
<circle cx="733.7" cy="908" r="3" fill="#1d1e20"/>
<circle cx="743.4" cy="908" r="3" fill="#1d1e20"/>
<circle cx="753.1" cy="908" r="3" fill="#1d1e20"/>
<circle cx="762.8" cy="908" r="3" fill="#1d1e20"/>
<circle cx="772.5" cy="908" r="3" fill="#1d1e20"/>
<circle cx="782.2" cy="908" r="3" fill="#1d1e20"/>
<circle cx="791.9" cy="908" r="3" fill="#1d1e20"/>
<circle cx="801.6" cy="908" r="3" fill="#1d1e20"/>
<circle cx="811.3" cy="908" r="3" fill="#1d1e20"/>
<circle cx="821.0" cy="908" r="3" fill="#1d1e20"/>
<circle cx="830.7" cy="908" r="3" fill="#1d1e20"/>
<circle cx="840.4" cy="908" r="3" fill="#1d1e20"/>
<circle cx="850.1" cy="908" r="3" fill="#1d1e20"/>
<circle cx="859.8" cy="908" r="3" fill="#1d1e20"/>
<circle cx="869.5" cy="908" r="3" fill="#1d1e20"/>
<circle cx="879.2" cy="908" r="3" fill="#1d1e20"/>
<circle cx="888.9" cy="908" r="3" fill="#1d1e20"/>
<circle cx="898.6" cy="908" r="3" fill="#1d1e20"/>
<circle cx="908.3" cy="908" r="3" fill="#1d1e20"/>
<circle cx="918.0" cy="908" r="3" fill="#1d1e20"/>
<circle cx="927.7" cy="908" r="3" fill="#1d1e20"/>
<circle cx="937.4" cy="908" r="3" fill="#1d1e20"/>
<circle cx="947.1" cy="908" r="3" fill="#1d1e20"/>
<rect x="733" y="885" width="14" height="4" fill="#222"/><rect x="806" y="885" width="14" height="4" fill="#222"/><rect x="895" y="885" width="14" height="4" fill="#222"/>
<circle cx="778" cy="887" r="3.500" fill="#222"/><circle cx="850" cy="887" r="3.500" fill="#222"/>
<circle cx="361" cy="860" r="4" fill="#eef0ec" stroke="#8f958e" stroke-width="1.200"/>
<circle cx="890" cy="860" r="4" fill="#eef0ec" stroke="#8f958e" stroke-width="1.200"/>
<circle cx="320" cy="884" r="4" fill="#eef0ec" stroke="#8f958e" stroke-width="1.200"/>
<circle cx="424" cy="884" r="4" fill="#eef0ec" stroke="#8f958e" stroke-width="1.200"/>
<circle cx="452" cy="884" r="4" fill="#eef0ec" stroke="#8f958e" stroke-width="1.200"/>
<circle cx="565" cy="886" r="4" fill="#eef0ec" stroke="#8f958e" stroke-width="1.200"/>
<circle cx="586" cy="886" r="4" fill="#eef0ec" stroke="#8f958e" stroke-width="1.200"/>
<circle cx="698" cy="886" r="4" fill="#eef0ec" stroke="#8f958e" stroke-width="1.200"/>
<circle cx="452" cy="1002" r="4" fill="#eef0ec" stroke="#8f958e" stroke-width="1.200"/>
<circle cx="586" cy="1002" r="4" fill="#eef0ec" stroke="#8f958e" stroke-width="1.200"/>
<circle cx="698" cy="1002" r="4" fill="#eef0ec" stroke="#8f958e" stroke-width="1.200"/>
<circle cx="304" cy="1070" r="4" fill="#eef0ec" stroke="#8f958e" stroke-width="1.200"/>
<circle cx="424" cy="1106" r="4" fill="#eef0ec" stroke="#8f958e" stroke-width="1.200"/>
<circle cx="470" cy="1117" r="4" fill="#eef0ec" stroke="#8f958e" stroke-width="1.200"/>
<circle cx="625" cy="1117" r="4" fill="#eef0ec" stroke="#8f958e" stroke-width="1.200"/>
<circle cx="778" cy="1117" r="4" fill="#eef0ec" stroke="#8f958e" stroke-width="1.200"/>
<circle cx="934" cy="1117" r="4" fill="#eef0ec" stroke="#8f958e" stroke-width="1.200"/>
<circle cx="956" cy="1119" r="4" fill="#eef0ec" stroke="#8f958e" stroke-width="1.200"/>
<circle cx="733" cy="922" r="4" fill="#eef0ec" stroke="#8f958e" stroke-width="1.200"/>
<circle cx="934" cy="922" r="4" fill="#eef0ec" stroke="#8f958e" stroke-width="1.200"/>
<circle cx="470" cy="1017" r="4" fill="#eef0ec" stroke="#8f958e" stroke-width="1.200"/>
<circle cx="636" cy="1017" r="4" fill="#eef0ec" stroke="#8f958e" stroke-width="1.200"/>
</svg>
<!-- p_dash -->
<div class="abs" id="dash"><div class="abs" id="dashin">
<div class="abs" style="left:1497px;top:1040px;width:2069px;height:190px;background:radial-gradient(ellipse 48% 100% at 50% 100%,rgba(22,72,175,.6),rgba(24,60,150,.32) 50%,rgba(23,35,80,0) 100%)"></div>
<div class="abs pnl" style="left:1534px;top:171px;width:662px;height:549px"><i class="c1"></i><i class="c2"></i><i class="c3"></i><i class="c4"></i></div>
<div class="abs pnl" style="left:2212px;top:171px;width:639px;height:549px"><i class="c1"></i><i class="c2"></i><i class="c3"></i><i class="c4"></i></div>
<div class="abs pnl" style="left:2867px;top:171px;width:662px;height:549px"><i class="c1"></i><i class="c2"></i><i class="c3"></i><i class="c4"></i></div>
<div class="abs pnl" style="left:1536px;top:741px;width:985px;height:453px"><i class="c1"></i><i class="c2"></i><i class="c3"></i><i class="c4"></i></div>
<div class="abs pnl" style="left:2542px;top:741px;width:985px;height:453px"><i class="c1"></i><i class="c2"></i><i class="c3"></i><i class="c4"></i></div>
<svg width="3720" height="3646" viewBox="0 0 3720 3646">
<defs>
<linearGradient id="bn" x1="0" y1="0" x2="0" y2="1"><stop offset="0" stop-color="#2a3596"/><stop offset=".8" stop-color="#3646b4"/><stop offset="1" stop-color="#4b6be6"/></linearGradient>
<linearGradient id="ar" x1="0" y1="500" x2="0" y2="650" gradientUnits="userSpaceOnUse"><stop offset="0" stop-color="#25b4d6"/><stop offset="1" stop-color="#2592c4"/></linearGradient>
<linearGradient id="gg" x1="0" y1="0" x2="1" y2="0"><stop offset="0" stop-color="#41c8ee"/><stop offset=".5" stop-color="#4f8fdc"/><stop offset="1" stop-color="#8a4fc0"/></linearGradient>
<radialGradient id="orb" cx=".5" cy=".45" r=".55"><stop offset="0" stop-color="#223a96"/><stop offset=".7" stop-color="#243e9e"/><stop offset="1" stop-color="#2c52c0"/></radialGradient>
</defs>
<path d="M1722.5 171H2008L1983 216H1747.5Z" fill="url(#bn)"/>
<path d="M2389 171H2675L2650 216H2414Z" fill="url(#bn)"/>
<path d="M1887 741H2171L2147 785H1911Z" fill="url(#bn)"/>
<path d="M2893 741H3178L3154 785H2917Z" fill="url(#bn)"/>
<g stroke="#1f5fb4" stroke-width="1" fill="none" opacity=".55">
<path d="M1536 626 A180 120 0 0 1 1698 720"/>
<path d="M1536 588 A240 160 0 0 1 1752 720"/>
<path d="M1536 550 A300 200 0 0 1 1806 720"/>
<path d="M1536 512 A360 240 0 0 1 1860 720"/>
<path d="M1536 469 A427 285 0 0 1 1920 720"/>
<path d="M1536 720 L1861 663"/>
<path d="M1536 720 L1844 602"/>
<path d="M1536 720 L1816 545"/>
<path d="M1536 720 L1777 495"/>
<path d="M1536 720 L1730 453"/>
<path d="M1536 720 L1675 421"/>
<path d="M1536 720 L1616 400"/>
</g>
<g stroke="#2a4a9a" stroke-width="1" fill="none" opacity=".5"><path d="M1755 350L1800 420L1740 385L1790 300L1870 470L1960 430L2010 330L1930 300L1980 380L1900 420L1830 460L1880 520L1960 500L2005 455"/></g>
<g fill="none">
<circle cx="1867" cy="347" r="72" stroke="#1b6fc4" stroke-width="1.500" opacity=".8"/>
<circle cx="1867" cy="347" r="58" stroke="#2a34a4" stroke-width="15" stroke-dasharray="11 3.500"/>
<path d="M1809.0 315.0 A66 66 0 0 1 1913.0 299.0" stroke="#a9b6ee" stroke-width="5"/>
<path d="M1889.0 409.0 A66 66 0 0 1 1807.0 374.0" stroke="#a9b6ee" stroke-width="5"/>
<path d="M1933.0 339.0 A66 66 0 0 1 1929.0 371.0" stroke="#a9b6ee" stroke-width="4"/>
<circle cx="1867" cy="347" r="40" stroke="#1d9fd8" stroke-width="4" stroke-dasharray="14 5"/>
<circle cx="1867" cy="347" r="34" stroke="#1a2b6e" stroke-width="6"/>
<circle cx="1867" cy="347" r="21" stroke="#25b9ea" stroke-width="10"/>
<circle cx="1867" cy="347" r="12" stroke="#1d7fc8" stroke-width="1.500"/>
<path d="M1808 270L1858 246L1862 275L1820 296Z" stroke="#1d8fd6" stroke-width="1.500"/>
<path d="M1954 322L1970 318L1974 362L1960 366Z" stroke="#1d8fd6" stroke-width="1.500"/>
<path d="M1775 400L1792 392L1818 436L1806 446Z" stroke="#1d8fd6" stroke-width="1.500"/>
<path d="M1787 320Q1778 345 1784 372" stroke="#1d6fb8" stroke-width="6" opacity=".8"/>
<path d="M1962 370Q1960 385 1954 398" stroke="#1d6fb8" stroke-width="5" opacity=".8"/>
<path d="M1634 290H1785L1807 304" stroke="#23a8e6" stroke-width="1.500"/>
<path d="M2080 266H1932L1908 280" stroke="#23a8e6" stroke-width="1.500"/>
<path d="M1642 416H1762L1784 403" stroke="#1f7fc8" stroke-width="1.500"/>
<path d="M2073 429H1936L1912 413" stroke="#23a8e6" stroke-width="1.500"/>
</g>
<path d="M1641 272h7l2 3h11v13h-20z" fill="#23a8e6"/>
<rect x="2022" y="246" width="18" height="14" fill="none" stroke="#8ad4f6" stroke-width="2"/><circle cx="2028" cy="254" r="3" fill="#8ad4f6"/>
<rect x="1644" y="422" width="16" height="13" fill="#23a8e6"/><path d="M1650 425v7l6-3.500z" fill="#16224e"/>
<path d="M2022 408h7v14h-7zM2031 408h7v14h-7z" fill="none" stroke="#8ad4f6" stroke-width="1.800"/>
<path d="M3106.5 330.5A64.5 64.5 0 0 1 3171.0 266.0L3171.0 291.5A39 39 0 0 0 3132.0 330.5Z" fill="#4fbf8b"/>
<path d="M3171.0 266.0A64.5 64.5 0 0 1 3218.2 286.5L3199.5 303.9A39 39 0 0 0 3171.0 291.5Z" fill="#5b9bd5"/>
<path d="M3218.2 286.5A64.5 64.5 0 0 1 3222.5 369.3L3202.1 354.0A39 39 0 0 0 3199.5 303.9Z" fill="#45c3e6"/>
<path d="M3222.5 369.3A64.5 64.5 0 0 1 3126.2 376.9L3143.9 358.6A39 39 0 0 0 3202.1 354.0Z" fill="#5d6bc4"/>
<path d="M3126.2 376.9A64.5 64.5 0 0 1 3106.5 330.5L3132.0 330.5A39 39 0 0 0 3143.9 358.6Z" fill="#9b7cc2"/>
<g fill="none" stroke-width="1.500">
<path d="M3024 265.500H3114L3127 280" stroke="#2f8f8a"/>
<path d="M3317 258H3227L3208 274" stroke="#3b5fb8"/>
<path d="M3347 316.500H3255L3237 333" stroke="#2a86c8"/>
<path d="M3007 381H3098L3114 367" stroke="#5a4aa0"/>
<path d="M3308 407.500H3213L3198 390" stroke="#3b48a8"/>
</g>
<rect x="3427" y="284.5" width="13" height="13" fill="#4fbf8b"/>
<rect x="3427" y="303.5" width="13" height="13" fill="#5b9bd5"/>
<rect x="3427" y="322.0" width="13" height="13" fill="#5d6bc4"/>
<rect x="3427" y="340.5" width="13" height="13" fill="#45c3e6"/>
<rect x="3427" y="360.0" width="13" height="13" fill="#9b7cc2"/>
<g stroke="#2a3a8a" stroke-width="1.200">
<path d="M2925 494.7H3499"/>
<path d="M2925 533.4H3499"/>
<path d="M2925 572.0H3499"/>
<path d="M2925 610.4H3499"/>
<path d="M2925 648.8H3499"/>
<path d="M2925 473V649"/>
</g>
<path d="M2948.3 648.800L2948.3 552.2L3036.7 587.4L3126.7 563.1L3214.7 591.3L3304.2 507.2L3389.5 558.0L3481.4 522.8L3481.4 648.800Z" fill="url(#ar)"/>
<circle cx="3126.700" cy="563" r="4.500" fill="#2aa6e8"/>
<rect x="3071" y="500" width="111" height="50" rx="3" fill="#3a3fa4"/><path d="M3120 550l6.500 7l6.500-7z" fill="#3a3fa4"/>
<path d="M3482 449h18M3482 455.500h18M3482 462h18" stroke="#3ac4e8" stroke-width="2.500"/>
<g stroke="#4a5494" stroke-width="1" fill="none" opacity=".7"><path d="M3455 435L3541 443L3566 428M3541 443L3478 485L3412 485M3478 485L3482 533L3520 555L3566 555M3482 533L3430 543L3407 580M3430 543L3442 622L3468 578M3442 622L3515 620L3566 608M3515 620L3558 674M3442 622L3482 688L3366 702L3385 760M3482 688L3520 600"/></g>
<g fill="#5a5f98" opacity=".8">
<circle cx="3455" cy="435" r="4.500"/>
<circle cx="3541" cy="443" r="4.500"/>
<circle cx="3478" cy="485" r="4.500"/>
<circle cx="3412" cy="485" r="4.500"/>
<circle cx="3482" cy="533" r="4.500"/>
<circle cx="3520" cy="555" r="4.500"/>
<circle cx="3430" cy="543" r="4.500"/>
<circle cx="3407" cy="580" r="4.500"/>
<circle cx="3468" cy="578" r="4.500"/>
<circle cx="3442" cy="622" r="4.500"/>
<circle cx="3515" cy="620" r="4.500"/>
<circle cx="3558" cy="674" r="4.500"/>
<circle cx="3482" cy="688" r="4.500"/>
<circle cx="3366" cy="702" r="4.500"/>
</g>
<g stroke="#3e4a8c" stroke-width="1" fill="none" opacity=".8"><path d="M3264 800L3238 868L3315 890L3340 850L3264 800L3315 810L3315 890M3315 810L3340 850M3366 702L3385 760M3322 765L3315 810"/></g>
<g fill="#4a5090" opacity=".8">
<circle cx="3264" cy="800" r="4"/>
<circle cx="3238" cy="868" r="4"/>
<circle cx="3315" cy="890" r="4"/>
<circle cx="3340" cy="850" r="4"/>
<circle cx="3315" cy="810" r="4"/>
<circle cx="3322" cy="765" r="4"/>
<circle cx="3450" cy="835" r="4"/>
<circle cx="3469" cy="858" r="4"/>
<circle cx="3362" cy="922" r="4"/>
</g>
<path d="M1801.4 1050.0A71 71 0 0 1 1943.4 1050.0" fill="none" stroke="url(#gg)" stroke-width="10" stroke-linecap="round"/>
<path d="M1843.4 1042H1901.4" stroke="#8a94c8" stroke-width="1.200"/>
<path d="M2290.0 1050.0A71 71 0 0 1 2432.0 1050.0" fill="none" stroke="url(#gg)" stroke-width="10" stroke-linecap="round"/>
<path d="M2332.0 1042H2390.0" stroke="#8a94c8" stroke-width="1.200"/>
<circle cx="2876.8" cy="1035" r="64" fill="url(#orb)" stroke="#3560d0" stroke-width="1.500"/>
<path d="M2847.8 1041H2905.8" stroke="#8a94c8" stroke-width="1.500"/>
<circle cx="3361.0" cy="1035" r="64" fill="url(#orb)" stroke="#3560d0" stroke-width="1.500"/>
<path d="M3332.0 1041H3390.0" stroke="#8a94c8" stroke-width="1.500"/>
</svg>
<div class="t" style="left:1865.0px;transform:translateX(-50%);top:183.0px;font-size:20px;color:#fff;font-weight:700;">智慧课堂使用实时动态</div>
<div class="t" style="left:2532.0px;transform:translateX(-50%);top:183.0px;font-size:20px;color:#fff;font-weight:700;"><span class="bars"></span> 数据总览 <span class="q">?</span></div>
<div class="t" style="left:2028.0px;transform:translateX(-50%);top:753.0px;font-size:20px;color:#fff;font-weight:700;"><span class="fl">♨</span> 班级活跃情况 <span class="q">?</span></div>
<div class="t" style="left:3035.0px;transform:translateX(-50%);top:753.0px;font-size:20px;color:#fff;font-weight:700;"><span class="fl">♨</span> 教师活跃情况 <span class="q">?</span></div>
<div class="t" style="left:2497.0px;transform:translateX(-100%);top:758.0px;font-size:18px;color:#3aa2ea;font-weight:700;">查看全部班级 <span style="font-weight:400">&gt;</span></div>
<div class="t" style="left:3503.0px;transform:translateX(-100%);top:758.0px;font-size:18px;color:#3aa2ea;font-weight:700;">查看全部班级 <span style="font-weight:400">&gt;</span></div>
<div class="t" style="left:1663.0px;top:270.0px;font-size:14px;color:#23a8e6;font-weight:400;">资源</div>
<div class="t" style="left:2046.0px;top:246.0px;font-size:14px;color:#8ad4f6;font-weight:400;">授课</div>
<div class="t" style="left:1665.0px;top:423.0px;font-size:14px;color:#23a8e6;font-weight:400;">微课</div>
<div class="t" style="left:2042.0px;top:409.0px;font-size:14px;color:#8ad4f6;font-weight:400;">作业</div>
<div class="abs msg" style="left:1861px;top:458px;width:285px;height:30px;line-height:28px;color:#ffffff;background:#1f469c">15:24 王小二同学提交了一份语文作业</div>
<div class="abs msg" style="left:1578px;top:497px;width:274px;height:30px;line-height:28px;color:#39b8ee;background:#1d3a8a">15:22 小畅老师正在七年级三班授课</div>
<div class="abs msg" style="left:1796px;top:542px;width:255px;height:30px;line-height:28px;color:#39b8ee;background:#1d3a8a">15:19 谢一一老师分享了一份资源</div>
<div class="abs msg" style="left:1547px;top:583px;width:285px;height:30.5px;line-height:28.5px;color:#f2c43a;background:#1d3a8a">14:46 胖格格老师布置了一份语文作业</div>
<div class="abs msg" style="left:1907.5px;top:625px;width:285.5px;height:30px;line-height:28px;color:#f2c43a;background:#1d3a8a">14:46 胖格格老师布置了一份语文作业</div>
<div class="abs msg" style="left:1709px;top:667px;width:256px;height:30px;line-height:28px;color:#39b8ee;background:#1d3a8a">14:19 谢一一老师分享了一份资源</div>
<div class="abs tabs" style="left:2229px;top:233.5px;width:286.5px;height:28px">
<span class="on" style="width:71.625px;line-height:25px">全部</span>
<span class="" style="width:71.625px;line-height:25px">近一周</span>
<span class="" style="width:71.625px;line-height:25px">近一月</span>
<span class="" style="width:71.625px;line-height:25px">自定义</span>
</div>
<div class="abs dd" style="left:2621px;top:233.5px;width:101px;height:28px;line-height:25px">全部年级 <b></b></div>
<div class="abs dd" style="left:2730px;top:233.5px;width:101px;height:28px;line-height:25px">全部学科 <b></b></div>
<div class="abs sb" style="left:2229px;top:274.5px;width:292.500px;height:97px"><div class="num">10</div><div class="lab">班级总数</div></div>
<div class="abs sb act" style="left:2542.500px;top:274.5px;width:288.500px;height:97px"><div class="num">434</div><div class="lab">布置作业数 <em>查看明细 &gt;</em></div></div>
<div class="abs sb" style="left:2229px;top:380px;width:292.500px;height:98px"><div class="num">6869 / 4999</div><div class="lab">活跃教师数/教师总数</div></div>
<div class="abs sb" style="left:2542.500px;top:380px;width:288.500px;height:98px"><div class="num">634</div><div class="lab">授课次数 <em>查看明细 &gt;</em></div></div>
<div class="abs sb" style="left:2229px;top:487px;width:292.500px;height:96.5px"><div class="num">6869 / 4999</div><div class="lab">活跃学生数/学生总数</div></div>
<div class="abs sb" style="left:2542.500px;top:487px;width:288.500px;height:96.5px"><div class="num">757</div><div class="lab">分享微课数 <em>查看明细 &gt;</em></div></div>
<div class="abs sb" style="left:2229px;top:592px;width:292.500px;height:98px"><div class="num">4244</div><div class="lab">活跃用户数</div></div>
<div class="abs sb" style="left:2542.500px;top:592px;width:288.500px;height:98px"><div class="num">655</div><div class="lab">分享资源数 <em>查看明细 &gt;</em></div></div>
<div class="abs" style="left:2831px;top:316px;width:0;height:0;border:6px solid transparent;border-left:7px solid #5aa0e8"></div>
<div class="t" style="left:3199.0px;transform:translateX(-50%);top:196.5px;font-size:14px;color:#e8ecff;font-weight:400;">作业类型占比</div>
<div class="t" style="left:3024.0px;top:247.5px;font-size:13px;color:#3fbf9a;font-weight:400;">同步题库12.0%</div>
<div class="t" style="left:3232.0px;top:240.5px;font-size:13px;color:#5b8fe0;font-weight:400;">阶段检测6.8%</div>
<div class="t" style="left:3261.0px;top:298.5px;font-size:13px;color:#3ab4e6;font-weight:400;">同步校辅6.8%</div>
<div class="t" style="left:3007.0px;top:388.0px;font-size:13px;color:#8a68c8;font-weight:400;">口语评测 58.6%</div>
<div class="t" style="left:3214.0px;top:414.0px;font-size:13px;color:#4a5cc0;font-weight:400;">日常作业 22.6%</div>
<div class="t" style="left:3447.0px;top:285.5px;font-size:11px;color:#dfe6ff;font-weight:400;">同步题库</div>
<div class="t" style="left:3447.0px;top:304.5px;font-size:11px;color:#dfe6ff;font-weight:400;">阶段检测</div>
<div class="t" style="left:3447.0px;top:323.0px;font-size:11px;color:#dfe6ff;font-weight:400;">日常作业</div>
<div class="t" style="left:3447.0px;top:341.5px;font-size:11px;color:#dfe6ff;font-weight:400;">同步校辅</div>
<div class="t" style="left:3447.0px;top:361.0px;font-size:11px;color:#dfe6ff;font-weight:400;">口语评测</div>
<div class="t" style="left:3193.0px;transform:translateX(-50%);top:448.5px;font-size:14px;color:#e8ecff;font-weight:400;">布置作业数</div>
<div class="t" style="left:2917.0px;transform:translateX(-100%);top:488.7px;font-size:12px;color:#a8b4e8;font-weight:400;">20</div>
<div class="t" style="left:2917.0px;transform:translateX(-100%);top:527.4px;font-size:12px;color:#a8b4e8;font-weight:400;">15</div>
<div class="t" style="left:2917.0px;transform:translateX(-100%);top:566.0px;font-size:12px;color:#a8b4e8;font-weight:400;">10</div>
<div class="t" style="left:2917.0px;transform:translateX(-100%);top:604.4px;font-size:12px;color:#a8b4e8;font-weight:400;">5</div>
<div class="t" style="left:2917.0px;transform:translateX(-100%);top:642.8px;font-size:12px;color:#a8b4e8;font-weight:400;">0</div>
<div class="t" style="left:2954.3px;top:664px;font-size:11px;color:#7f9cf0;transform:translateX(-100%) rotate(-33deg);transform-origin:100% 50%">2017-10-27</div>
<div class="t" style="left:3042.7px;top:664px;font-size:11px;color:#7f9cf0;transform:translateX(-100%) rotate(-33deg);transform-origin:100% 50%">2017-10-27</div>
<div class="t" style="left:3132.7px;top:664px;font-size:11px;color:#7f9cf0;transform:translateX(-100%) rotate(-33deg);transform-origin:100% 50%">2017-10-27</div>
<div class="t" style="left:3220.7px;top:664px;font-size:11px;color:#7f9cf0;transform:translateX(-100%) rotate(-33deg);transform-origin:100% 50%">2017-10-27</div>
<div class="t" style="left:3310.2px;top:664px;font-size:11px;color:#7f9cf0;transform:translateX(-100%) rotate(-33deg);transform-origin:100% 50%">2017-10-27</div>
<div class="t" style="left:3395.5px;top:664px;font-size:11px;color:#7f9cf0;transform:translateX(-100%) rotate(-33deg);transform-origin:100% 50%">2017-10-27</div>
<div class="t" style="left:3487.4px;top:664px;font-size:11px;color:#7f9cf0;transform:translateX(-100%) rotate(-33deg);transform-origin:100% 50%">2017-10-27</div>
<div class="t" style="left:3126.5px;transform:translateX(-50%);top:510.0px;font-size:12px;color:#fff;font-weight:700;">2017-10-31</div>
<div class="t" style="left:3126.5px;transform:translateX(-50%);top:528.0px;font-size:12px;color:#fff;font-weight:700;">布置作业数量16</div>
<div class="abs tabs" style="left:1556px;top:804.5px;width:288px;height:30px">
<span class="on" style="width:72px;line-height:27px">全部</span>
<span class="" style="width:72px;line-height:27px">近一周</span>
<span class="" style="width:72px;line-height:27px">近一月</span>
<span class="" style="width:72px;line-height:27px">自定义</span>
</div>
<div class="abs dd" style="left:2394px;top:804.5px;width:102px;height:30px;line-height:27px">全部年级 <b></b></div>
<div class="abs tb2 on" style="left:1556.7px;top:844.500px;width:125.1px;height:30.500px;line-height:28px">布置作业数</div>
<div class="abs tb2 " style="left:1686px;top:844.500px;width:124px;height:30.500px;line-height:28px">授课次数</div>
<div class="abs tb2 " style="left:1814.6px;top:844.500px;width:124.4px;height:30.500px;line-height:28px">录制微课数</div>
<div class="abs tb2 " style="left:1943.5px;top:844.500px;width:124px;height:30.500px;line-height:28px">上传资源数</div>
<div class="abs" style="left:1556px;top:875px;width:942px;height:1.500px;background:#2d3a96"></div>
<div class="abs tabs" style="left:2562.5px;top:804.5px;width:288px;height:30px">
<span class="on" style="width:72px;line-height:27px">全部</span>
<span class="" style="width:72px;line-height:27px">近一周</span>
<span class="" style="width:72px;line-height:27px">近一月</span>
<span class="" style="width:72px;line-height:27px">自定义</span>
</div>
<div class="abs dd" style="left:3401px;top:804.5px;width:102px;height:30px;line-height:27px">全部年级 <b></b></div>
<div class="abs tb2 on" style="left:2563.2px;top:844.500px;width:125.1px;height:30.500px;line-height:28px">布置作业数</div>
<div class="abs tb2 " style="left:2692.5px;top:844.500px;width:124px;height:30.500px;line-height:28px">授课次数</div>
<div class="abs tb2 " style="left:2821.1px;top:844.500px;width:124.4px;height:30.500px;line-height:28px">录制微课数</div>
<div class="abs tb2 " style="left:2950px;top:844.500px;width:124px;height:30.500px;line-height:28px">上传资源数</div>
<div class="abs" style="left:2562.5px;top:875px;width:942px;height:1.500px;background:#2d3a96"></div>
<div class="abs bdg" style="left:1780px;top:893.500px;width:76px;height:26.500px;line-height:24px">前五名</div>
<div class="abs bdg" style="left:2268px;top:893.500px;width:76px;height:26.500px;line-height:24px">后五名</div>
<div class="abs bdg" style="left:2782px;top:893.500px;width:75px;height:26.500px;line-height:24px">前五名</div>
<div class="abs bdg" style="left:3267px;top:893.500px;width:74px;height:26.500px;line-height:24px">后五名</div>
<div class="abs li on" style="left:1560.6px;top:935px;width:156px;height:40px;line-height:38px"><b>1</b><span>翟天临</span></div>
<div class="abs li" style="left:1560.6px;top:979.6px;width:144px;height:40.4px;line-height:37.4px"><b style="color:#f2c43a">2</b><span>孙俪</span></div>
<div class="abs li" style="left:1560.6px;top:1025px;width:144px;height:40px;line-height:37px"><b style="color:#f2c43a">3</b><span>陈柏霖</span></div>
<div class="abs li" style="left:1560.6px;top:1070.7px;width:144px;height:40px;line-height:37px"><b style="color:#fff">4</b><span>徐静蕾</span></div>
<div class="abs li" style="left:1560.6px;top:1115.7px;width:144px;height:40.1px;line-height:37.1px"><b style="color:#fff">5</b><span>韩寒</span></div>
<div class="abs li on" style="left:2048.6px;top:935px;width:156px;height:40px;line-height:38px"><b>1</b><span>翟天临</span></div>
<div class="abs li" style="left:2048.6px;top:979.6px;width:144px;height:40.4px;line-height:37.4px"><b style="color:#f2c43a">2</b><span>孙俪</span></div>
<div class="abs li" style="left:2048.6px;top:1025px;width:144px;height:40px;line-height:37px"><b style="color:#f2c43a">3</b><span>陈柏霖</span></div>
<div class="abs li" style="left:2048.6px;top:1070.7px;width:144px;height:40px;line-height:37px"><b style="color:#fff">4</b><span>徐静蕾</span></div>
<div class="abs li" style="left:2048.6px;top:1115.7px;width:144px;height:40.1px;line-height:37.1px"><b style="color:#fff">5</b><span>韩寒</span></div>
<div class="abs li on" style="left:2562.8px;top:935px;width:156px;height:40px;line-height:38px"><b>1</b><span>翟天临</span></div>
<div class="abs li" style="left:2562.8px;top:979.6px;width:144px;height:40.4px;line-height:37.4px"><b style="color:#f2c43a">2</b><span>孙俪</span></div>
<div class="abs li" style="left:2562.8px;top:1025px;width:144px;height:40px;line-height:37px"><b style="color:#f2c43a">3</b><span>陈柏霖</span></div>
<div class="abs li" style="left:2562.8px;top:1070.7px;width:144px;height:40px;line-height:37px"><b style="color:#fff">4</b><span>徐静蕾</span></div>
<div class="abs li" style="left:2562.8px;top:1115.7px;width:144px;height:40.1px;line-height:37.1px"><b style="color:#fff">5</b><span>韩寒</span></div>
<div class="abs li on" style="left:3046px;top:935px;width:156px;height:40px;line-height:38px"><b>1</b><span>翟天临</span></div>
<div class="abs li" style="left:3046px;top:979.6px;width:144px;height:40.4px;line-height:37.4px"><b style="color:#f2c43a">2</b><span>孙俪</span></div>
<div class="abs li" style="left:3046px;top:1025px;width:144px;height:40px;line-height:37px"><b style="color:#f2c43a">3</b><span>陈柏霖</span></div>
<div class="abs li" style="left:3046px;top:1070.7px;width:144px;height:40px;line-height:37px"><b style="color:#fff">4</b><span>徐静蕾</span></div>
<div class="abs li" style="left:3046px;top:1115.7px;width:144px;height:40.1px;line-height:37.1px"><b style="color:#fff">5</b><span>韩寒</span></div>
<div class="t" style="left:1872.4px;transform:translateX(-50%);top:1005.5px;font-size:37px;color:#f5d020;font-weight:700;">94</div>
<div class="t" style="left:1872.4px;transform:translateX(-50%);top:1050.5px;font-size:11px;color:#a8b4e8;font-weight:400;">分</div>
<div class="t" style="left:1761.0px;transform:translateX(-50%);top:1093.5px;font-size:14px;color:#f2c43a;font-weight:700;">340</div>
<div class="t" style="left:1761.0px;transform:translateX(-50%);top:1114.5px;font-size:13px;color:#8fb4ee;font-weight:400;">客观题数</div>
<div class="t" style="left:1834.6px;transform:translateX(-50%);top:1093.5px;font-size:14px;color:#f2c43a;font-weight:700;">100</div>
<div class="t" style="left:1834.6px;transform:translateX(-50%);top:1114.5px;font-size:13px;color:#8fb4ee;font-weight:400;">主观题数</div>
<div class="t" style="left:1909.0px;transform:translateX(-50%);top:1093.5px;font-size:14px;color:#f2c43a;font-weight:700;">90%</div>
<div class="t" style="left:1909.0px;transform:translateX(-50%);top:1114.5px;font-size:13px;color:#8fb4ee;font-weight:400;">作业提交率</div>
<div class="t" style="left:1989.7px;transform:translateX(-50%);top:1093.5px;font-size:14px;color:#f2c43a;font-weight:700;">97%</div>
<div class="t" style="left:1989.7px;transform:translateX(-50%);top:1114.5px;font-size:13px;color:#8fb4ee;font-weight:400;">作业批改率</div>
<div class="t" style="left:2361.0px;transform:translateX(-50%);top:1005.5px;font-size:37px;color:#f5d020;font-weight:700;">94</div>
<div class="t" style="left:2361.0px;transform:translateX(-50%);top:1050.5px;font-size:11px;color:#a8b4e8;font-weight:400;">分</div>
<div class="t" style="left:2249.8px;transform:translateX(-50%);top:1093.5px;font-size:14px;color:#f2c43a;font-weight:700;">340</div>
<div class="t" style="left:2249.8px;transform:translateX(-50%);top:1114.5px;font-size:13px;color:#8fb4ee;font-weight:400;">客观题数</div>
<div class="t" style="left:2323.0px;transform:translateX(-50%);top:1093.5px;font-size:14px;color:#f2c43a;font-weight:700;">100</div>
<div class="t" style="left:2323.0px;transform:translateX(-50%);top:1114.5px;font-size:13px;color:#8fb4ee;font-weight:400;">主观题数</div>
<div class="t" style="left:2397.6px;transform:translateX(-50%);top:1093.5px;font-size:14px;color:#f2c43a;font-weight:700;">90%</div>
<div class="t" style="left:2397.6px;transform:translateX(-50%);top:1114.5px;font-size:13px;color:#8fb4ee;font-weight:400;">作业提交率</div>
<div class="t" style="left:2478.8px;transform:translateX(-50%);top:1093.5px;font-size:14px;color:#f2c43a;font-weight:700;">97%</div>
<div class="t" style="left:2478.8px;transform:translateX(-50%);top:1114.5px;font-size:13px;color:#8fb4ee;font-weight:400;">作业批改率</div>
<div class="t" style="left:2876.8px;transform:translateX(-50%);top:999.5px;font-size:37px;color:#f5d020;font-weight:700;">94</div>
<div class="t" style="left:2876.8px;transform:translateX(-50%);top:1054.5px;font-size:11px;color:#a8b4e8;font-weight:400;">分</div>
<div class="abs pl" style="left:2745px;top:978px;width:115px;height:26px;line-height:24px"><b>340</b> 客观题数</div>
<div class="abs pl" style="left:2907px;top:989px;width:113px;height:26.7px;line-height:24.7px"><b>100</b> 主观题数</div>
<div class="abs pl" style="left:2725px;top:1083.5px;width:125px;height:26.1px;line-height:24.1px"><b>90%</b> 作业提交率</div>
<div class="abs pl" style="left:2894.6px;top:1088px;width:123.4px;height:26.6px;line-height:24.6px"><b>97%</b> 作业批改率</div>
<div class="t" style="left:3361.0px;transform:translateX(-50%);top:999.5px;font-size:37px;color:#f5d020;font-weight:700;">94</div>
<div class="t" style="left:3361.0px;transform:translateX(-50%);top:1054.5px;font-size:11px;color:#a8b4e8;font-weight:400;">分</div>
<div class="abs pl" style="left:3229.2px;top:978px;width:115px;height:26px;line-height:24px"><b>340</b> 客观题数</div>
<div class="abs pl" style="left:3391.2px;top:989px;width:113px;height:26.7px;line-height:24.7px"><b>100</b> 主观题数</div>
<div class="abs pl" style="left:3209.2px;top:1083.5px;width:125px;height:26.1px;line-height:24.1px"><b>90%</b> 作业提交率</div>
<div class="abs pl" style="left:3378.8px;top:1088px;width:123.4px;height:26.6px;line-height:24.6px"><b>97%</b> 作业批改率</div>
</div></div>
<!-- p_cards -->
<div class="abs" id="intel">
<div class="t" id="ilogo" style="left:52px;top:84px;font-size:74px;font-weight:700;letter-spacing:-3.500px;color:#fff">intel<span style="font-size:15px;letter-spacing:0;font-weight:700;margin-left:4px">®</span></div>
<div class="t" id="icpu" style="left:54px;top:182px;font-size:42px;color:#fff;transform:scaleX(.98);transform-origin:0 0">i7−12700 CPU</div>
<div class="t" id="ipcie" style="left:55px;top:325px;font-size:41px;color:#fff;transform:scaleX(.92);transform-origin:0 0">自有 PCIe x 16</div>
<div class="t" id="irtx" style="left:500px;top:325px;font-size:41px;color:#fff;transform:scaleX(.985);transform-origin:0 0">RTX−A4000 显卡</div>
<div class="abs" id="cpubox" style="left:548px;top:50px;width:168px;height:192px;background:#0c55b4;overflow:hidden">
<div class="abs" style="left:0;top:0;width:126px;height:40px;background:#0a3f98"></div>
<div class="abs" style="left:126px;top:0;width:42px;height:40px;background:#1565c8"></div>
<div class="abs" style="left:126px;top:40px;width:42px;height:125px;background:#0d4aa8"></div>
<div class="abs" style="left:0;top:165px;width:168px;height:27px;background:#0d4eae"></div>
<div class="t" style="left:136px;top:7px;font-size:24px;font-weight:700;color:#fff;letter-spacing:-1px">i7</div>
<div class="t" style="left:98px;top:46px;font-size:5px;color:#fff">第十二代</div>
<div class="t" style="left:21px;top:67px;font-size:15px;font-weight:700;color:#fff;letter-spacing:-.5px">intel.</div>
<div class="t" style="left:19px;top:84px;font-size:41px;color:#d6f2ff;letter-spacing:-1px;transform:scaleX(1.04);transform-origin:0 0">CORe</div>
<div class="t" style="left:112px;top:168px;font-size:7px;color:#cfe2ff;line-height:9px;white-space:normal;width:50px">i7-12700<br>LGA1700</div>
</div>
<svg width="845" height="426" viewBox="0 0 845 426"><g fill="none" stroke="#fff" stroke-width="4.500" stroke-linejoin="round" stroke-linecap="round">
<rect x="335" y="314" width="96" height="60" rx="6"/>
<rect x="403" y="325" width="22" height="38"/><path d="M398 332h5M398 340h5M398 348h5M398 356h5M425 332h5M425 340h5M425 348h5M425 356h5" stroke-width="3.500"/>
<path d="M431 329H470M453 314L470 329L458 344L470 359M431 359H470L453 374"/>
<path d="M355 336q-6 8 0 16M362 334q-8 10 0 20M349 338q-4 6 0 12" stroke-width="3"/>
</g></svg>
</div>
<div class="abs" id="aic">
<svg width="845" height="256" viewBox="0 0 845 256"><g class="mono" font-size="9.500" fill="#7fd0f6" opacity=".45" font-weight="700">
<text x="185" y="8" transform="rotate(2 185 8)">_mod.use_z = False</text>
<text x="170" y="20" transform="rotate(2 170 20)">ation == "MIRROR_Y":</text>
<text x="185" y="31" transform="rotate(2 185 31)">_mod.use_x = False</text>
<text x="185" y="42" transform="rotate(2 185 42)">_mod.use_y = True</text>
<text x="185" y="53" transform="rotate(2 185 53)">_mod.use_z = False</text>
<text x="170" y="64" transform="rotate(2 170 64)">ation == "MIRROR_Z":</text>
<text x="185" y="75" transform="rotate(2 185 75)">_mod.use_x = False</text>
<text x="185" y="86" transform="rotate(2 185 86)">_mod.use_y = False</text>
<text x="185" y="97" transform="rotate(2 185 97)">_mod.use_z = True</text>
<text x="170" y="116" transform="rotate(2 170 116)">ection at the end -add back the</text>
<text x="170" y="172" transform="rotate(-1 170 172)">objects[one.name].select = 1</text>
<text x="170" y="194" transform="rotate(-3 170 194)">("please select exactly two objects,</text>
<text x="170" y="212" transform="rotate(-3 170 212)">OPERATOR CLASSES</text>
<text x="190" y="246" transform="rotate(-8 190 246)" font-style="italic">.Operator):</text>
<text x="180" y="258" transform="rotate(-8 180 258)">mirror to the selected object"""</text>
</g>
<g fill="none" stroke="#8fd0f4" stroke-width="1.200" opacity=".45">
<path d="M515 30v150M533 50v110M585 20v190M643 40v180M697 60v170M715 30v120M621 150v90M775 80v150"/>
<circle cx="515" cy="22" r="5"/><circle cx="566" cy="50" r="4"/><circle cx="566" cy="78" r="4"/><circle cx="643" cy="68" r="4"/><circle cx="697" cy="30" r="4"/><circle cx="697" cy="55" r="4"/><circle cx="715" cy="85" r="4"/><circle cx="680" cy="170" r="4"/><circle cx="680" cy="195" r="4"/><circle cx="680" cy="220" r="4"/><circle cx="715" cy="205" r="4"/><circle cx="621" cy="140" r="4"/><circle cx="775" cy="72" r="3"/>
</g>
<g fill="#b6a6d8" opacity=".35"><circle cx="655" cy="30" r="4.500"/><circle cx="790" cy="115" r="5"/><circle cx="760" cy="160" r="5"/><circle cx="735" cy="205" r="4"/><circle cx="760" cy="205" r="4"/></g>
<g fill="#a8d8f6" opacity=".12"><rect x="410" y="30" width="150" height="70"/><rect x="470" y="110" width="120" height="90"/><rect x="720" y="120" width="40" height="110"/><rect x="765" y="90" width="30" height="140"/></g>
<rect x="0" y="0" width="130" height="256" fill="#3fb0e4" opacity=".25"/>
<rect x="20" y="120" width="200" height="18" fill="#4fc0ee" opacity=".18"/><rect x="0" y="190" width="260" height="22" fill="#4fc0ee" opacity=".15"/><rect x="30" y="60" width="150" height="14" fill="#4fc0ee" opacity=".15"/>
</svg>
<div class="t" id="ait" style="left:140px;top:97px;font-size:48px;font-weight:500;color:#fff;letter-spacing:.5px">AI 课堂教学行为分析系统</div>
<div class="t" id="ais" style="right:162px;top:164px;font-size:24.5px;font-weight:300;color:#fff">*10 间教室 实时分析</div>
</div>
<div class="abs pill" id="pill1">工业级主板<i>、</i>内存<i>、</i><span>SSD</span> 等硬件设备基础</div>
<div class="abs pill" id="pill2">— <span>OS Recovery</span> 硬件级别系统还原 —</div>
</div>
</body>
</html>
